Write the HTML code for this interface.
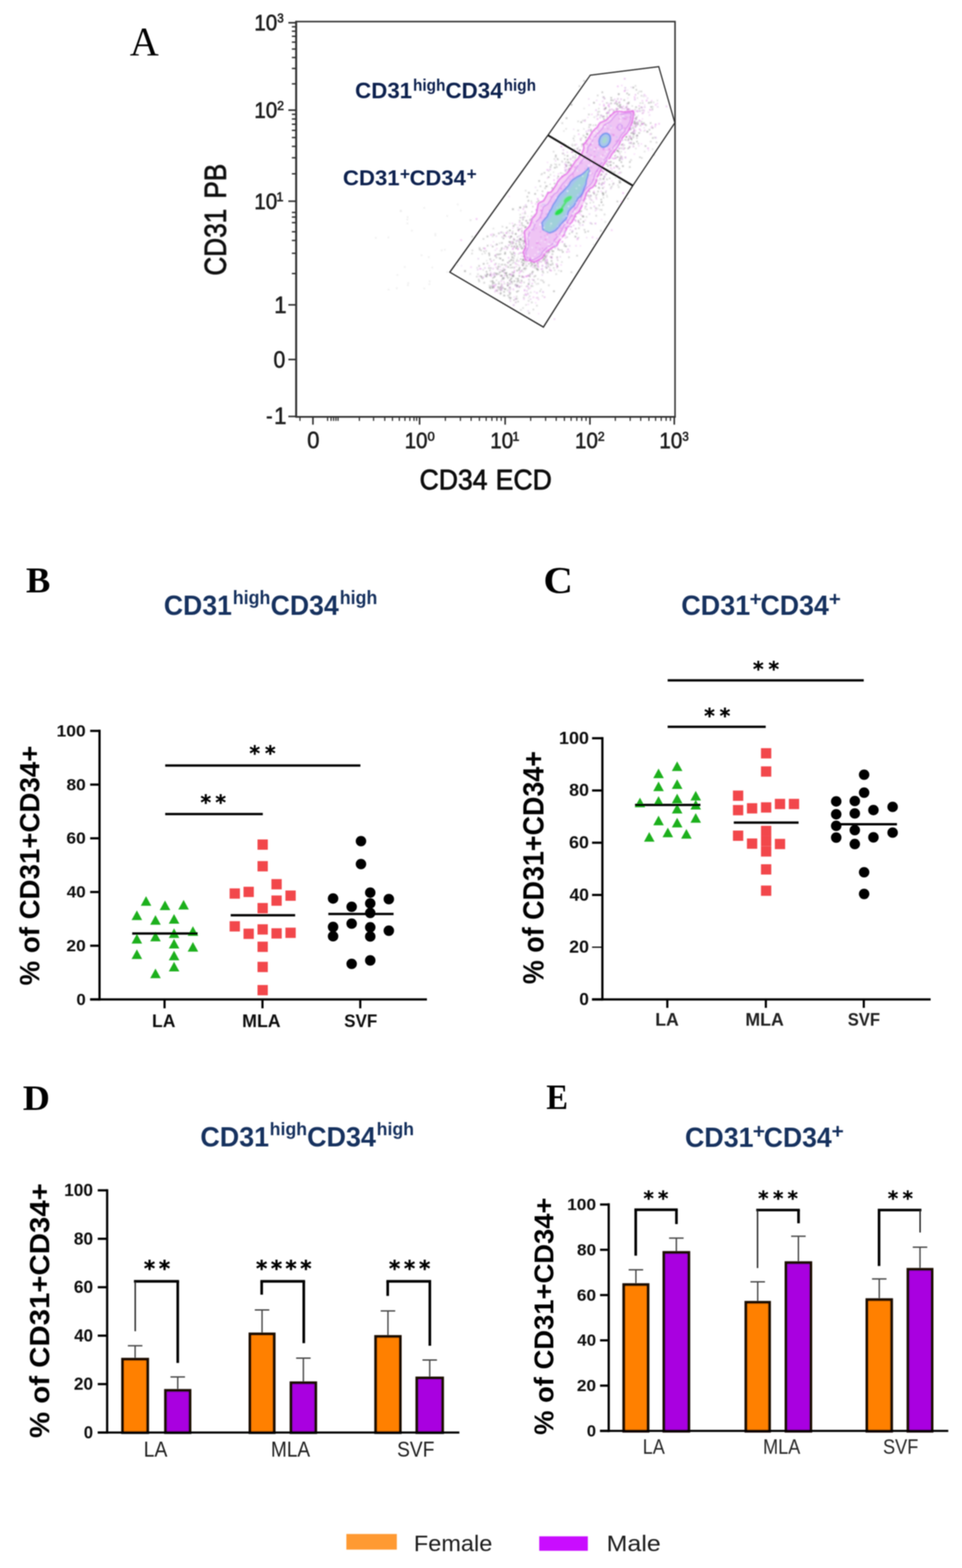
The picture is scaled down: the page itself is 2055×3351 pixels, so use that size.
<!DOCTYPE html>
<html lang="en"><head><meta charset="utf-8"><title>Figure</title>
<style>html,body{margin:0;padding:0;background:#fff;width:2055px;height:3351px}svg{display:block}text{white-space:pre}</style></head>
<body>
<svg width="2055" height="3351" viewBox="0 0 2055 3351" role="img" aria-label="Figure: CD31 and CD34 expression panels A to E">
<defs><filter id="b1" x="-5%" y="-5%" width="110%" height="110%"><feGaussianBlur stdDeviation="0.9"/></filter><filter id="gb" filterUnits="userSpaceOnUse" x="0" y="0" width="2055" height="3351"><feGaussianBlur stdDeviation="0.9"/></filter></defs>
<rect x="0" y="0" width="2055" height="3351" fill="#ffffff"/>
<g filter="url(#gb)">
<text transform="translate(277.14,117.80) scale(0.9885,1)" font-family='"Liberation Serif", serif' font-weight="normal" font-size="86.82" fill="#000" >A</text>
<path d="M632.6,46.2 H1442.0 V890.8 H632.6 Z" fill="none" stroke="#333" stroke-width="3.2"/>
<line x1="632.60" y1="44.70" x2="632.60" y2="892.30" stroke="#333" stroke-width="4.2" stroke-linecap="butt"/>
<line x1="631.60" y1="890.80" x2="1443.50" y2="890.80" stroke="#333" stroke-width="3.6" stroke-linecap="butt"/>
<line x1="616.00" y1="48.60" x2="632.60" y2="48.60" stroke="#333" stroke-width="3.4" stroke-linecap="butt"/>
<line x1="616.00" y1="235.40" x2="632.60" y2="235.40" stroke="#333" stroke-width="3.4" stroke-linecap="butt"/>
<line x1="616.00" y1="430.00" x2="632.60" y2="430.00" stroke="#333" stroke-width="3.4" stroke-linecap="butt"/>
<line x1="616.00" y1="651.50" x2="632.60" y2="651.50" stroke="#333" stroke-width="3.4" stroke-linecap="butt"/>
<line x1="616.00" y1="768.30" x2="632.60" y2="768.30" stroke="#333" stroke-width="3.4" stroke-linecap="butt"/>
<line x1="616.00" y1="890.00" x2="632.60" y2="890.00" stroke="#333" stroke-width="3.4" stroke-linecap="butt"/>
<line x1="623.50" y1="179.17" x2="632.60" y2="179.17" stroke="#333" stroke-width="3.0" stroke-linecap="butt"/>
<line x1="623.50" y1="146.27" x2="632.60" y2="146.27" stroke="#333" stroke-width="3.0" stroke-linecap="butt"/>
<line x1="623.50" y1="122.94" x2="632.60" y2="122.94" stroke="#333" stroke-width="3.0" stroke-linecap="butt"/>
<line x1="623.50" y1="104.83" x2="632.60" y2="104.83" stroke="#333" stroke-width="3.0" stroke-linecap="butt"/>
<line x1="623.50" y1="90.04" x2="632.60" y2="90.04" stroke="#333" stroke-width="3.0" stroke-linecap="butt"/>
<line x1="623.50" y1="77.54" x2="632.60" y2="77.54" stroke="#333" stroke-width="3.0" stroke-linecap="butt"/>
<line x1="623.50" y1="66.70" x2="632.60" y2="66.70" stroke="#333" stroke-width="3.0" stroke-linecap="butt"/>
<line x1="623.50" y1="57.15" x2="632.60" y2="57.15" stroke="#333" stroke-width="3.0" stroke-linecap="butt"/>
<line x1="623.50" y1="371.42" x2="632.60" y2="371.42" stroke="#333" stroke-width="3.0" stroke-linecap="butt"/>
<line x1="623.50" y1="337.15" x2="632.60" y2="337.15" stroke="#333" stroke-width="3.0" stroke-linecap="butt"/>
<line x1="623.50" y1="312.84" x2="632.60" y2="312.84" stroke="#333" stroke-width="3.0" stroke-linecap="butt"/>
<line x1="623.50" y1="293.98" x2="632.60" y2="293.98" stroke="#333" stroke-width="3.0" stroke-linecap="butt"/>
<line x1="623.50" y1="278.57" x2="632.60" y2="278.57" stroke="#333" stroke-width="3.0" stroke-linecap="butt"/>
<line x1="623.50" y1="265.54" x2="632.60" y2="265.54" stroke="#333" stroke-width="3.0" stroke-linecap="butt"/>
<line x1="623.50" y1="254.26" x2="632.60" y2="254.26" stroke="#333" stroke-width="3.0" stroke-linecap="butt"/>
<line x1="623.50" y1="244.30" x2="632.60" y2="244.30" stroke="#333" stroke-width="3.0" stroke-linecap="butt"/>
<line x1="623.50" y1="454.00" x2="632.60" y2="454.00" stroke="#333" stroke-width="3.0" stroke-linecap="butt"/>
<line x1="623.50" y1="463.90" x2="632.60" y2="463.90" stroke="#333" stroke-width="3.0" stroke-linecap="butt"/>
<line x1="623.50" y1="475.80" x2="632.60" y2="475.80" stroke="#333" stroke-width="3.0" stroke-linecap="butt"/>
<line x1="623.50" y1="495.30" x2="632.60" y2="495.30" stroke="#333" stroke-width="3.0" stroke-linecap="butt"/>
<line x1="623.50" y1="513.90" x2="632.60" y2="513.90" stroke="#333" stroke-width="3.0" stroke-linecap="butt"/>
<line x1="623.50" y1="541.30" x2="632.60" y2="541.30" stroke="#333" stroke-width="3.0" stroke-linecap="butt"/>
<line x1="623.50" y1="584.60" x2="632.60" y2="584.60" stroke="#333" stroke-width="3.0" stroke-linecap="butt"/>
<line x1="668.50" y1="890.80" x2="668.50" y2="907.50" stroke="#333" stroke-width="3.4" stroke-linecap="butt"/>
<line x1="896.30" y1="890.80" x2="896.30" y2="907.50" stroke="#333" stroke-width="3.4" stroke-linecap="butt"/>
<line x1="1079.10" y1="890.80" x2="1079.10" y2="907.50" stroke="#333" stroke-width="3.4" stroke-linecap="butt"/>
<line x1="1260.20" y1="890.80" x2="1260.20" y2="907.50" stroke="#333" stroke-width="3.4" stroke-linecap="butt"/>
<line x1="1440.40" y1="890.80" x2="1440.40" y2="907.50" stroke="#333" stroke-width="3.4" stroke-linecap="butt"/>
<line x1="640.80" y1="890.80" x2="640.80" y2="899.50" stroke="#333" stroke-width="2.6" stroke-linecap="butt"/>
<line x1="699.80" y1="890.80" x2="699.80" y2="899.50" stroke="#333" stroke-width="2.6" stroke-linecap="butt"/>
<line x1="707.20" y1="890.80" x2="707.20" y2="899.50" stroke="#333" stroke-width="2.6" stroke-linecap="butt"/>
<line x1="712.60" y1="890.80" x2="712.60" y2="899.50" stroke="#333" stroke-width="2.6" stroke-linecap="butt"/>
<line x1="717.60" y1="890.80" x2="717.60" y2="899.50" stroke="#333" stroke-width="2.6" stroke-linecap="butt"/>
<line x1="722.10" y1="890.80" x2="722.10" y2="899.50" stroke="#333" stroke-width="2.6" stroke-linecap="butt"/>
<line x1="767.70" y1="890.80" x2="767.70" y2="899.50" stroke="#333" stroke-width="2.6" stroke-linecap="butt"/>
<line x1="798.00" y1="890.80" x2="798.00" y2="899.50" stroke="#333" stroke-width="2.6" stroke-linecap="butt"/>
<line x1="821.90" y1="890.80" x2="821.90" y2="899.50" stroke="#333" stroke-width="2.6" stroke-linecap="butt"/>
<line x1="838.30" y1="890.80" x2="838.30" y2="899.50" stroke="#333" stroke-width="2.6" stroke-linecap="butt"/>
<line x1="853.00" y1="890.80" x2="853.00" y2="899.50" stroke="#333" stroke-width="2.6" stroke-linecap="butt"/>
<line x1="865.00" y1="890.80" x2="865.00" y2="899.50" stroke="#333" stroke-width="2.6" stroke-linecap="butt"/>
<line x1="875.50" y1="890.80" x2="875.50" y2="899.50" stroke="#333" stroke-width="2.6" stroke-linecap="butt"/>
<line x1="884.40" y1="890.80" x2="884.40" y2="899.50" stroke="#333" stroke-width="2.6" stroke-linecap="butt"/>
<line x1="890.00" y1="890.80" x2="890.00" y2="899.50" stroke="#333" stroke-width="2.6" stroke-linecap="butt"/>
<line x1="951.33" y1="890.80" x2="951.33" y2="899.50" stroke="#333" stroke-width="2.6" stroke-linecap="butt"/>
<line x1="983.52" y1="890.80" x2="983.52" y2="899.50" stroke="#333" stroke-width="2.6" stroke-linecap="butt"/>
<line x1="1006.36" y1="890.80" x2="1006.36" y2="899.50" stroke="#333" stroke-width="2.6" stroke-linecap="butt"/>
<line x1="1024.07" y1="890.80" x2="1024.07" y2="899.50" stroke="#333" stroke-width="2.6" stroke-linecap="butt"/>
<line x1="1038.55" y1="890.80" x2="1038.55" y2="899.50" stroke="#333" stroke-width="2.6" stroke-linecap="butt"/>
<line x1="1050.78" y1="890.80" x2="1050.78" y2="899.50" stroke="#333" stroke-width="2.6" stroke-linecap="butt"/>
<line x1="1061.38" y1="890.80" x2="1061.38" y2="899.50" stroke="#333" stroke-width="2.6" stroke-linecap="butt"/>
<line x1="1070.74" y1="890.80" x2="1070.74" y2="899.50" stroke="#333" stroke-width="2.6" stroke-linecap="butt"/>
<line x1="1133.62" y1="890.80" x2="1133.62" y2="899.50" stroke="#333" stroke-width="2.6" stroke-linecap="butt"/>
<line x1="1165.51" y1="890.80" x2="1165.51" y2="899.50" stroke="#333" stroke-width="2.6" stroke-linecap="butt"/>
<line x1="1188.13" y1="890.80" x2="1188.13" y2="899.50" stroke="#333" stroke-width="2.6" stroke-linecap="butt"/>
<line x1="1205.68" y1="890.80" x2="1205.68" y2="899.50" stroke="#333" stroke-width="2.6" stroke-linecap="butt"/>
<line x1="1220.02" y1="890.80" x2="1220.02" y2="899.50" stroke="#333" stroke-width="2.6" stroke-linecap="butt"/>
<line x1="1232.15" y1="890.80" x2="1232.15" y2="899.50" stroke="#333" stroke-width="2.6" stroke-linecap="butt"/>
<line x1="1242.65" y1="890.80" x2="1242.65" y2="899.50" stroke="#333" stroke-width="2.6" stroke-linecap="butt"/>
<line x1="1251.91" y1="890.80" x2="1251.91" y2="899.50" stroke="#333" stroke-width="2.6" stroke-linecap="butt"/>
<line x1="1314.45" y1="890.80" x2="1314.45" y2="899.50" stroke="#333" stroke-width="2.6" stroke-linecap="butt"/>
<line x1="1346.18" y1="890.80" x2="1346.18" y2="899.50" stroke="#333" stroke-width="2.6" stroke-linecap="butt"/>
<line x1="1368.69" y1="890.80" x2="1368.69" y2="899.50" stroke="#333" stroke-width="2.6" stroke-linecap="butt"/>
<line x1="1386.15" y1="890.80" x2="1386.15" y2="899.50" stroke="#333" stroke-width="2.6" stroke-linecap="butt"/>
<line x1="1400.42" y1="890.80" x2="1400.42" y2="899.50" stroke="#333" stroke-width="2.6" stroke-linecap="butt"/>
<line x1="1412.49" y1="890.80" x2="1412.49" y2="899.50" stroke="#333" stroke-width="2.6" stroke-linecap="butt"/>
<line x1="1422.94" y1="890.80" x2="1422.94" y2="899.50" stroke="#333" stroke-width="2.6" stroke-linecap="butt"/>
<line x1="1432.15" y1="890.80" x2="1432.15" y2="899.50" stroke="#333" stroke-width="2.6" stroke-linecap="butt"/>
<text transform="translate(543.31,65.12) scale(0.9057,1)" font-family='"Liberation Sans", sans-serif' font-weight="normal" font-size="48.48" fill="#1e1e1e" stroke="#1e1e1e" stroke-width="1.2" stroke-linejoin="round" >10</text>
<text transform="translate(592.27,48.33) scale(0.9107,1)" font-family='"Liberation Sans", sans-serif' font-weight="normal" font-size="27.28" fill="#1e1e1e" stroke="#1e1e1e" stroke-width="1.2" stroke-linejoin="round" >3</text>
<text transform="translate(543.31,251.92) scale(0.9057,1)" font-family='"Liberation Sans", sans-serif' font-weight="normal" font-size="48.48" fill="#1e1e1e" stroke="#1e1e1e" stroke-width="1.2" stroke-linejoin="round" >10</text>
<text transform="translate(591.88,235.40) scale(0.9531,1)" font-family='"Liberation Sans", sans-serif' font-weight="normal" font-size="27.67" fill="#1e1e1e" stroke="#1e1e1e" stroke-width="1.2" stroke-linejoin="round" >2</text>
<text transform="translate(543.31,446.52) scale(0.9057,1)" font-family='"Liberation Sans", sans-serif' font-weight="normal" font-size="48.48" fill="#1e1e1e" stroke="#1e1e1e" stroke-width="1.2" stroke-linejoin="round" >10</text>
<text transform="translate(590.59,430.00) scale(0.9649,1)" font-family='"Liberation Sans", sans-serif' font-weight="normal" font-size="28.07" fill="#1e1e1e" stroke="#1e1e1e" stroke-width="1.2" stroke-linejoin="round" >1</text>
<text transform="translate(585.82,669.20) scale(0.9599,1)" font-family='"Liberation Sans", sans-serif' font-weight="normal" font-size="49.60" fill="#1e1e1e" stroke="#1e1e1e" stroke-width="1.2" stroke-linejoin="round" >1</text>
<text transform="translate(584.19,786.31) scale(0.9144,1)" font-family='"Liberation Sans", sans-serif' font-weight="normal" font-size="49.47" fill="#1e1e1e" stroke="#1e1e1e" stroke-width="1.2" stroke-linejoin="round" >0</text>
<text transform="translate(585.62,906.20) scale(0.9627,1)" font-family='"Liberation Sans", sans-serif' font-weight="normal" font-size="49.45" fill="#1e1e1e" stroke="#1e1e1e" stroke-width="1.2" stroke-linejoin="round" >1</text>
<text transform="translate(568.34,904.61) scale(0.8897,1)" font-family='"Liberation Sans", sans-serif' font-weight="normal" font-size="47.74" fill="#1e1e1e" stroke="#1e1e1e" stroke-width="0.9" stroke-linejoin="round" >-</text>
<text transform="translate(656.32,958.41) scale(0.9565,1)" font-family='"Liberation Sans", sans-serif' font-weight="normal" font-size="49.05" fill="#1e1e1e" stroke="#1e1e1e" stroke-width="1.2" stroke-linejoin="round" >0</text>
<text transform="translate(864.41,958.42) scale(0.9057,1)" font-family='"Liberation Sans", sans-serif' font-weight="normal" font-size="48.48" fill="#1e1e1e" stroke="#1e1e1e" stroke-width="1.2" stroke-linejoin="round" >10</text>
<text transform="translate(913.19,941.63) scale(1.0211,1)" font-family='"Liberation Sans", sans-serif' font-weight="normal" font-size="27.28" fill="#1e1e1e" stroke="#1e1e1e" stroke-width="1.2" stroke-linejoin="round" >0</text>
<text transform="translate(1047.21,958.42) scale(0.9057,1)" font-family='"Liberation Sans", sans-serif' font-weight="normal" font-size="48.48" fill="#1e1e1e" stroke="#1e1e1e" stroke-width="1.2" stroke-linejoin="round" >10</text>
<text transform="translate(1094.49,941.90) scale(0.9649,1)" font-family='"Liberation Sans", sans-serif' font-weight="normal" font-size="28.07" fill="#1e1e1e" stroke="#1e1e1e" stroke-width="1.2" stroke-linejoin="round" >1</text>
<text transform="translate(1228.31,958.42) scale(0.9057,1)" font-family='"Liberation Sans", sans-serif' font-weight="normal" font-size="48.48" fill="#1e1e1e" stroke="#1e1e1e" stroke-width="1.2" stroke-linejoin="round" >10</text>
<text transform="translate(1276.88,941.90) scale(0.9531,1)" font-family='"Liberation Sans", sans-serif' font-weight="normal" font-size="27.67" fill="#1e1e1e" stroke="#1e1e1e" stroke-width="1.2" stroke-linejoin="round" >2</text>
<text transform="translate(1408.51,958.42) scale(0.9057,1)" font-family='"Liberation Sans", sans-serif' font-weight="normal" font-size="48.48" fill="#1e1e1e" stroke="#1e1e1e" stroke-width="1.2" stroke-linejoin="round" >10</text>
<text transform="translate(1457.47,941.63) scale(0.9107,1)" font-family='"Liberation Sans", sans-serif' font-weight="normal" font-size="27.28" fill="#1e1e1e" stroke="#1e1e1e" stroke-width="1.2" stroke-linejoin="round" >3</text>
<text transform="translate(896.21,1046.04) scale(0.9327,1)" font-family='"Liberation Sans", sans-serif' font-weight="normal" font-size="60.92" fill="#0a0a0a" stroke="#0a0a0a" stroke-width="1.5" stroke-linejoin="round" >CD34 <tspan dx="1.76">ECD</tspan></text>
<text transform="translate(482.49,589.05) rotate(-90) scale(0.8525,1)" font-family='"Liberation Sans", sans-serif' font-weight="normal" font-size="65.58" fill="#0a0a0a" stroke="#0a0a0a" stroke-width="1.5" stroke-linejoin="round">CD31 <tspan dx="7.13">PB</tspan></text>
<text transform="translate(758.59,210.30) scale(0.9835,1)" font-family='"Liberation Sans", sans-serif' font-weight="bold" font-size="48.44" fill="#10224f" >CD31</text>
<text transform="translate(882.20,194.30) scale(0.9334,1)" font-family='"Liberation Sans", sans-serif' font-weight="bold" font-size="35.17" fill="#10224f" >high</text>
<text transform="translate(951.59,210.30) scale(0.9870,1)" font-family='"Liberation Sans", sans-serif' font-weight="bold" font-size="48.44" fill="#10224f" >CD34</text>
<text transform="translate(1075.70,194.30) scale(0.9334,1)" font-family='"Liberation Sans", sans-serif' font-weight="bold" font-size="35.17" fill="#10224f" >high</text>
<text transform="translate(732.40,395.80) scale(1.0420,1)" font-family='"Liberation Sans", sans-serif' font-weight="bold" font-size="45.53" fill="#10224f" >CD31</text>
<text transform="translate(854.23,383.92) scale(1.0150,1)" font-family='"Liberation Sans", sans-serif' font-weight="bold" font-size="36.45" fill="#10224f" >+</text>
<text transform="translate(874.92,395.80) scale(1.0326,1)" font-family='"Liberation Sans", sans-serif' font-weight="bold" font-size="45.53" fill="#10224f" >CD34</text>
<text transform="translate(996.73,383.92) scale(1.0150,1)" font-family='"Liberation Sans", sans-serif' font-weight="bold" font-size="36.45" fill="#10224f" >+</text>
<g filter="url(#b1)">
<rect x="1023.4" y="532.0" width="2.7" height="2.7" fill="#a8a8a8" opacity="0.79"/>
<rect x="1046.9" y="588.1" width="2.8" height="2.8" fill="#e8a0ee" opacity="0.70"/>
<rect x="1140.4" y="560.9" width="2.8" height="2.8" fill="#989898" opacity="0.81"/>
<rect x="1121.5" y="572.0" width="3.4" height="3.4" fill="#b8b8b8" opacity="0.84"/>
<rect x="1092.9" y="549.3" width="3.2" height="3.2" fill="#808080" opacity="0.48"/>
<rect x="1050.6" y="614.0" width="2.9" height="2.9" fill="#8c8c8c" opacity="0.76"/>
<rect x="1065.8" y="580.4" width="3.0" height="3.0" fill="#8c8c8c" opacity="0.65"/>
<rect x="1096.1" y="550.2" width="3.0" height="3.0" fill="#a8a8a8" opacity="0.61"/>
<rect x="1112.5" y="578.4" width="2.6" height="2.6" fill="#b8b8b8" opacity="0.54"/>
<rect x="1075.7" y="592.8" width="2.9" height="2.9" fill="#989898" opacity="0.49"/>
<rect x="1065.4" y="613.3" width="3.2" height="3.2" fill="#808080" opacity="0.45"/>
<rect x="1087.6" y="613.1" width="2.8" height="2.8" fill="#808080" opacity="0.84"/>
<rect x="1130.7" y="614.3" width="3.0" height="3.0" fill="#e8a0ee" opacity="0.58"/>
<rect x="1103.5" y="608.7" width="3.4" height="3.4" fill="#808080" opacity="0.75"/>
<rect x="1069.6" y="614.6" width="2.8" height="2.8" fill="#808080" opacity="0.64"/>
<rect x="1124.5" y="566.8" width="2.7" height="2.7" fill="#8c8c8c" opacity="0.53"/>
<rect x="1145.0" y="573.4" width="2.7" height="2.7" fill="#989898" opacity="0.85"/>
<rect x="1095.6" y="650.4" width="3.4" height="3.4" fill="#d0a4e0" opacity="0.77"/>
<rect x="1099.5" y="606.9" width="3.4" height="3.4" fill="#989898" opacity="0.69"/>
<rect x="1086.8" y="556.8" width="3.4" height="3.4" fill="#808080" opacity="0.54"/>
<rect x="1083.4" y="602.8" width="2.7" height="2.7" fill="#b8b8b8" opacity="0.48"/>
<rect x="1046.6" y="585.0" width="2.5" height="2.5" fill="#e388e8" opacity="0.69"/>
<rect x="1007.5" y="533.4" width="3.2" height="3.2" fill="#a8a8a8" opacity="0.50"/>
<rect x="1112.4" y="603.4" width="2.4" height="2.4" fill="#e388e8" opacity="0.81"/>
<rect x="1134.7" y="565.1" width="2.4" height="2.4" fill="#8c8c8c" opacity="0.83"/>
<rect x="1096.0" y="516.8" width="2.3" height="2.3" fill="#989898" opacity="0.65"/>
<rect x="1058.1" y="585.9" width="3.0" height="3.0" fill="#d896e4" opacity="0.55"/>
<rect x="1096.7" y="526.2" width="3.3" height="3.3" fill="#a8a8a8" opacity="0.84"/>
<rect x="1054.2" y="602.7" width="2.9" height="2.9" fill="#a8a8a8" opacity="0.79"/>
<rect x="1090.6" y="553.7" width="3.1" height="3.1" fill="#8c8c8c" opacity="0.48"/>
<rect x="1162.3" y="633.9" width="2.3" height="2.3" fill="#8c8c8c" opacity="0.52"/>
<rect x="1071.3" y="577.7" width="2.4" height="2.4" fill="#808080" opacity="0.63"/>
<rect x="1076.7" y="587.2" width="3.0" height="3.0" fill="#d896e4" opacity="0.68"/>
<rect x="1077.0" y="616.3" width="3.0" height="3.0" fill="#808080" opacity="0.84"/>
<rect x="1063.8" y="625.3" width="2.3" height="2.3" fill="#e388e8" opacity="0.48"/>
<rect x="1091.3" y="600.3" width="2.9" height="2.9" fill="#a8a8a8" opacity="0.74"/>
<rect x="1096.4" y="539.1" width="2.6" height="2.6" fill="#808080" opacity="0.72"/>
<rect x="1068.8" y="495.2" width="3.2" height="3.2" fill="#d0a4e0" opacity="0.83"/>
<rect x="1057.4" y="619.5" width="2.7" height="2.7" fill="#e388e8" opacity="0.68"/>
<rect x="1104.1" y="563.9" width="2.3" height="2.3" fill="#989898" opacity="0.50"/>
<rect x="1053.6" y="582.5" width="3.0" height="3.0" fill="#d896e4" opacity="0.63"/>
<rect x="1108.5" y="589.1" width="2.3" height="2.3" fill="#8c8c8c" opacity="0.75"/>
<rect x="1032.7" y="602.6" width="3.3" height="3.3" fill="#8c8c8c" opacity="0.50"/>
<rect x="1093.8" y="530.8" width="3.3" height="3.3" fill="#e388e8" opacity="0.55"/>
<rect x="1046.1" y="614.6" width="2.8" height="2.8" fill="#8c8c8c" opacity="0.75"/>
<rect x="1132.3" y="623.7" width="2.8" height="2.8" fill="#a8a8a8" opacity="0.55"/>
<rect x="1089.4" y="584.7" width="3.2" height="3.2" fill="#e8a0ee" opacity="0.82"/>
<rect x="1170.0" y="568.1" width="2.5" height="2.5" fill="#989898" opacity="0.82"/>
<rect x="1096.1" y="618.9" width="2.2" height="2.2" fill="#d0a4e0" opacity="0.48"/>
<rect x="1147.4" y="561.4" width="3.2" height="3.2" fill="#8c8c8c" opacity="0.60"/>
<rect x="1122.0" y="589.7" width="2.6" height="2.6" fill="#e388e8" opacity="0.79"/>
<rect x="1118.1" y="516.9" width="2.5" height="2.5" fill="#808080" opacity="0.69"/>
<rect x="1112.8" y="559.3" width="2.9" height="2.9" fill="#b8b8b8" opacity="0.57"/>
<rect x="1095.3" y="581.2" width="3.1" height="3.1" fill="#808080" opacity="0.56"/>
<rect x="1143.7" y="565.2" width="2.7" height="2.7" fill="#989898" opacity="0.70"/>
<rect x="1016.7" y="496.7" width="2.6" height="2.6" fill="#e8a0ee" opacity="0.48"/>
<rect x="1086.3" y="614.0" width="2.2" height="2.2" fill="#d896e4" opacity="0.64"/>
<rect x="1088.9" y="537.4" width="2.5" height="2.5" fill="#a8a8a8" opacity="0.76"/>
<rect x="1135.8" y="596.2" width="2.4" height="2.4" fill="#e8a0ee" opacity="0.79"/>
<rect x="1097.8" y="545.7" width="2.3" height="2.3" fill="#8c8c8c" opacity="0.82"/>
<rect x="1136.9" y="569.3" width="3.3" height="3.3" fill="#e388e8" opacity="0.45"/>
<rect x="1126.3" y="588.1" width="3.3" height="3.3" fill="#e388e8" opacity="0.77"/>
<rect x="1081.3" y="497.2" width="2.3" height="2.3" fill="#8c8c8c" opacity="0.80"/>
<rect x="1105.8" y="598.2" width="3.4" height="3.4" fill="#989898" opacity="0.66"/>
<rect x="1086.0" y="523.8" width="2.2" height="2.2" fill="#d0a4e0" opacity="0.65"/>
<rect x="1128.9" y="667.7" width="2.9" height="2.9" fill="#808080" opacity="0.76"/>
<rect x="1154.5" y="617.0" width="2.7" height="2.7" fill="#989898" opacity="0.46"/>
<rect x="1109.4" y="579.0" width="3.1" height="3.1" fill="#e388e8" opacity="0.51"/>
<rect x="1018.9" y="575.0" width="3.0" height="3.0" fill="#d0a4e0" opacity="0.63"/>
<rect x="1117.8" y="532.2" width="3.3" height="3.3" fill="#b8b8b8" opacity="0.48"/>
<rect x="1049.7" y="585.2" width="2.9" height="2.9" fill="#d896e4" opacity="0.52"/>
<rect x="1092.8" y="570.5" width="2.5" height="2.5" fill="#8c8c8c" opacity="0.72"/>
<rect x="1159.5" y="549.5" width="3.2" height="3.2" fill="#b8b8b8" opacity="0.84"/>
<rect x="1065.2" y="549.9" width="2.8" height="2.8" fill="#b8b8b8" opacity="0.61"/>
<rect x="1101.0" y="636.8" width="3.4" height="3.4" fill="#8c8c8c" opacity="0.66"/>
<rect x="1090.3" y="586.0" width="3.4" height="3.4" fill="#e8a0ee" opacity="0.50"/>
<rect x="1105.5" y="643.1" width="2.7" height="2.7" fill="#a8a8a8" opacity="0.83"/>
<rect x="1192.3" y="576.9" width="2.5" height="2.5" fill="#b8b8b8" opacity="0.65"/>
<rect x="1147.7" y="634.7" width="2.8" height="2.8" fill="#a8a8a8" opacity="0.49"/>
<rect x="1045.6" y="552.3" width="3.3" height="3.3" fill="#808080" opacity="0.50"/>
<rect x="1137.6" y="561.1" width="2.2" height="2.2" fill="#8c8c8c" opacity="0.56"/>
<rect x="1115.3" y="554.2" width="2.9" height="2.9" fill="#8c8c8c" opacity="0.49"/>
<rect x="1141.0" y="570.7" width="3.1" height="3.1" fill="#b8b8b8" opacity="0.73"/>
<rect x="1021.3" y="595.7" width="2.4" height="2.4" fill="#b8b8b8" opacity="0.53"/>
<rect x="1060.0" y="530.1" width="2.5" height="2.5" fill="#e388e8" opacity="0.54"/>
<rect x="1084.1" y="560.1" width="3.0" height="3.0" fill="#d896e4" opacity="0.59"/>
<rect x="1064.5" y="601.5" width="2.6" height="2.6" fill="#b8b8b8" opacity="0.82"/>
<rect x="1145.2" y="651.5" width="3.3" height="3.3" fill="#a8a8a8" opacity="0.50"/>
<rect x="1066.4" y="617.0" width="2.3" height="2.3" fill="#989898" opacity="0.78"/>
<rect x="1095.1" y="586.1" width="3.0" height="3.0" fill="#989898" opacity="0.77"/>
<rect x="1051.2" y="605.2" width="3.0" height="3.0" fill="#b8b8b8" opacity="0.81"/>
<rect x="1140.6" y="566.3" width="3.4" height="3.4" fill="#8c8c8c" opacity="0.78"/>
<rect x="1110.6" y="538.9" width="2.9" height="2.9" fill="#e8a0ee" opacity="0.66"/>
<rect x="1102.1" y="568.5" width="2.4" height="2.4" fill="#a8a8a8" opacity="0.50"/>
<rect x="1087.8" y="618.9" width="2.3" height="2.3" fill="#e388e8" opacity="0.47"/>
<rect x="1096.4" y="580.8" width="2.7" height="2.7" fill="#a8a8a8" opacity="0.59"/>
<rect x="1046.6" y="584.8" width="2.2" height="2.2" fill="#808080" opacity="0.73"/>
<rect x="1146.2" y="573.1" width="3.3" height="3.3" fill="#989898" opacity="0.69"/>
<rect x="1075.3" y="622.1" width="3.2" height="3.2" fill="#989898" opacity="0.73"/>
<rect x="1093.8" y="518.6" width="3.3" height="3.3" fill="#e388e8" opacity="0.68"/>
<rect x="1048.5" y="589.0" width="2.5" height="2.5" fill="#e8a0ee" opacity="0.81"/>
<rect x="1098.4" y="539.4" width="2.4" height="2.4" fill="#e8a0ee" opacity="0.82"/>
<rect x="1050.6" y="599.2" width="3.1" height="3.1" fill="#808080" opacity="0.76"/>
<rect x="1125.6" y="609.5" width="2.4" height="2.4" fill="#d896e4" opacity="0.77"/>
<rect x="1137.9" y="633.7" width="3.3" height="3.3" fill="#e388e8" opacity="0.47"/>
<rect x="1121.1" y="626.5" width="2.6" height="2.6" fill="#e388e8" opacity="0.54"/>
<rect x="1095.2" y="588.5" width="3.4" height="3.4" fill="#8c8c8c" opacity="0.71"/>
<rect x="1122.6" y="562.6" width="2.7" height="2.7" fill="#e8a0ee" opacity="0.68"/>
<rect x="1087.9" y="627.7" width="2.7" height="2.7" fill="#a8a8a8" opacity="0.47"/>
<rect x="1090.0" y="616.9" width="2.2" height="2.2" fill="#989898" opacity="0.55"/>
<rect x="1058.3" y="582.9" width="3.4" height="3.4" fill="#989898" opacity="0.68"/>
<rect x="1166.0" y="547.9" width="2.7" height="2.7" fill="#e388e8" opacity="0.71"/>
<rect x="1059.6" y="542.2" width="3.3" height="3.3" fill="#989898" opacity="0.51"/>
<rect x="1022.8" y="528.7" width="3.2" height="3.2" fill="#a8a8a8" opacity="0.67"/>
<rect x="1068.4" y="541.2" width="2.8" height="2.8" fill="#b8b8b8" opacity="0.69"/>
<rect x="1103.3" y="600.2" width="2.8" height="2.8" fill="#b8b8b8" opacity="0.56"/>
<rect x="1098.6" y="511.4" width="2.2" height="2.2" fill="#808080" opacity="0.55"/>
<rect x="1017.1" y="589.9" width="2.7" height="2.7" fill="#a8a8a8" opacity="0.72"/>
<rect x="1051.5" y="612.0" width="3.4" height="3.4" fill="#b8b8b8" opacity="0.83"/>
<rect x="1096.6" y="639.9" width="2.7" height="2.7" fill="#8c8c8c" opacity="0.64"/>
<rect x="1167.4" y="557.6" width="3.3" height="3.3" fill="#d896e4" opacity="0.51"/>
<rect x="1116.0" y="656.9" width="2.7" height="2.7" fill="#989898" opacity="0.53"/>
<rect x="1047.9" y="609.7" width="2.4" height="2.4" fill="#a8a8a8" opacity="0.62"/>
<rect x="1100.5" y="562.6" width="2.9" height="2.9" fill="#e388e8" opacity="0.62"/>
<rect x="1003.6" y="469.0" width="3.1" height="3.1" fill="#b8b8b8" opacity="0.55"/>
<rect x="1047.0" y="599.7" width="3.1" height="3.1" fill="#b8b8b8" opacity="0.70"/>
<rect x="1079.6" y="584.9" width="3.0" height="3.0" fill="#b8b8b8" opacity="0.53"/>
<rect x="1130.3" y="632.0" width="2.4" height="2.4" fill="#8c8c8c" opacity="0.55"/>
<rect x="1188.8" y="565.9" width="3.0" height="3.0" fill="#808080" opacity="0.45"/>
<rect x="1045.1" y="576.3" width="2.9" height="2.9" fill="#808080" opacity="0.49"/>
<rect x="1111.9" y="579.4" width="2.4" height="2.4" fill="#e388e8" opacity="0.54"/>
<rect x="1077.0" y="564.2" width="3.1" height="3.1" fill="#a8a8a8" opacity="0.79"/>
<rect x="1089.9" y="635.2" width="2.7" height="2.7" fill="#989898" opacity="0.78"/>
<rect x="1078.4" y="525.2" width="3.2" height="3.2" fill="#989898" opacity="0.60"/>
<rect x="1136.4" y="579.3" width="3.1" height="3.1" fill="#8c8c8c" opacity="0.78"/>
<rect x="1072.0" y="606.2" width="2.6" height="2.6" fill="#e388e8" opacity="0.49"/>
<rect x="1107.4" y="572.9" width="3.2" height="3.2" fill="#a8a8a8" opacity="0.64"/>
<rect x="1147.6" y="561.3" width="2.9" height="2.9" fill="#e388e8" opacity="0.73"/>
<rect x="1097.6" y="576.7" width="3.0" height="3.0" fill="#e8a0ee" opacity="0.56"/>
<rect x="1037.8" y="588.9" width="3.3" height="3.3" fill="#808080" opacity="0.58"/>
<rect x="1133.5" y="609.6" width="3.3" height="3.3" fill="#b8b8b8" opacity="0.83"/>
<rect x="1070.7" y="494.7" width="2.7" height="2.7" fill="#b8b8b8" opacity="0.54"/>
<rect x="1098.9" y="541.9" width="2.6" height="2.6" fill="#d0a4e0" opacity="0.60"/>
<rect x="1087.6" y="584.8" width="3.2" height="3.2" fill="#989898" opacity="0.75"/>
<rect x="1072.3" y="578.5" width="2.9" height="2.9" fill="#b8b8b8" opacity="0.52"/>
<rect x="1126.9" y="556.8" width="2.5" height="2.5" fill="#d0a4e0" opacity="0.46"/>
<rect x="1056.5" y="545.2" width="3.0" height="3.0" fill="#808080" opacity="0.77"/>
<rect x="1053.8" y="611.9" width="2.6" height="2.6" fill="#8c8c8c" opacity="0.67"/>
<rect x="1082.3" y="590.5" width="2.3" height="2.3" fill="#808080" opacity="0.70"/>
<rect x="1086.5" y="622.3" width="3.2" height="3.2" fill="#d896e4" opacity="0.62"/>
<rect x="1039.7" y="503.8" width="3.1" height="3.1" fill="#808080" opacity="0.61"/>
<rect x="1089.8" y="595.2" width="3.0" height="3.0" fill="#808080" opacity="0.65"/>
<rect x="1089.6" y="564.7" width="2.7" height="2.7" fill="#808080" opacity="0.78"/>
<rect x="1057.3" y="522.9" width="2.2" height="2.2" fill="#d0a4e0" opacity="0.60"/>
<rect x="1027.1" y="589.7" width="2.8" height="2.8" fill="#808080" opacity="0.73"/>
<rect x="1074.5" y="571.9" width="2.4" height="2.4" fill="#d896e4" opacity="0.70"/>
<rect x="1118.3" y="562.2" width="2.4" height="2.4" fill="#808080" opacity="0.62"/>
<rect x="1092.9" y="604.3" width="3.1" height="3.1" fill="#b8b8b8" opacity="0.57"/>
<rect x="1069.8" y="609.0" width="3.3" height="3.3" fill="#a8a8a8" opacity="0.75"/>
<rect x="1003.4" y="584.3" width="2.3" height="2.3" fill="#808080" opacity="0.52"/>
<rect x="1083.3" y="609.0" width="2.9" height="2.9" fill="#8c8c8c" opacity="0.64"/>
<rect x="1031.7" y="529.2" width="2.4" height="2.4" fill="#989898" opacity="0.75"/>
<rect x="1107.9" y="611.6" width="3.3" height="3.3" fill="#8c8c8c" opacity="0.67"/>
<rect x="1088.1" y="515.8" width="3.0" height="3.0" fill="#808080" opacity="0.76"/>
<rect x="1070.7" y="619.2" width="2.5" height="2.5" fill="#d0a4e0" opacity="0.47"/>
<rect x="1067.5" y="551.0" width="3.1" height="3.1" fill="#8c8c8c" opacity="0.77"/>
<rect x="1126.8" y="663.1" width="2.8" height="2.8" fill="#d0a4e0" opacity="0.60"/>
<rect x="1085.6" y="522.6" width="2.7" height="2.7" fill="#d896e4" opacity="0.80"/>
<rect x="1092.9" y="585.5" width="3.2" height="3.2" fill="#d0a4e0" opacity="0.50"/>
<rect x="1095.3" y="537.6" width="2.5" height="2.5" fill="#b8b8b8" opacity="0.66"/>
<rect x="1071.8" y="611.2" width="3.3" height="3.3" fill="#d0a4e0" opacity="0.51"/>
<rect x="1068.3" y="612.1" width="2.5" height="2.5" fill="#808080" opacity="0.74"/>
<rect x="1031.0" y="591.2" width="2.9" height="2.9" fill="#d896e4" opacity="0.79"/>
<rect x="1087.1" y="598.5" width="2.4" height="2.4" fill="#e8a0ee" opacity="0.53"/>
<rect x="1116.2" y="561.1" width="2.9" height="2.9" fill="#808080" opacity="0.66"/>
<rect x="1037.3" y="586.3" width="3.4" height="3.4" fill="#d0a4e0" opacity="0.58"/>
<rect x="983.5" y="511.7" width="3.1" height="3.1" fill="#e388e8" opacity="0.59"/>
<rect x="1070.4" y="528.8" width="3.0" height="3.0" fill="#989898" opacity="0.72"/>
<rect x="1117.5" y="552.2" width="2.2" height="2.2" fill="#a8a8a8" opacity="0.60"/>
<rect x="1094.8" y="542.1" width="2.6" height="2.6" fill="#8c8c8c" opacity="0.50"/>
<rect x="1154.9" y="574.1" width="2.4" height="2.4" fill="#d896e4" opacity="0.70"/>
<rect x="1031.5" y="562.2" width="3.3" height="3.3" fill="#989898" opacity="0.75"/>
<rect x="1025.1" y="588.7" width="2.4" height="2.4" fill="#8c8c8c" opacity="0.74"/>
<rect x="1124.1" y="620.1" width="3.0" height="3.0" fill="#d896e4" opacity="0.63"/>
<rect x="1073.7" y="577.3" width="2.4" height="2.4" fill="#989898" opacity="0.49"/>
<rect x="1103.6" y="553.1" width="2.2" height="2.2" fill="#989898" opacity="0.64"/>
<rect x="1090.8" y="540.3" width="2.5" height="2.5" fill="#989898" opacity="0.51"/>
<rect x="1059.0" y="606.4" width="2.7" height="2.7" fill="#d0a4e0" opacity="0.65"/>
<rect x="1113.9" y="564.8" width="2.4" height="2.4" fill="#e8a0ee" opacity="0.73"/>
<rect x="1135.6" y="604.7" width="2.7" height="2.7" fill="#d896e4" opacity="0.73"/>
<rect x="1108.7" y="510.4" width="2.5" height="2.5" fill="#e8a0ee" opacity="0.84"/>
<rect x="1097.0" y="571.0" width="3.0" height="3.0" fill="#b8b8b8" opacity="0.49"/>
<rect x="1108.9" y="602.3" width="2.6" height="2.6" fill="#8c8c8c" opacity="0.57"/>
<rect x="1062.4" y="612.0" width="3.3" height="3.3" fill="#8c8c8c" opacity="0.67"/>
<rect x="1061.4" y="573.3" width="2.8" height="2.8" fill="#8c8c8c" opacity="0.68"/>
<rect x="1182.8" y="680.4" width="3.2" height="3.2" fill="#d896e4" opacity="0.53"/>
<rect x="1080.0" y="496.3" width="3.0" height="3.0" fill="#e388e8" opacity="0.76"/>
<rect x="1036.7" y="589.1" width="2.6" height="2.6" fill="#808080" opacity="0.82"/>
<rect x="1091.3" y="592.6" width="3.3" height="3.3" fill="#a8a8a8" opacity="0.63"/>
<rect x="1115.7" y="553.5" width="2.9" height="2.9" fill="#8c8c8c" opacity="0.67"/>
<rect x="1122.3" y="628.7" width="3.4" height="3.4" fill="#d896e4" opacity="0.78"/>
<rect x="1147.7" y="595.0" width="3.0" height="3.0" fill="#b8b8b8" opacity="0.60"/>
<rect x="1157.5" y="578.0" width="3.2" height="3.2" fill="#808080" opacity="0.52"/>
<rect x="1107.2" y="575.3" width="3.1" height="3.1" fill="#a8a8a8" opacity="0.82"/>
<rect x="1073.2" y="614.0" width="2.9" height="2.9" fill="#989898" opacity="0.71"/>
<rect x="1051.2" y="504.0" width="2.4" height="2.4" fill="#a8a8a8" opacity="0.64"/>
<rect x="1038.7" y="589.5" width="2.6" height="2.6" fill="#a8a8a8" opacity="0.50"/>
<rect x="1106.2" y="620.7" width="2.3" height="2.3" fill="#808080" opacity="0.76"/>
<rect x="1119.9" y="557.6" width="2.9" height="2.9" fill="#a8a8a8" opacity="0.64"/>
<rect x="1057.5" y="561.8" width="3.3" height="3.3" fill="#b8b8b8" opacity="0.68"/>
<rect x="1076.2" y="575.3" width="3.2" height="3.2" fill="#a8a8a8" opacity="0.79"/>
<rect x="1157.7" y="631.1" width="2.3" height="2.3" fill="#989898" opacity="0.50"/>
<rect x="1108.2" y="516.6" width="3.3" height="3.3" fill="#989898" opacity="0.58"/>
<rect x="1099.8" y="645.0" width="2.9" height="2.9" fill="#d896e4" opacity="0.62"/>
<rect x="1062.2" y="570.3" width="3.3" height="3.3" fill="#b8b8b8" opacity="0.55"/>
<rect x="1173.1" y="575.6" width="2.8" height="2.8" fill="#8c8c8c" opacity="0.61"/>
<rect x="1050.9" y="611.8" width="2.9" height="2.9" fill="#8c8c8c" opacity="0.71"/>
<rect x="1089.7" y="503.7" width="3.4" height="3.4" fill="#989898" opacity="0.74"/>
<rect x="1094.6" y="517.5" width="3.2" height="3.2" fill="#b8b8b8" opacity="0.54"/>
<rect x="1144.3" y="570.6" width="2.3" height="2.3" fill="#b8b8b8" opacity="0.48"/>
<rect x="1144.4" y="605.2" width="3.3" height="3.3" fill="#b8b8b8" opacity="0.45"/>
<rect x="1127.9" y="635.6" width="2.2" height="2.2" fill="#b8b8b8" opacity="0.52"/>
<rect x="1053.6" y="554.6" width="2.6" height="2.6" fill="#a8a8a8" opacity="0.68"/>
<rect x="1076.7" y="630.4" width="2.7" height="2.7" fill="#808080" opacity="0.58"/>
<rect x="1119.4" y="617.6" width="2.8" height="2.8" fill="#e8a0ee" opacity="0.53"/>
<rect x="1126.5" y="626.9" width="3.3" height="3.3" fill="#d896e4" opacity="0.53"/>
<rect x="1097.6" y="524.7" width="3.0" height="3.0" fill="#a8a8a8" opacity="0.73"/>
<rect x="1130.2" y="589.3" width="3.0" height="3.0" fill="#8c8c8c" opacity="0.53"/>
<rect x="1117.2" y="555.1" width="3.4" height="3.4" fill="#808080" opacity="0.56"/>
<rect x="1112.3" y="598.1" width="2.7" height="2.7" fill="#e8a0ee" opacity="0.48"/>
<rect x="1056.2" y="589.4" width="2.3" height="2.3" fill="#b8b8b8" opacity="0.73"/>
<rect x="1072.7" y="593.9" width="3.1" height="3.1" fill="#b8b8b8" opacity="0.60"/>
<rect x="1069.7" y="532.1" width="2.9" height="2.9" fill="#989898" opacity="0.54"/>
<rect x="1126.0" y="625.7" width="2.4" height="2.4" fill="#b8b8b8" opacity="0.72"/>
<rect x="1072.0" y="564.0" width="2.7" height="2.7" fill="#989898" opacity="0.66"/>
<rect x="1141.3" y="601.4" width="2.8" height="2.8" fill="#b8b8b8" opacity="0.62"/>
<rect x="1113.8" y="576.6" width="2.5" height="2.5" fill="#a8a8a8" opacity="0.75"/>
<rect x="1070.8" y="596.0" width="3.1" height="3.1" fill="#a8a8a8" opacity="0.51"/>
<rect x="1165.4" y="562.2" width="2.8" height="2.8" fill="#b8b8b8" opacity="0.75"/>
<rect x="1123.2" y="611.0" width="2.3" height="2.3" fill="#a8a8a8" opacity="0.76"/>
<rect x="1108.7" y="521.4" width="3.0" height="3.0" fill="#808080" opacity="0.76"/>
<rect x="1033.9" y="529.5" width="3.4" height="3.4" fill="#e388e8" opacity="0.75"/>
<rect x="1096.4" y="570.2" width="3.1" height="3.1" fill="#b8b8b8" opacity="0.52"/>
<rect x="1107.3" y="566.2" width="2.5" height="2.5" fill="#e8a0ee" opacity="0.74"/>
<rect x="1147.4" y="576.6" width="2.8" height="2.8" fill="#b8b8b8" opacity="0.54"/>
<rect x="1093.2" y="560.7" width="3.4" height="3.4" fill="#b8b8b8" opacity="0.47"/>
<rect x="1092.8" y="580.4" width="2.6" height="2.6" fill="#a8a8a8" opacity="0.69"/>
<rect x="1117.5" y="573.2" width="2.5" height="2.5" fill="#d896e4" opacity="0.77"/>
<rect x="1029.5" y="593.9" width="2.9" height="2.9" fill="#a8a8a8" opacity="0.67"/>
<rect x="1118.4" y="546.0" width="2.7" height="2.7" fill="#b8b8b8" opacity="0.73"/>
<rect x="1124.0" y="557.9" width="2.3" height="2.3" fill="#a8a8a8" opacity="0.78"/>
<rect x="1018.0" y="571.0" width="2.5" height="2.5" fill="#b8b8b8" opacity="0.65"/>
<rect x="1077.8" y="538.1" width="2.7" height="2.7" fill="#808080" opacity="0.60"/>
<rect x="1055.7" y="590.1" width="2.4" height="2.4" fill="#808080" opacity="0.75"/>
<rect x="1139.6" y="589.6" width="3.1" height="3.1" fill="#8c8c8c" opacity="0.47"/>
<rect x="1118.7" y="629.8" width="2.4" height="2.4" fill="#8c8c8c" opacity="0.61"/>
<rect x="1070.4" y="587.8" width="3.0" height="3.0" fill="#808080" opacity="0.74"/>
<rect x="1099.6" y="560.3" width="2.5" height="2.5" fill="#d0a4e0" opacity="0.63"/>
<rect x="1038.4" y="555.8" width="2.5" height="2.5" fill="#b8b8b8" opacity="0.51"/>
<rect x="1181.8" y="620.9" width="3.1" height="3.1" fill="#808080" opacity="0.68"/>
<rect x="1181.5" y="571.2" width="2.8" height="2.8" fill="#a8a8a8" opacity="0.61"/>
<rect x="1071.0" y="505.5" width="2.7" height="2.7" fill="#989898" opacity="0.47"/>
<rect x="1091.9" y="584.3" width="2.4" height="2.4" fill="#e8a0ee" opacity="0.53"/>
<rect x="1134.6" y="644.7" width="3.1" height="3.1" fill="#a8a8a8" opacity="0.64"/>
<rect x="1081.1" y="566.0" width="2.4" height="2.4" fill="#a8a8a8" opacity="0.60"/>
<rect x="1051.2" y="608.8" width="2.5" height="2.5" fill="#d896e4" opacity="0.83"/>
<rect x="1051.1" y="525.5" width="2.7" height="2.7" fill="#8c8c8c" opacity="0.82"/>
<rect x="1105.2" y="548.5" width="2.3" height="2.3" fill="#b8b8b8" opacity="0.47"/>
<rect x="1115.5" y="553.7" width="3.1" height="3.1" fill="#8c8c8c" opacity="0.81"/>
<rect x="1044.7" y="612.3" width="3.2" height="3.2" fill="#808080" opacity="0.63"/>
<rect x="1102.9" y="525.7" width="3.0" height="3.0" fill="#8c8c8c" opacity="0.57"/>
<rect x="1121.2" y="575.8" width="2.2" height="2.2" fill="#a8a8a8" opacity="0.51"/>
<rect x="1131.1" y="584.5" width="2.8" height="2.8" fill="#989898" opacity="0.73"/>
<rect x="1103.2" y="577.2" width="2.5" height="2.5" fill="#8c8c8c" opacity="0.74"/>
<rect x="1121.6" y="567.2" width="2.8" height="2.8" fill="#b8b8b8" opacity="0.63"/>
<rect x="1088.4" y="624.7" width="3.2" height="3.2" fill="#8c8c8c" opacity="0.54"/>
<rect x="1068.7" y="587.6" width="3.2" height="3.2" fill="#808080" opacity="0.75"/>
<rect x="1114.1" y="589.9" width="3.2" height="3.2" fill="#808080" opacity="0.84"/>
<rect x="1046.7" y="571.5" width="2.9" height="2.9" fill="#8c8c8c" opacity="0.59"/>
<rect x="1004.7" y="569.3" width="3.2" height="3.2" fill="#e8a0ee" opacity="0.54"/>
<rect x="1135.2" y="581.7" width="2.8" height="2.8" fill="#989898" opacity="0.65"/>
<rect x="1074.3" y="592.6" width="2.4" height="2.4" fill="#989898" opacity="0.76"/>
<rect x="1063.5" y="575.1" width="2.5" height="2.5" fill="#d896e4" opacity="0.49"/>
<rect x="1068.5" y="579.9" width="2.5" height="2.5" fill="#b8b8b8" opacity="0.79"/>
<rect x="1091.6" y="600.9" width="3.3" height="3.3" fill="#808080" opacity="0.50"/>
<rect x="1073.9" y="578.3" width="2.9" height="2.9" fill="#d0a4e0" opacity="0.64"/>
<rect x="1083.8" y="592.9" width="2.6" height="2.6" fill="#808080" opacity="0.60"/>
<rect x="1089.2" y="600.9" width="3.0" height="3.0" fill="#d0a4e0" opacity="0.52"/>
<rect x="1032.8" y="536.0" width="2.2" height="2.2" fill="#808080" opacity="0.73"/>
<rect x="1022.0" y="566.8" width="3.0" height="3.0" fill="#989898" opacity="0.70"/>
<rect x="1067.2" y="568.5" width="2.8" height="2.8" fill="#d0a4e0" opacity="0.63"/>
<rect x="1104.8" y="598.3" width="2.6" height="2.6" fill="#b8b8b8" opacity="0.59"/>
<rect x="1083.0" y="493.5" width="2.9" height="2.9" fill="#a8a8a8" opacity="0.56"/>
<rect x="1086.7" y="605.1" width="3.4" height="3.4" fill="#8c8c8c" opacity="0.45"/>
<rect x="1138.9" y="597.2" width="3.0" height="3.0" fill="#d0a4e0" opacity="0.67"/>
<rect x="1047.5" y="522.5" width="2.6" height="2.6" fill="#e8a0ee" opacity="0.59"/>
<rect x="1100.6" y="519.3" width="3.2" height="3.2" fill="#808080" opacity="0.53"/>
<rect x="1100.9" y="594.0" width="2.4" height="2.4" fill="#a8a8a8" opacity="0.70"/>
<rect x="1113.6" y="588.4" width="2.6" height="2.6" fill="#b8b8b8" opacity="0.62"/>
<rect x="1067.9" y="575.6" width="2.5" height="2.5" fill="#e388e8" opacity="0.58"/>
<rect x="1039.8" y="585.0" width="3.1" height="3.1" fill="#8c8c8c" opacity="0.80"/>
<rect x="1020.4" y="551.6" width="2.7" height="2.7" fill="#d0a4e0" opacity="0.76"/>
<rect x="1129.5" y="600.8" width="2.8" height="2.8" fill="#d0a4e0" opacity="0.59"/>
<rect x="1145.4" y="624.4" width="3.2" height="3.2" fill="#d896e4" opacity="0.61"/>
<rect x="1111.1" y="552.4" width="2.4" height="2.4" fill="#808080" opacity="0.79"/>
<rect x="1127.7" y="641.4" width="3.2" height="3.2" fill="#b8b8b8" opacity="0.68"/>
<rect x="1078.4" y="574.8" width="2.5" height="2.5" fill="#d0a4e0" opacity="0.51"/>
<rect x="1030.8" y="575.3" width="3.0" height="3.0" fill="#b8b8b8" opacity="0.54"/>
<rect x="1117.6" y="637.5" width="3.4" height="3.4" fill="#e8a0ee" opacity="0.50"/>
<rect x="1113.4" y="558.3" width="2.5" height="2.5" fill="#989898" opacity="0.72"/>
<rect x="1080.6" y="581.4" width="3.1" height="3.1" fill="#a8a8a8" opacity="0.50"/>
<rect x="1047.7" y="611.0" width="2.6" height="2.6" fill="#b8b8b8" opacity="0.67"/>
<rect x="1058.8" y="503.4" width="2.9" height="2.9" fill="#d0a4e0" opacity="0.64"/>
<rect x="1127.7" y="615.9" width="2.7" height="2.7" fill="#b8b8b8" opacity="0.80"/>
<rect x="1115.6" y="565.6" width="3.1" height="3.1" fill="#989898" opacity="0.84"/>
<rect x="1140.5" y="622.3" width="2.5" height="2.5" fill="#d896e4" opacity="0.56"/>
<rect x="1064.0" y="497.1" width="3.3" height="3.3" fill="#8c8c8c" opacity="0.55"/>
<rect x="1117.7" y="591.5" width="2.4" height="2.4" fill="#989898" opacity="0.80"/>
<rect x="1056.1" y="582.2" width="2.5" height="2.5" fill="#989898" opacity="0.54"/>
<rect x="1084.1" y="569.3" width="2.9" height="2.9" fill="#808080" opacity="0.67"/>
<rect x="1127.3" y="649.3" width="2.3" height="2.3" fill="#e388e8" opacity="0.52"/>
<rect x="1097.7" y="578.5" width="2.4" height="2.4" fill="#e8a0ee" opacity="0.80"/>
<rect x="1043.9" y="541.3" width="2.9" height="2.9" fill="#989898" opacity="0.54"/>
<rect x="1135.2" y="584.1" width="2.9" height="2.9" fill="#d0a4e0" opacity="0.56"/>
<rect x="1197.3" y="578.0" width="2.9" height="2.9" fill="#a8a8a8" opacity="0.83"/>
<rect x="984.6" y="566.9" width="2.2" height="2.2" fill="#d0a4e0" opacity="0.52"/>
<rect x="1097.0" y="633.4" width="2.9" height="2.9" fill="#e8a0ee" opacity="0.48"/>
<rect x="1108.0" y="588.2" width="2.3" height="2.3" fill="#8c8c8c" opacity="0.60"/>
<rect x="1113.0" y="546.0" width="2.8" height="2.8" fill="#d896e4" opacity="0.57"/>
<rect x="1123.2" y="588.8" width="3.1" height="3.1" fill="#e388e8" opacity="0.84"/>
<rect x="1099.9" y="638.1" width="2.7" height="2.7" fill="#d896e4" opacity="0.81"/>
<rect x="1094.9" y="555.3" width="2.9" height="2.9" fill="#808080" opacity="0.54"/>
<rect x="1055.6" y="563.9" width="3.4" height="3.4" fill="#e8a0ee" opacity="0.70"/>
<rect x="1128.1" y="604.5" width="2.5" height="2.5" fill="#b8b8b8" opacity="0.81"/>
<rect x="1108.4" y="610.4" width="2.4" height="2.4" fill="#d896e4" opacity="0.47"/>
<rect x="1086.8" y="624.5" width="3.0" height="3.0" fill="#b8b8b8" opacity="0.52"/>
<rect x="1087.5" y="628.8" width="2.2" height="2.2" fill="#989898" opacity="0.61"/>
<rect x="1088.5" y="637.6" width="2.6" height="2.6" fill="#989898" opacity="0.66"/>
<rect x="1148.8" y="638.4" width="2.9" height="2.9" fill="#e8a0ee" opacity="0.68"/>
<rect x="1007.0" y="540.6" width="2.7" height="2.7" fill="#a8a8a8" opacity="0.73"/>
<rect x="1086.5" y="617.2" width="2.3" height="2.3" fill="#b8b8b8" opacity="0.61"/>
<rect x="1168.2" y="560.7" width="3.4" height="3.4" fill="#8c8c8c" opacity="0.51"/>
<rect x="1067.2" y="534.5" width="3.3" height="3.3" fill="#989898" opacity="0.47"/>
<rect x="1084.8" y="549.4" width="3.0" height="3.0" fill="#d896e4" opacity="0.65"/>
<rect x="1130.5" y="588.3" width="2.3" height="2.3" fill="#989898" opacity="0.75"/>
<rect x="1079.6" y="526.5" width="2.7" height="2.7" fill="#d0a4e0" opacity="0.54"/>
<rect x="1117.9" y="574.6" width="2.3" height="2.3" fill="#b8b8b8" opacity="0.82"/>
<rect x="1072.7" y="554.5" width="2.9" height="2.9" fill="#808080" opacity="0.82"/>
<rect x="1079.7" y="616.4" width="2.6" height="2.6" fill="#a8a8a8" opacity="0.55"/>
<rect x="1119.1" y="572.1" width="2.7" height="2.7" fill="#8c8c8c" opacity="0.80"/>
<rect x="1104.2" y="637.1" width="2.3" height="2.3" fill="#a8a8a8" opacity="0.52"/>
<rect x="1051.3" y="602.6" width="2.8" height="2.8" fill="#989898" opacity="0.85"/>
<rect x="1101.1" y="644.4" width="2.8" height="2.8" fill="#b8b8b8" opacity="0.59"/>
<rect x="1037.8" y="579.1" width="3.2" height="3.2" fill="#808080" opacity="0.53"/>
<rect x="1072.8" y="592.3" width="2.7" height="2.7" fill="#8c8c8c" opacity="0.75"/>
<rect x="1113.0" y="529.3" width="3.2" height="3.2" fill="#989898" opacity="0.79"/>
<rect x="1047.4" y="500.2" width="3.3" height="3.3" fill="#e8a0ee" opacity="0.77"/>
<rect x="1051.8" y="593.1" width="2.2" height="2.2" fill="#808080" opacity="0.59"/>
<rect x="1059.6" y="598.0" width="2.2" height="2.2" fill="#989898" opacity="0.72"/>
<rect x="1079.8" y="568.9" width="2.4" height="2.4" fill="#e388e8" opacity="0.70"/>
<rect x="1128.5" y="562.6" width="2.7" height="2.7" fill="#989898" opacity="0.78"/>
<rect x="1156.8" y="586.3" width="3.0" height="3.0" fill="#d0a4e0" opacity="0.56"/>
<rect x="1096.6" y="559.6" width="2.4" height="2.4" fill="#a8a8a8" opacity="0.68"/>
<rect x="1044.3" y="608.8" width="2.3" height="2.3" fill="#b8b8b8" opacity="0.83"/>
<rect x="1090.5" y="554.4" width="3.0" height="3.0" fill="#989898" opacity="0.74"/>
<rect x="1103.4" y="601.1" width="3.1" height="3.1" fill="#b8b8b8" opacity="0.53"/>
<rect x="1062.8" y="617.0" width="2.7" height="2.7" fill="#b8b8b8" opacity="0.63"/>
<rect x="1128.6" y="596.3" width="2.6" height="2.6" fill="#989898" opacity="0.73"/>
<rect x="1053.9" y="586.0" width="3.3" height="3.3" fill="#d0a4e0" opacity="0.83"/>
<rect x="1053.6" y="609.6" width="2.7" height="2.7" fill="#e388e8" opacity="0.82"/>
<rect x="1086.5" y="585.3" width="3.0" height="3.0" fill="#a8a8a8" opacity="0.60"/>
<rect x="1039.9" y="561.5" width="2.7" height="2.7" fill="#b8b8b8" opacity="0.83"/>
<rect x="1065.0" y="584.9" width="2.2" height="2.2" fill="#8c8c8c" opacity="0.60"/>
<rect x="1056.7" y="533.6" width="2.5" height="2.5" fill="#d0a4e0" opacity="0.62"/>
<rect x="1112.7" y="610.3" width="2.3" height="2.3" fill="#b8b8b8" opacity="0.71"/>
<rect x="1035.0" y="539.9" width="2.3" height="2.3" fill="#8c8c8c" opacity="0.60"/>
<rect x="1079.2" y="582.3" width="3.4" height="3.4" fill="#808080" opacity="0.78"/>
<rect x="1074.5" y="503.4" width="3.0" height="3.0" fill="#e388e8" opacity="0.64"/>
<rect x="1058.5" y="570.0" width="3.0" height="3.0" fill="#e388e8" opacity="0.47"/>
<rect x="1083.0" y="608.0" width="3.4" height="3.4" fill="#808080" opacity="0.61"/>
<rect x="1089.6" y="520.5" width="2.3" height="2.3" fill="#808080" opacity="0.63"/>
<rect x="1048.0" y="556.7" width="3.3" height="3.3" fill="#e388e8" opacity="0.66"/>
<rect x="1040.3" y="523.7" width="2.7" height="2.7" fill="#8c8c8c" opacity="0.75"/>
<rect x="1067.9" y="618.6" width="3.4" height="3.4" fill="#a8a8a8" opacity="0.73"/>
<rect x="1157.1" y="573.4" width="2.8" height="2.8" fill="#d896e4" opacity="0.80"/>
<rect x="1064.6" y="563.3" width="2.2" height="2.2" fill="#a8a8a8" opacity="0.79"/>
<rect x="1081.4" y="587.3" width="2.9" height="2.9" fill="#8c8c8c" opacity="0.84"/>
<rect x="1216.9" y="616.1" width="2.3" height="2.3" fill="#b8b8b8" opacity="0.68"/>
<rect x="1138.0" y="660.0" width="2.8" height="2.8" fill="#989898" opacity="0.57"/>
<rect x="1087.1" y="591.0" width="2.3" height="2.3" fill="#a8a8a8" opacity="0.54"/>
<rect x="1137.0" y="610.4" width="2.3" height="2.3" fill="#8c8c8c" opacity="0.51"/>
<rect x="1034.8" y="586.7" width="2.8" height="2.8" fill="#b8b8b8" opacity="0.61"/>
<rect x="1160.0" y="601.8" width="3.2" height="3.2" fill="#989898" opacity="0.54"/>
<rect x="1053.4" y="500.4" width="3.1" height="3.1" fill="#989898" opacity="0.74"/>
<rect x="1064.2" y="605.1" width="2.8" height="2.8" fill="#989898" opacity="0.81"/>
<rect x="1097.9" y="569.6" width="3.2" height="3.2" fill="#e8a0ee" opacity="0.47"/>
<rect x="1113.0" y="599.2" width="3.0" height="3.0" fill="#989898" opacity="0.62"/>
<rect x="1117.5" y="634.6" width="2.9" height="2.9" fill="#a8a8a8" opacity="0.65"/>
<rect x="1072.4" y="574.6" width="2.5" height="2.5" fill="#b8b8b8" opacity="0.48"/>
<rect x="1168.5" y="580.5" width="2.6" height="2.6" fill="#989898" opacity="0.62"/>
<rect x="1152.5" y="621.2" width="2.4" height="2.4" fill="#808080" opacity="0.60"/>
<rect x="1103.0" y="606.5" width="2.5" height="2.5" fill="#d0a4e0" opacity="0.49"/>
<rect x="1072.4" y="578.0" width="2.8" height="2.8" fill="#8c8c8c" opacity="0.66"/>
<rect x="1147.7" y="575.1" width="2.7" height="2.7" fill="#808080" opacity="0.84"/>
<rect x="991.6" y="577.7" width="3.4" height="3.4" fill="#808080" opacity="0.73"/>
<rect x="1074.1" y="508.1" width="2.9" height="2.9" fill="#8c8c8c" opacity="0.69"/>
<rect x="1043.6" y="566.8" width="2.6" height="2.6" fill="#e8a0ee" opacity="0.79"/>
<rect x="1076.6" y="605.0" width="2.5" height="2.5" fill="#b8b8b8" opacity="0.77"/>
<rect x="1112.4" y="597.4" width="2.9" height="2.9" fill="#b8b8b8" opacity="0.49"/>
<rect x="1063.3" y="568.0" width="3.2" height="3.2" fill="#8c8c8c" opacity="0.58"/>
<rect x="1107.9" y="610.7" width="2.5" height="2.5" fill="#e388e8" opacity="0.85"/>
<rect x="1043.1" y="539.8" width="2.9" height="2.9" fill="#989898" opacity="0.67"/>
<rect x="1122.2" y="528.0" width="3.1" height="3.1" fill="#e388e8" opacity="0.68"/>
<rect x="1055.9" y="622.3" width="2.8" height="2.8" fill="#d896e4" opacity="0.58"/>
<rect x="1157.6" y="598.2" width="3.1" height="3.1" fill="#a8a8a8" opacity="0.63"/>
<rect x="1082.6" y="527.4" width="3.1" height="3.1" fill="#989898" opacity="0.72"/>
<rect x="1051.6" y="498.5" width="2.3" height="2.3" fill="#d896e4" opacity="0.50"/>
<rect x="1092.7" y="547.3" width="2.7" height="2.7" fill="#989898" opacity="0.73"/>
<rect x="1102.4" y="556.0" width="3.3" height="3.3" fill="#989898" opacity="0.53"/>
<rect x="1029.0" y="541.6" width="2.4" height="2.4" fill="#989898" opacity="0.56"/>
<rect x="1075.6" y="574.8" width="3.3" height="3.3" fill="#989898" opacity="0.53"/>
<rect x="1075.5" y="529.9" width="2.7" height="2.7" fill="#e8a0ee" opacity="0.76"/>
<rect x="1069.6" y="616.6" width="3.2" height="3.2" fill="#d896e4" opacity="0.76"/>
<rect x="1145.0" y="635.2" width="2.6" height="2.6" fill="#e388e8" opacity="0.69"/>
<rect x="1103.4" y="576.9" width="2.7" height="2.7" fill="#989898" opacity="0.69"/>
<rect x="1096.1" y="580.6" width="3.4" height="3.4" fill="#d896e4" opacity="0.58"/>
<rect x="1091.9" y="542.0" width="3.0" height="3.0" fill="#8c8c8c" opacity="0.59"/>
<rect x="1161.4" y="633.4" width="3.2" height="3.2" fill="#e8a0ee" opacity="0.60"/>
<rect x="1132.5" y="567.1" width="3.3" height="3.3" fill="#989898" opacity="0.48"/>
<rect x="1038.9" y="584.1" width="2.8" height="2.8" fill="#989898" opacity="0.54"/>
<rect x="1135.2" y="563.4" width="3.0" height="3.0" fill="#989898" opacity="0.65"/>
<rect x="1102.2" y="632.2" width="2.9" height="2.9" fill="#a8a8a8" opacity="0.58"/>
<rect x="1070.4" y="610.1" width="2.6" height="2.6" fill="#e8a0ee" opacity="0.57"/>
<rect x="1132.0" y="638.0" width="2.8" height="2.8" fill="#d0a4e0" opacity="0.69"/>
<rect x="1149.5" y="669.2" width="2.4" height="2.4" fill="#e8a0ee" opacity="0.52"/>
<rect x="1111.7" y="510.4" width="3.3" height="3.3" fill="#989898" opacity="0.74"/>
<rect x="1103.0" y="611.3" width="3.2" height="3.2" fill="#d0a4e0" opacity="0.84"/>
<rect x="1056.0" y="606.4" width="3.0" height="3.0" fill="#b8b8b8" opacity="0.56"/>
<rect x="1116.5" y="579.7" width="2.8" height="2.8" fill="#b8b8b8" opacity="0.56"/>
<rect x="1074.3" y="592.5" width="2.7" height="2.7" fill="#d0a4e0" opacity="0.78"/>
<rect x="1138.2" y="597.2" width="2.9" height="2.9" fill="#a8a8a8" opacity="0.67"/>
<rect x="1065.7" y="518.4" width="3.1" height="3.1" fill="#b8b8b8" opacity="0.55"/>
<rect x="1054.3" y="613.8" width="2.6" height="2.6" fill="#e8a0ee" opacity="0.76"/>
<rect x="1047.2" y="581.6" width="2.5" height="2.5" fill="#d896e4" opacity="0.71"/>
<rect x="1089.4" y="605.0" width="2.6" height="2.6" fill="#d896e4" opacity="0.54"/>
<rect x="1188.5" y="570.2" width="3.1" height="3.1" fill="#e388e8" opacity="0.57"/>
<rect x="1111.1" y="660.7" width="3.4" height="3.4" fill="#b8b8b8" opacity="0.53"/>
<rect x="1076.0" y="581.1" width="3.0" height="3.0" fill="#e388e8" opacity="0.51"/>
<rect x="1104.7" y="593.9" width="3.4" height="3.4" fill="#a8a8a8" opacity="0.72"/>
<rect x="1027.4" y="591.7" width="3.0" height="3.0" fill="#8c8c8c" opacity="0.48"/>
<rect x="1053.1" y="515.7" width="2.3" height="2.3" fill="#d896e4" opacity="0.51"/>
<rect x="1025.8" y="573.1" width="2.8" height="2.8" fill="#d896e4" opacity="0.67"/>
<rect x="1113.4" y="515.1" width="2.5" height="2.5" fill="#b8b8b8" opacity="0.54"/>
<rect x="1073.6" y="593.9" width="3.4" height="3.4" fill="#a8a8a8" opacity="0.83"/>
<rect x="1175.1" y="564.7" width="2.9" height="2.9" fill="#808080" opacity="0.77"/>
<rect x="1071.8" y="482.8" width="2.9" height="2.9" fill="#b8b8b8" opacity="0.70"/>
<rect x="1161.2" y="554.0" width="2.3" height="2.3" fill="#808080" opacity="0.57"/>
<rect x="1102.8" y="609.8" width="2.7" height="2.7" fill="#808080" opacity="0.51"/>
<rect x="1023.7" y="572.6" width="3.1" height="3.1" fill="#e8a0ee" opacity="0.77"/>
<rect x="1022.0" y="599.6" width="3.3" height="3.3" fill="#989898" opacity="0.54"/>
<rect x="1092.4" y="588.2" width="2.6" height="2.6" fill="#8c8c8c" opacity="0.46"/>
<rect x="1145.9" y="568.2" width="2.3" height="2.3" fill="#b8b8b8" opacity="0.60"/>
<rect x="1081.8" y="531.2" width="2.5" height="2.5" fill="#e388e8" opacity="0.80"/>
<rect x="1069.3" y="605.6" width="2.5" height="2.5" fill="#a8a8a8" opacity="0.63"/>
<rect x="1095.0" y="616.4" width="3.0" height="3.0" fill="#e388e8" opacity="0.55"/>
<rect x="1087.7" y="565.6" width="2.9" height="2.9" fill="#b8b8b8" opacity="0.46"/>
<rect x="1119.0" y="619.3" width="3.1" height="3.1" fill="#d896e4" opacity="0.72"/>
<rect x="1148.5" y="604.9" width="2.7" height="2.7" fill="#8c8c8c" opacity="0.47"/>
<rect x="1126.9" y="587.4" width="2.6" height="2.6" fill="#a8a8a8" opacity="0.59"/>
<rect x="1158.0" y="555.2" width="2.7" height="2.7" fill="#a8a8a8" opacity="0.72"/>
<rect x="1075.4" y="601.3" width="2.4" height="2.4" fill="#e8a0ee" opacity="0.81"/>
<rect x="1112.4" y="576.7" width="3.3" height="3.3" fill="#d0a4e0" opacity="0.47"/>
<rect x="1059.0" y="620.2" width="2.7" height="2.7" fill="#989898" opacity="0.51"/>
<rect x="1086.3" y="633.8" width="3.3" height="3.3" fill="#8c8c8c" opacity="0.59"/>
<rect x="1159.3" y="553.0" width="3.2" height="3.2" fill="#a8a8a8" opacity="0.58"/>
<rect x="1068.0" y="624.9" width="3.3" height="3.3" fill="#8c8c8c" opacity="0.74"/>
<rect x="1179.3" y="564.0" width="2.6" height="2.6" fill="#a8a8a8" opacity="0.74"/>
<rect x="1166.8" y="559.2" width="3.1" height="3.1" fill="#a8a8a8" opacity="0.72"/>
<rect x="1122.7" y="650.4" width="2.4" height="2.4" fill="#808080" opacity="0.50"/>
<rect x="1057.0" y="543.8" width="3.2" height="3.2" fill="#e8a0ee" opacity="0.55"/>
<rect x="1056.8" y="609.7" width="2.5" height="2.5" fill="#e388e8" opacity="0.48"/>
<rect x="1087.9" y="598.1" width="2.4" height="2.4" fill="#8c8c8c" opacity="0.84"/>
<rect x="1031.5" y="509.4" width="2.6" height="2.6" fill="#989898" opacity="0.77"/>
<rect x="1086.5" y="496.5" width="2.8" height="2.8" fill="#d0a4e0" opacity="0.47"/>
<rect x="1082.6" y="619.1" width="3.4" height="3.4" fill="#a8a8a8" opacity="0.46"/>
<rect x="1106.3" y="542.0" width="2.3" height="2.3" fill="#a8a8a8" opacity="0.61"/>
<rect x="1163.3" y="551.1" width="2.9" height="2.9" fill="#a8a8a8" opacity="0.48"/>
<rect x="1067.9" y="627.6" width="2.2" height="2.2" fill="#808080" opacity="0.57"/>
<rect x="1060.8" y="620.2" width="3.0" height="3.0" fill="#808080" opacity="0.55"/>
<rect x="1159.2" y="581.5" width="2.6" height="2.6" fill="#a8a8a8" opacity="0.80"/>
<rect x="1066.5" y="542.2" width="2.5" height="2.5" fill="#a8a8a8" opacity="0.83"/>
<rect x="1116.2" y="590.0" width="3.3" height="3.3" fill="#e388e8" opacity="0.79"/>
<rect x="1164.2" y="548.3" width="3.1" height="3.1" fill="#b8b8b8" opacity="0.82"/>
<rect x="1051.6" y="572.5" width="3.3" height="3.3" fill="#d896e4" opacity="0.56"/>
<rect x="1056.4" y="608.7" width="2.2" height="2.2" fill="#e388e8" opacity="0.64"/>
<rect x="1067.1" y="613.8" width="2.7" height="2.7" fill="#e388e8" opacity="0.45"/>
<rect x="1037.0" y="534.7" width="2.8" height="2.8" fill="#b8b8b8" opacity="0.79"/>
<rect x="1128.3" y="586.7" width="2.8" height="2.8" fill="#e388e8" opacity="0.71"/>
<rect x="1067.8" y="588.8" width="2.3" height="2.3" fill="#e8a0ee" opacity="0.68"/>
<rect x="1094.1" y="588.9" width="2.5" height="2.5" fill="#808080" opacity="0.81"/>
<rect x="1059.1" y="548.8" width="2.8" height="2.8" fill="#989898" opacity="0.64"/>
<rect x="1100.3" y="609.5" width="3.0" height="3.0" fill="#d0a4e0" opacity="0.65"/>
<rect x="1096.1" y="510.2" width="3.2" height="3.2" fill="#a8a8a8" opacity="0.84"/>
<rect x="1085.8" y="504.5" width="2.5" height="2.5" fill="#e388e8" opacity="0.74"/>
<rect x="1060.2" y="584.6" width="3.2" height="3.2" fill="#989898" opacity="0.57"/>
<rect x="1143.2" y="646.1" width="2.2" height="2.2" fill="#e8a0ee" opacity="0.65"/>
<rect x="1097.0" y="599.3" width="3.3" height="3.3" fill="#989898" opacity="0.71"/>
<rect x="1021.8" y="589.8" width="2.4" height="2.4" fill="#e388e8" opacity="0.55"/>
<rect x="1061.9" y="583.5" width="3.0" height="3.0" fill="#b8b8b8" opacity="0.75"/>
<rect x="1142.5" y="588.2" width="2.7" height="2.7" fill="#808080" opacity="0.61"/>
<rect x="1126.5" y="611.8" width="3.2" height="3.2" fill="#e8a0ee" opacity="0.68"/>
<rect x="1103.2" y="512.5" width="3.1" height="3.1" fill="#989898" opacity="0.47"/>
<rect x="1094.2" y="515.3" width="3.2" height="3.2" fill="#a8a8a8" opacity="0.54"/>
<rect x="1115.3" y="564.8" width="2.7" height="2.7" fill="#8c8c8c" opacity="0.64"/>
<rect x="1059.8" y="520.9" width="3.0" height="3.0" fill="#808080" opacity="0.72"/>
<rect x="1091.2" y="504.4" width="2.5" height="2.5" fill="#808080" opacity="0.83"/>
<rect x="1170.8" y="608.2" width="3.1" height="3.1" fill="#a8a8a8" opacity="0.58"/>
<rect x="1043.0" y="571.8" width="2.3" height="2.3" fill="#808080" opacity="0.73"/>
<rect x="1059.1" y="617.7" width="3.1" height="3.1" fill="#e8a0ee" opacity="0.55"/>
<rect x="1053.6" y="591.3" width="2.7" height="2.7" fill="#808080" opacity="0.59"/>
<rect x="1117.0" y="519.6" width="2.8" height="2.8" fill="#b8b8b8" opacity="0.83"/>
<rect x="1077.3" y="540.8" width="3.1" height="3.1" fill="#8c8c8c" opacity="0.82"/>
<rect x="1083.8" y="630.3" width="2.7" height="2.7" fill="#989898" opacity="0.72"/>
<rect x="1070.6" y="517.5" width="3.3" height="3.3" fill="#8c8c8c" opacity="0.55"/>
<rect x="1083.3" y="559.8" width="2.8" height="2.8" fill="#808080" opacity="0.53"/>
<rect x="1132.8" y="559.8" width="3.4" height="3.4" fill="#8c8c8c" opacity="0.76"/>
<rect x="1109.0" y="570.9" width="2.5" height="2.5" fill="#808080" opacity="0.77"/>
<rect x="1074.8" y="629.8" width="3.3" height="3.3" fill="#989898" opacity="0.53"/>
<rect x="1083.0" y="603.4" width="2.9" height="2.9" fill="#808080" opacity="0.45"/>
<rect x="1044.1" y="544.4" width="2.8" height="2.8" fill="#989898" opacity="0.76"/>
<rect x="1034.4" y="571.1" width="3.0" height="3.0" fill="#d0a4e0" opacity="0.72"/>
<rect x="1154.2" y="597.4" width="2.5" height="2.5" fill="#a8a8a8" opacity="0.68"/>
<rect x="1104.4" y="595.4" width="2.3" height="2.3" fill="#989898" opacity="0.61"/>
<rect x="1158.5" y="622.6" width="3.1" height="3.1" fill="#d0a4e0" opacity="0.84"/>
<rect x="1173.2" y="571.2" width="2.3" height="2.3" fill="#e388e8" opacity="0.57"/>
<rect x="1102.7" y="621.8" width="3.1" height="3.1" fill="#989898" opacity="0.80"/>
<rect x="1045.1" y="586.6" width="3.1" height="3.1" fill="#808080" opacity="0.73"/>
<rect x="1069.2" y="564.2" width="2.7" height="2.7" fill="#a8a8a8" opacity="0.53"/>
<rect x="1088.9" y="642.3" width="2.6" height="2.6" fill="#d0a4e0" opacity="0.76"/>
<rect x="1026.3" y="533.6" width="3.0" height="3.0" fill="#a8a8a8" opacity="0.72"/>
<rect x="1107.9" y="582.3" width="3.1" height="3.1" fill="#e8a0ee" opacity="0.61"/>
<rect x="1106.9" y="556.4" width="2.9" height="2.9" fill="#d896e4" opacity="0.69"/>
<rect x="1104.0" y="505.0" width="2.7" height="2.7" fill="#a8a8a8" opacity="0.71"/>
<rect x="1082.2" y="606.9" width="2.6" height="2.6" fill="#d896e4" opacity="0.73"/>
<rect x="1021.4" y="596.8" width="2.6" height="2.6" fill="#989898" opacity="0.62"/>
<rect x="1019.4" y="584.3" width="3.4" height="3.4" fill="#b8b8b8" opacity="0.53"/>
<rect x="1170.7" y="563.6" width="2.8" height="2.8" fill="#808080" opacity="0.47"/>
<rect x="1069.1" y="599.5" width="3.1" height="3.1" fill="#d896e4" opacity="0.59"/>
<rect x="1076.8" y="582.1" width="2.5" height="2.5" fill="#a8a8a8" opacity="0.73"/>
<rect x="1007.3" y="504.4" width="3.1" height="3.1" fill="#a8a8a8" opacity="0.68"/>
<rect x="1091.6" y="524.8" width="3.3" height="3.3" fill="#8c8c8c" opacity="0.56"/>
<rect x="1063.2" y="542.0" width="3.3" height="3.3" fill="#a8a8a8" opacity="0.77"/>
<rect x="1089.2" y="570.9" width="2.5" height="2.5" fill="#a8a8a8" opacity="0.77"/>
<rect x="1118.2" y="602.2" width="2.8" height="2.8" fill="#a8a8a8" opacity="0.67"/>
<rect x="1127.6" y="605.8" width="3.3" height="3.3" fill="#808080" opacity="0.59"/>
<rect x="1139.5" y="565.5" width="2.4" height="2.4" fill="#d896e4" opacity="0.60"/>
<rect x="1088.9" y="613.0" width="2.5" height="2.5" fill="#d896e4" opacity="0.59"/>
<rect x="1271.3" y="396.0" width="2.7" height="2.7" fill="#989898" opacity="0.77"/>
<rect x="1119.6" y="527.7" width="3.0" height="3.0" fill="#989898" opacity="0.46"/>
<rect x="1287.4" y="366.8" width="3.0" height="3.0" fill="#e388e8" opacity="0.58"/>
<rect x="1227.6" y="469.1" width="3.3" height="3.3" fill="#e8a0ee" opacity="0.77"/>
<rect x="1364.5" y="282.9" width="2.7" height="2.7" fill="#8c8c8c" opacity="0.62"/>
<rect x="1343.9" y="312.0" width="2.8" height="2.8" fill="#a8a8a8" opacity="0.69"/>
<rect x="1283.2" y="431.1" width="2.5" height="2.5" fill="#808080" opacity="0.74"/>
<rect x="1243.1" y="461.6" width="2.7" height="2.7" fill="#b8b8b8" opacity="0.77"/>
<rect x="1294.7" y="240.6" width="3.0" height="3.0" fill="#808080" opacity="0.73"/>
<rect x="1240.7" y="458.7" width="2.2" height="2.2" fill="#e388e8" opacity="0.82"/>
<rect x="1351.4" y="292.9" width="2.9" height="2.9" fill="#b8b8b8" opacity="0.71"/>
<rect x="1245.7" y="306.8" width="2.6" height="2.6" fill="#d896e4" opacity="0.56"/>
<rect x="1304.5" y="401.4" width="2.5" height="2.5" fill="#b8b8b8" opacity="0.46"/>
<rect x="1149.1" y="428.0" width="2.6" height="2.6" fill="#8c8c8c" opacity="0.82"/>
<rect x="1219.3" y="351.2" width="2.3" height="2.3" fill="#e8a0ee" opacity="0.65"/>
<rect x="1218.1" y="339.6" width="2.3" height="2.3" fill="#8c8c8c" opacity="0.55"/>
<rect x="1286.7" y="206.5" width="2.7" height="2.7" fill="#d0a4e0" opacity="0.67"/>
<rect x="1359.9" y="264.3" width="3.4" height="3.4" fill="#d0a4e0" opacity="0.46"/>
<rect x="1126.5" y="475.8" width="2.7" height="2.7" fill="#989898" opacity="0.85"/>
<rect x="1347.3" y="282.9" width="3.1" height="3.1" fill="#808080" opacity="0.69"/>
<rect x="1350.5" y="283.0" width="2.8" height="2.8" fill="#989898" opacity="0.82"/>
<rect x="1301.9" y="364.1" width="2.9" height="2.9" fill="#989898" opacity="0.45"/>
<rect x="1199.7" y="261.7" width="2.9" height="2.9" fill="#8c8c8c" opacity="0.55"/>
<rect x="1295.9" y="419.5" width="2.4" height="2.4" fill="#989898" opacity="0.53"/>
<rect x="1212.5" y="310.8" width="2.4" height="2.4" fill="#a8a8a8" opacity="0.64"/>
<rect x="1323.6" y="237.9" width="3.1" height="3.1" fill="#b8b8b8" opacity="0.58"/>
<rect x="1104.6" y="526.0" width="2.7" height="2.7" fill="#b8b8b8" opacity="0.78"/>
<rect x="1127.0" y="428.2" width="3.0" height="3.0" fill="#a8a8a8" opacity="0.62"/>
<rect x="1306.9" y="366.3" width="3.3" height="3.3" fill="#b8b8b8" opacity="0.72"/>
<rect x="1333.6" y="297.1" width="2.3" height="2.3" fill="#a8a8a8" opacity="0.70"/>
<rect x="1242.5" y="323.7" width="2.8" height="2.8" fill="#e388e8" opacity="0.47"/>
<rect x="1168.4" y="346.0" width="2.3" height="2.3" fill="#d896e4" opacity="0.55"/>
<rect x="1278.6" y="391.7" width="2.4" height="2.4" fill="#d896e4" opacity="0.69"/>
<rect x="1266.4" y="410.0" width="3.0" height="3.0" fill="#8c8c8c" opacity="0.70"/>
<rect x="1354.1" y="257.7" width="3.2" height="3.2" fill="#8c8c8c" opacity="0.70"/>
<rect x="1256.5" y="243.2" width="2.9" height="2.9" fill="#808080" opacity="0.54"/>
<rect x="1126.5" y="461.2" width="2.3" height="2.3" fill="#e8a0ee" opacity="0.53"/>
<rect x="1267.6" y="407.0" width="2.2" height="2.2" fill="#d896e4" opacity="0.57"/>
<rect x="1392.8" y="271.9" width="2.7" height="2.7" fill="#808080" opacity="0.77"/>
<rect x="1204.4" y="523.8" width="3.0" height="3.0" fill="#8c8c8c" opacity="0.60"/>
<rect x="1225.9" y="289.9" width="2.4" height="2.4" fill="#989898" opacity="0.61"/>
<rect x="1323.8" y="228.0" width="2.7" height="2.7" fill="#a8a8a8" opacity="0.72"/>
<rect x="1282.0" y="245.0" width="3.4" height="3.4" fill="#b8b8b8" opacity="0.79"/>
<rect x="1283.6" y="392.2" width="2.7" height="2.7" fill="#808080" opacity="0.68"/>
<rect x="1210.0" y="505.5" width="2.7" height="2.7" fill="#808080" opacity="0.56"/>
<rect x="1207.0" y="366.1" width="2.4" height="2.4" fill="#b8b8b8" opacity="0.67"/>
<rect x="1228.6" y="487.5" width="2.7" height="2.7" fill="#989898" opacity="0.82"/>
<rect x="1132.7" y="466.4" width="2.7" height="2.7" fill="#989898" opacity="0.58"/>
<rect x="1241.8" y="307.3" width="3.3" height="3.3" fill="#a8a8a8" opacity="0.71"/>
<rect x="1361.9" y="264.1" width="2.2" height="2.2" fill="#989898" opacity="0.62"/>
<rect x="1244.6" y="288.4" width="2.3" height="2.3" fill="#989898" opacity="0.49"/>
<rect x="1115.3" y="520.0" width="3.0" height="3.0" fill="#e8a0ee" opacity="0.55"/>
<rect x="1127.9" y="427.2" width="2.3" height="2.3" fill="#989898" opacity="0.71"/>
<rect x="1099.1" y="478.8" width="2.8" height="2.8" fill="#a8a8a8" opacity="0.50"/>
<rect x="1227.2" y="335.1" width="3.2" height="3.2" fill="#b8b8b8" opacity="0.82"/>
<rect x="1118.5" y="441.2" width="2.9" height="2.9" fill="#e8a0ee" opacity="0.65"/>
<rect x="1167.2" y="545.1" width="2.3" height="2.3" fill="#989898" opacity="0.83"/>
<rect x="1314.0" y="337.0" width="2.7" height="2.7" fill="#989898" opacity="0.65"/>
<rect x="1247.7" y="256.8" width="3.3" height="3.3" fill="#e8a0ee" opacity="0.72"/>
<rect x="1352.4" y="305.4" width="3.4" height="3.4" fill="#989898" opacity="0.47"/>
<rect x="1252.4" y="446.5" width="2.7" height="2.7" fill="#a8a8a8" opacity="0.68"/>
<rect x="1228.5" y="471.0" width="3.3" height="3.3" fill="#d896e4" opacity="0.54"/>
<rect x="1155.2" y="558.7" width="2.4" height="2.4" fill="#a8a8a8" opacity="0.50"/>
<rect x="1293.7" y="254.7" width="2.3" height="2.3" fill="#a8a8a8" opacity="0.72"/>
<rect x="1135.1" y="451.4" width="2.5" height="2.5" fill="#808080" opacity="0.47"/>
<rect x="1252.1" y="434.7" width="2.6" height="2.6" fill="#989898" opacity="0.61"/>
<rect x="1322.5" y="327.0" width="2.8" height="2.8" fill="#a8a8a8" opacity="0.57"/>
<rect x="1267.2" y="218.1" width="3.1" height="3.1" fill="#8c8c8c" opacity="0.83"/>
<rect x="1080.8" y="484.8" width="3.2" height="3.2" fill="#808080" opacity="0.55"/>
<rect x="1343.2" y="304.0" width="3.3" height="3.3" fill="#d0a4e0" opacity="0.80"/>
<rect x="1119.8" y="485.0" width="2.5" height="2.5" fill="#989898" opacity="0.55"/>
<rect x="1220.5" y="494.6" width="3.0" height="3.0" fill="#989898" opacity="0.69"/>
<rect x="1275.7" y="242.6" width="2.7" height="2.7" fill="#d896e4" opacity="0.71"/>
<rect x="1168.7" y="410.6" width="3.0" height="3.0" fill="#8c8c8c" opacity="0.51"/>
<rect x="1235.1" y="486.3" width="3.0" height="3.0" fill="#989898" opacity="0.55"/>
<rect x="1237.8" y="475.4" width="2.9" height="2.9" fill="#b8b8b8" opacity="0.70"/>
<rect x="1309.3" y="347.2" width="2.8" height="2.8" fill="#989898" opacity="0.70"/>
<rect x="1113.5" y="491.7" width="2.6" height="2.6" fill="#989898" opacity="0.64"/>
<rect x="1325.8" y="345.0" width="3.1" height="3.1" fill="#8c8c8c" opacity="0.65"/>
<rect x="1260.2" y="442.8" width="2.2" height="2.2" fill="#d0a4e0" opacity="0.63"/>
<rect x="1280.6" y="374.1" width="2.6" height="2.6" fill="#e388e8" opacity="0.66"/>
<rect x="1274.4" y="413.6" width="2.7" height="2.7" fill="#a8a8a8" opacity="0.51"/>
<rect x="1285.1" y="195.7" width="3.1" height="3.1" fill="#989898" opacity="0.71"/>
<rect x="1199.3" y="376.1" width="2.6" height="2.6" fill="#8c8c8c" opacity="0.50"/>
<rect x="1276.0" y="407.7" width="3.1" height="3.1" fill="#a8a8a8" opacity="0.73"/>
<rect x="1211.0" y="339.5" width="3.1" height="3.1" fill="#8c8c8c" opacity="0.63"/>
<rect x="1275.5" y="202.8" width="2.6" height="2.6" fill="#8c8c8c" opacity="0.63"/>
<rect x="1228.8" y="461.6" width="2.8" height="2.8" fill="#808080" opacity="0.60"/>
<rect x="1278.0" y="231.0" width="2.3" height="2.3" fill="#8c8c8c" opacity="0.56"/>
<rect x="1255.8" y="278.5" width="2.6" height="2.6" fill="#d896e4" opacity="0.71"/>
<rect x="1166.9" y="552.9" width="2.4" height="2.4" fill="#d0a4e0" opacity="0.53"/>
<rect x="1339.9" y="422.8" width="3.0" height="3.0" fill="#b8b8b8" opacity="0.70"/>
<rect x="1226.4" y="308.4" width="3.2" height="3.2" fill="#b8b8b8" opacity="0.82"/>
<rect x="1256.4" y="275.6" width="3.4" height="3.4" fill="#d896e4" opacity="0.46"/>
<rect x="1298.2" y="223.6" width="3.4" height="3.4" fill="#e388e8" opacity="0.73"/>
<rect x="1122.6" y="470.5" width="2.9" height="2.9" fill="#808080" opacity="0.81"/>
<rect x="1255.9" y="416.4" width="3.1" height="3.1" fill="#989898" opacity="0.57"/>
<rect x="1324.6" y="314.5" width="3.3" height="3.3" fill="#b8b8b8" opacity="0.48"/>
<rect x="1178.0" y="535.7" width="3.4" height="3.4" fill="#b8b8b8" opacity="0.53"/>
<rect x="1128.2" y="410.5" width="3.2" height="3.2" fill="#808080" opacity="0.62"/>
<rect x="1250.4" y="439.5" width="3.1" height="3.1" fill="#d896e4" opacity="0.59"/>
<rect x="1213.9" y="352.3" width="2.6" height="2.6" fill="#b8b8b8" opacity="0.63"/>
<rect x="1260.4" y="265.5" width="2.6" height="2.6" fill="#808080" opacity="0.63"/>
<rect x="1213.2" y="361.4" width="2.7" height="2.7" fill="#808080" opacity="0.61"/>
<rect x="1124.9" y="418.7" width="3.3" height="3.3" fill="#a8a8a8" opacity="0.74"/>
<rect x="1321.9" y="367.8" width="3.3" height="3.3" fill="#e8a0ee" opacity="0.81"/>
<rect x="1219.0" y="222.1" width="3.2" height="3.2" fill="#808080" opacity="0.78"/>
<rect x="1278.1" y="390.8" width="2.7" height="2.7" fill="#a8a8a8" opacity="0.83"/>
<rect x="1279.0" y="389.5" width="2.3" height="2.3" fill="#e8a0ee" opacity="0.70"/>
<rect x="1342.8" y="315.0" width="2.2" height="2.2" fill="#d896e4" opacity="0.54"/>
<rect x="1322.3" y="340.7" width="3.4" height="3.4" fill="#b8b8b8" opacity="0.61"/>
<rect x="1191.1" y="375.7" width="2.9" height="2.9" fill="#808080" opacity="0.73"/>
<rect x="1227.7" y="346.4" width="2.7" height="2.7" fill="#8c8c8c" opacity="0.56"/>
<rect x="1294.4" y="349.6" width="2.4" height="2.4" fill="#989898" opacity="0.60"/>
<rect x="1183.0" y="338.6" width="2.5" height="2.5" fill="#a8a8a8" opacity="0.63"/>
<rect x="1323.8" y="222.5" width="3.0" height="3.0" fill="#b8b8b8" opacity="0.50"/>
<rect x="1400.9" y="302.9" width="3.0" height="3.0" fill="#808080" opacity="0.49"/>
<rect x="1170.8" y="537.3" width="3.4" height="3.4" fill="#e8a0ee" opacity="0.84"/>
<rect x="1186.2" y="350.3" width="3.3" height="3.3" fill="#b8b8b8" opacity="0.69"/>
<rect x="1354.6" y="262.5" width="3.3" height="3.3" fill="#989898" opacity="0.82"/>
<rect x="1351.8" y="311.3" width="3.0" height="3.0" fill="#b8b8b8" opacity="0.58"/>
<rect x="1325.0" y="366.9" width="3.2" height="3.2" fill="#a8a8a8" opacity="0.47"/>
<rect x="1093.6" y="493.3" width="3.1" height="3.1" fill="#a8a8a8" opacity="0.47"/>
<rect x="1116.3" y="445.2" width="3.0" height="3.0" fill="#e388e8" opacity="0.60"/>
<rect x="1322.8" y="384.4" width="3.1" height="3.1" fill="#a8a8a8" opacity="0.61"/>
<rect x="1356.7" y="267.5" width="2.7" height="2.7" fill="#a8a8a8" opacity="0.72"/>
<rect x="1315.0" y="353.3" width="3.0" height="3.0" fill="#808080" opacity="0.73"/>
<rect x="1259.8" y="475.1" width="3.3" height="3.3" fill="#d0a4e0" opacity="0.72"/>
<rect x="1353.8" y="327.9" width="2.8" height="2.8" fill="#e8a0ee" opacity="0.46"/>
<rect x="1291.3" y="363.1" width="2.3" height="2.3" fill="#e388e8" opacity="0.71"/>
<rect x="1325.3" y="388.6" width="2.2" height="2.2" fill="#a8a8a8" opacity="0.58"/>
<rect x="1232.5" y="455.1" width="2.3" height="2.3" fill="#b8b8b8" opacity="0.80"/>
<rect x="1243.6" y="460.2" width="2.4" height="2.4" fill="#989898" opacity="0.66"/>
<rect x="1110.1" y="526.3" width="2.6" height="2.6" fill="#b8b8b8" opacity="0.79"/>
<rect x="1318.6" y="394.4" width="2.8" height="2.8" fill="#a8a8a8" opacity="0.48"/>
<rect x="1346.3" y="340.3" width="3.4" height="3.4" fill="#a8a8a8" opacity="0.50"/>
<rect x="1228.0" y="329.4" width="2.9" height="2.9" fill="#b8b8b8" opacity="0.70"/>
<rect x="1309.1" y="391.0" width="3.4" height="3.4" fill="#d0a4e0" opacity="0.47"/>
<rect x="1280.3" y="446.9" width="2.3" height="2.3" fill="#b8b8b8" opacity="0.72"/>
<rect x="1282.6" y="371.6" width="3.2" height="3.2" fill="#e388e8" opacity="0.84"/>
<rect x="1328.9" y="353.1" width="2.6" height="2.6" fill="#b8b8b8" opacity="0.69"/>
<rect x="1266.4" y="266.7" width="2.4" height="2.4" fill="#a8a8a8" opacity="0.74"/>
<rect x="1271.3" y="266.2" width="2.7" height="2.7" fill="#808080" opacity="0.56"/>
<rect x="1016.5" y="466.5" width="3.1" height="3.1" fill="#e388e8" opacity="0.73"/>
<rect x="1262.9" y="476.9" width="2.7" height="2.7" fill="#8c8c8c" opacity="0.53"/>
<rect x="1261.0" y="278.5" width="3.0" height="3.0" fill="#808080" opacity="0.58"/>
<rect x="1340.1" y="231.7" width="2.4" height="2.4" fill="#808080" opacity="0.46"/>
<rect x="1168.4" y="379.3" width="2.6" height="2.6" fill="#e388e8" opacity="0.53"/>
<rect x="1273.6" y="446.9" width="2.2" height="2.2" fill="#e8a0ee" opacity="0.69"/>
<rect x="1359.4" y="301.2" width="2.6" height="2.6" fill="#8c8c8c" opacity="0.79"/>
<rect x="1267.7" y="412.4" width="3.3" height="3.3" fill="#989898" opacity="0.67"/>
<rect x="1093.9" y="498.1" width="2.4" height="2.4" fill="#989898" opacity="0.72"/>
<rect x="1175.4" y="576.7" width="3.2" height="3.2" fill="#e388e8" opacity="0.80"/>
<rect x="1122.1" y="483.6" width="2.7" height="2.7" fill="#808080" opacity="0.77"/>
<rect x="1093.2" y="519.6" width="2.7" height="2.7" fill="#a8a8a8" opacity="0.51"/>
<rect x="1378.9" y="266.5" width="2.9" height="2.9" fill="#8c8c8c" opacity="0.49"/>
<rect x="1317.4" y="355.5" width="3.2" height="3.2" fill="#d896e4" opacity="0.66"/>
<rect x="1115.7" y="513.0" width="2.7" height="2.7" fill="#a8a8a8" opacity="0.84"/>
<rect x="1200.6" y="536.9" width="3.2" height="3.2" fill="#808080" opacity="0.62"/>
<rect x="1360.1" y="263.6" width="2.4" height="2.4" fill="#808080" opacity="0.50"/>
<rect x="1222.0" y="336.0" width="2.9" height="2.9" fill="#b8b8b8" opacity="0.68"/>
<rect x="1182.6" y="374.5" width="2.8" height="2.8" fill="#d896e4" opacity="0.46"/>
<rect x="1291.6" y="257.6" width="3.3" height="3.3" fill="#e8a0ee" opacity="0.52"/>
<rect x="1184.3" y="356.6" width="3.2" height="3.2" fill="#a8a8a8" opacity="0.54"/>
<rect x="1248.8" y="469.1" width="2.7" height="2.7" fill="#e8a0ee" opacity="0.50"/>
<rect x="1316.9" y="320.6" width="3.3" height="3.3" fill="#8c8c8c" opacity="0.82"/>
<rect x="1301.0" y="379.8" width="2.8" height="2.8" fill="#808080" opacity="0.51"/>
<rect x="1167.7" y="361.5" width="3.2" height="3.2" fill="#e8a0ee" opacity="0.83"/>
<rect x="1113.6" y="478.9" width="2.8" height="2.8" fill="#989898" opacity="0.48"/>
<rect x="1114.7" y="480.8" width="3.0" height="3.0" fill="#989898" opacity="0.49"/>
<rect x="1302.5" y="351.4" width="2.9" height="2.9" fill="#808080" opacity="0.71"/>
<rect x="1203.9" y="305.7" width="2.2" height="2.2" fill="#808080" opacity="0.59"/>
<rect x="1335.9" y="298.6" width="2.4" height="2.4" fill="#d0a4e0" opacity="0.53"/>
<rect x="1183.4" y="576.1" width="2.7" height="2.7" fill="#b8b8b8" opacity="0.71"/>
<rect x="1356.1" y="251.1" width="2.5" height="2.5" fill="#d0a4e0" opacity="0.69"/>
<rect x="1291.6" y="256.8" width="2.5" height="2.5" fill="#989898" opacity="0.67"/>
<rect x="1201.9" y="327.5" width="2.5" height="2.5" fill="#8c8c8c" opacity="0.49"/>
<rect x="1325.7" y="323.0" width="2.4" height="2.4" fill="#b8b8b8" opacity="0.80"/>
<rect x="1166.0" y="570.9" width="3.2" height="3.2" fill="#989898" opacity="0.84"/>
<rect x="1295.2" y="381.9" width="2.9" height="2.9" fill="#808080" opacity="0.49"/>
<rect x="1295.7" y="249.8" width="2.9" height="2.9" fill="#b8b8b8" opacity="0.72"/>
<rect x="1276.1" y="444.4" width="2.2" height="2.2" fill="#b8b8b8" opacity="0.61"/>
<rect x="1279.9" y="222.2" width="2.4" height="2.4" fill="#e8a0ee" opacity="0.77"/>
<rect x="1232.0" y="320.4" width="2.8" height="2.8" fill="#e8a0ee" opacity="0.51"/>
<rect x="1312.0" y="324.0" width="2.5" height="2.5" fill="#8c8c8c" opacity="0.60"/>
<rect x="1119.9" y="454.2" width="3.4" height="3.4" fill="#a8a8a8" opacity="0.65"/>
<rect x="1320.5" y="218.5" width="2.3" height="2.3" fill="#989898" opacity="0.58"/>
<rect x="1391.2" y="268.5" width="2.9" height="2.9" fill="#e8a0ee" opacity="0.70"/>
<rect x="1113.6" y="493.6" width="2.9" height="2.9" fill="#989898" opacity="0.47"/>
<rect x="1163.0" y="388.7" width="2.6" height="2.6" fill="#808080" opacity="0.52"/>
<rect x="1205.7" y="520.3" width="2.5" height="2.5" fill="#d0a4e0" opacity="0.57"/>
<rect x="1231.7" y="316.2" width="3.3" height="3.3" fill="#8c8c8c" opacity="0.63"/>
<rect x="1342.4" y="291.6" width="3.2" height="3.2" fill="#e8a0ee" opacity="0.45"/>
<rect x="1251.8" y="434.5" width="2.5" height="2.5" fill="#989898" opacity="0.67"/>
<rect x="1395.4" y="329.2" width="3.3" height="3.3" fill="#808080" opacity="0.55"/>
<rect x="1169.2" y="414.7" width="2.7" height="2.7" fill="#8c8c8c" opacity="0.62"/>
<rect x="1325.9" y="429.5" width="2.6" height="2.6" fill="#e388e8" opacity="0.62"/>
<rect x="1246.5" y="171.4" width="3.2" height="3.2" fill="#808080" opacity="0.56"/>
<rect x="1189.9" y="385.6" width="3.3" height="3.3" fill="#d0a4e0" opacity="0.62"/>
<rect x="1285.9" y="411.1" width="3.1" height="3.1" fill="#808080" opacity="0.82"/>
<rect x="1103.6" y="479.9" width="2.2" height="2.2" fill="#e8a0ee" opacity="0.52"/>
<rect x="1154.2" y="557.4" width="3.2" height="3.2" fill="#e8a0ee" opacity="0.70"/>
<rect x="1199.0" y="374.8" width="3.3" height="3.3" fill="#d896e4" opacity="0.64"/>
<rect x="1206.4" y="506.9" width="3.1" height="3.1" fill="#e8a0ee" opacity="0.64"/>
<rect x="1215.3" y="498.2" width="2.4" height="2.4" fill="#808080" opacity="0.65"/>
<rect x="1252.4" y="284.5" width="2.6" height="2.6" fill="#808080" opacity="0.85"/>
<rect x="1250.2" y="423.4" width="2.9" height="2.9" fill="#d0a4e0" opacity="0.63"/>
<rect x="1278.8" y="400.8" width="3.1" height="3.1" fill="#a8a8a8" opacity="0.62"/>
<rect x="1295.0" y="416.2" width="2.4" height="2.4" fill="#b8b8b8" opacity="0.65"/>
<rect x="1289.9" y="456.8" width="3.1" height="3.1" fill="#b8b8b8" opacity="0.72"/>
<rect x="1267.2" y="521.8" width="2.3" height="2.3" fill="#b8b8b8" opacity="0.71"/>
<rect x="1236.9" y="455.8" width="2.5" height="2.5" fill="#d896e4" opacity="0.59"/>
<rect x="1278.8" y="437.7" width="2.5" height="2.5" fill="#808080" opacity="0.61"/>
<rect x="1113.0" y="486.5" width="2.9" height="2.9" fill="#e8a0ee" opacity="0.75"/>
<rect x="1275.1" y="382.1" width="2.4" height="2.4" fill="#b8b8b8" opacity="0.46"/>
<rect x="1318.5" y="370.6" width="2.7" height="2.7" fill="#989898" opacity="0.46"/>
<rect x="1183.4" y="390.8" width="2.9" height="2.9" fill="#989898" opacity="0.71"/>
<rect x="1286.2" y="248.0" width="3.2" height="3.2" fill="#989898" opacity="0.76"/>
<rect x="1286.3" y="400.8" width="2.6" height="2.6" fill="#808080" opacity="0.81"/>
<rect x="1358.2" y="288.8" width="2.9" height="2.9" fill="#a8a8a8" opacity="0.61"/>
<rect x="1266.3" y="277.9" width="3.3" height="3.3" fill="#989898" opacity="0.84"/>
<rect x="1120.9" y="508.8" width="2.8" height="2.8" fill="#989898" opacity="0.70"/>
<rect x="1399.2" y="292.7" width="3.3" height="3.3" fill="#d0a4e0" opacity="0.75"/>
<rect x="1312.3" y="365.9" width="2.7" height="2.7" fill="#a8a8a8" opacity="0.76"/>
<rect x="1304.4" y="212.7" width="2.7" height="2.7" fill="#808080" opacity="0.82"/>
<rect x="1185.9" y="330.7" width="2.8" height="2.8" fill="#989898" opacity="0.85"/>
<rect x="1157.7" y="407.6" width="2.4" height="2.4" fill="#8c8c8c" opacity="0.75"/>
<rect x="1285.4" y="363.8" width="2.9" height="2.9" fill="#b8b8b8" opacity="0.55"/>
<rect x="1106.6" y="510.7" width="2.9" height="2.9" fill="#d0a4e0" opacity="0.51"/>
<rect x="1233.7" y="277.7" width="2.6" height="2.6" fill="#808080" opacity="0.58"/>
<rect x="1310.5" y="356.8" width="3.1" height="3.1" fill="#e388e8" opacity="0.73"/>
<rect x="1263.7" y="427.1" width="2.9" height="2.9" fill="#d896e4" opacity="0.45"/>
<rect x="1112.9" y="500.5" width="2.3" height="2.3" fill="#b8b8b8" opacity="0.48"/>
<rect x="1347.1" y="302.8" width="2.6" height="2.6" fill="#e388e8" opacity="0.55"/>
<rect x="1208.5" y="353.8" width="3.2" height="3.2" fill="#989898" opacity="0.70"/>
<rect x="1233.5" y="257.9" width="3.0" height="3.0" fill="#b8b8b8" opacity="0.72"/>
<rect x="1205.5" y="357.1" width="2.5" height="2.5" fill="#e388e8" opacity="0.73"/>
<rect x="1161.7" y="552.2" width="2.7" height="2.7" fill="#989898" opacity="0.67"/>
<rect x="1231.4" y="545.1" width="2.7" height="2.7" fill="#989898" opacity="0.79"/>
<rect x="1214.6" y="536.4" width="2.7" height="2.7" fill="#e8a0ee" opacity="0.72"/>
<rect x="1178.7" y="560.8" width="2.9" height="2.9" fill="#b8b8b8" opacity="0.77"/>
<rect x="1239.3" y="298.2" width="2.9" height="2.9" fill="#b8b8b8" opacity="0.83"/>
<rect x="1277.3" y="399.2" width="3.3" height="3.3" fill="#989898" opacity="0.68"/>
<rect x="1183.2" y="357.4" width="2.8" height="2.8" fill="#8c8c8c" opacity="0.47"/>
<rect x="1304.2" y="207.7" width="2.8" height="2.8" fill="#8c8c8c" opacity="0.75"/>
<rect x="1178.4" y="404.3" width="3.1" height="3.1" fill="#8c8c8c" opacity="0.46"/>
<rect x="1322.4" y="341.1" width="2.3" height="2.3" fill="#b8b8b8" opacity="0.70"/>
<rect x="1315.0" y="232.6" width="2.9" height="2.9" fill="#b8b8b8" opacity="0.78"/>
<rect x="1298.4" y="362.2" width="3.2" height="3.2" fill="#a8a8a8" opacity="0.52"/>
<rect x="1238.6" y="524.2" width="2.5" height="2.5" fill="#e8a0ee" opacity="0.52"/>
<rect x="1204.5" y="520.6" width="2.5" height="2.5" fill="#989898" opacity="0.74"/>
<rect x="1317.9" y="231.4" width="2.5" height="2.5" fill="#989898" opacity="0.48"/>
<rect x="1223.8" y="294.8" width="2.3" height="2.3" fill="#808080" opacity="0.75"/>
<rect x="1224.8" y="318.2" width="3.4" height="3.4" fill="#989898" opacity="0.74"/>
<rect x="1273.0" y="246.6" width="3.1" height="3.1" fill="#d896e4" opacity="0.45"/>
<rect x="1199.6" y="515.0" width="3.4" height="3.4" fill="#e388e8" opacity="0.79"/>
<rect x="1253.1" y="285.5" width="3.2" height="3.2" fill="#808080" opacity="0.75"/>
<rect x="1268.1" y="409.7" width="2.4" height="2.4" fill="#e8a0ee" opacity="0.84"/>
<rect x="1258.3" y="406.4" width="2.6" height="2.6" fill="#b8b8b8" opacity="0.46"/>
<rect x="1201.8" y="318.6" width="3.3" height="3.3" fill="#d0a4e0" opacity="0.66"/>
<rect x="1123.0" y="440.6" width="3.1" height="3.1" fill="#989898" opacity="0.83"/>
<rect x="1375.6" y="322.5" width="2.9" height="2.9" fill="#b8b8b8" opacity="0.58"/>
<rect x="1240.1" y="259.7" width="3.0" height="3.0" fill="#989898" opacity="0.83"/>
<rect x="1074.0" y="496.9" width="2.2" height="2.2" fill="#989898" opacity="0.63"/>
<rect x="1101.5" y="513.8" width="3.4" height="3.4" fill="#d0a4e0" opacity="0.65"/>
<rect x="1171.9" y="535.5" width="2.8" height="2.8" fill="#808080" opacity="0.60"/>
<rect x="1280.5" y="380.2" width="3.4" height="3.4" fill="#989898" opacity="0.53"/>
<rect x="1161.8" y="368.0" width="2.8" height="2.8" fill="#808080" opacity="0.60"/>
<rect x="1322.1" y="388.2" width="3.3" height="3.3" fill="#808080" opacity="0.84"/>
<rect x="1257.8" y="456.0" width="2.8" height="2.8" fill="#d0a4e0" opacity="0.60"/>
<rect x="1315.1" y="217.1" width="2.3" height="2.3" fill="#8c8c8c" opacity="0.80"/>
<rect x="1274.2" y="508.4" width="2.9" height="2.9" fill="#d896e4" opacity="0.53"/>
<rect x="1130.6" y="468.8" width="3.3" height="3.3" fill="#989898" opacity="0.66"/>
<rect x="1261.0" y="275.8" width="2.8" height="2.8" fill="#989898" opacity="0.80"/>
<rect x="1230.4" y="340.2" width="2.5" height="2.5" fill="#d896e4" opacity="0.83"/>
<rect x="1122.4" y="518.8" width="2.3" height="2.3" fill="#8c8c8c" opacity="0.48"/>
<rect x="1289.4" y="398.6" width="2.2" height="2.2" fill="#e388e8" opacity="0.64"/>
<rect x="1323.1" y="336.5" width="3.3" height="3.3" fill="#808080" opacity="0.70"/>
<rect x="1261.4" y="425.6" width="2.6" height="2.6" fill="#989898" opacity="0.61"/>
<rect x="1202.0" y="326.1" width="3.0" height="3.0" fill="#d896e4" opacity="0.47"/>
<rect x="1284.2" y="363.1" width="3.0" height="3.0" fill="#989898" opacity="0.62"/>
<rect x="1317.3" y="354.3" width="3.4" height="3.4" fill="#a8a8a8" opacity="0.52"/>
<rect x="1118.2" y="440.4" width="3.0" height="3.0" fill="#b8b8b8" opacity="0.67"/>
<rect x="1283.9" y="468.1" width="2.3" height="2.3" fill="#e8a0ee" opacity="0.47"/>
<rect x="1304.3" y="398.5" width="2.4" height="2.4" fill="#b8b8b8" opacity="0.84"/>
<rect x="1292.8" y="370.9" width="2.7" height="2.7" fill="#808080" opacity="0.62"/>
<rect x="1174.5" y="355.7" width="2.7" height="2.7" fill="#808080" opacity="0.64"/>
<rect x="1231.9" y="509.9" width="3.4" height="3.4" fill="#e8a0ee" opacity="0.63"/>
<rect x="1296.0" y="238.7" width="3.1" height="3.1" fill="#e388e8" opacity="0.59"/>
<rect x="1248.5" y="255.1" width="2.6" height="2.6" fill="#a8a8a8" opacity="0.64"/>
<rect x="1091.7" y="515.4" width="3.3" height="3.3" fill="#e8a0ee" opacity="0.69"/>
<rect x="1234.6" y="313.8" width="2.6" height="2.6" fill="#d0a4e0" opacity="0.53"/>
<rect x="1086.4" y="515.7" width="2.4" height="2.4" fill="#8c8c8c" opacity="0.77"/>
<rect x="1300.9" y="234.7" width="3.4" height="3.4" fill="#d896e4" opacity="0.49"/>
<rect x="1229.0" y="330.5" width="3.0" height="3.0" fill="#d0a4e0" opacity="0.55"/>
<rect x="1286.6" y="436.5" width="3.4" height="3.4" fill="#989898" opacity="0.46"/>
<rect x="1165.3" y="396.9" width="2.8" height="2.8" fill="#808080" opacity="0.81"/>
<rect x="1306.3" y="397.2" width="2.3" height="2.3" fill="#989898" opacity="0.47"/>
<rect x="1113.3" y="475.2" width="3.1" height="3.1" fill="#808080" opacity="0.57"/>
<rect x="1236.6" y="478.7" width="2.3" height="2.3" fill="#d0a4e0" opacity="0.70"/>
<rect x="1257.1" y="292.9" width="3.1" height="3.1" fill="#d0a4e0" opacity="0.56"/>
<rect x="1328.1" y="307.1" width="2.6" height="2.6" fill="#b8b8b8" opacity="0.66"/>
<rect x="1326.7" y="308.0" width="3.1" height="3.1" fill="#808080" opacity="0.66"/>
<rect x="1183.7" y="349.4" width="2.4" height="2.4" fill="#b8b8b8" opacity="0.53"/>
<rect x="1257.0" y="270.1" width="2.9" height="2.9" fill="#808080" opacity="0.48"/>
<rect x="1291.7" y="230.5" width="3.0" height="3.0" fill="#808080" opacity="0.83"/>
<rect x="1353.8" y="276.7" width="2.4" height="2.4" fill="#e388e8" opacity="0.75"/>
<rect x="1340.3" y="297.8" width="3.3" height="3.3" fill="#b8b8b8" opacity="0.83"/>
<rect x="1102.4" y="524.0" width="2.4" height="2.4" fill="#808080" opacity="0.56"/>
<rect x="1286.9" y="414.7" width="3.4" height="3.4" fill="#a8a8a8" opacity="0.85"/>
<rect x="1185.5" y="342.5" width="2.6" height="2.6" fill="#d896e4" opacity="0.59"/>
<rect x="1275.2" y="271.2" width="2.5" height="2.5" fill="#e8a0ee" opacity="0.79"/>
<rect x="1199.2" y="558.9" width="2.2" height="2.2" fill="#808080" opacity="0.58"/>
<rect x="1247.0" y="429.4" width="2.2" height="2.2" fill="#a8a8a8" opacity="0.68"/>
<rect x="1119.0" y="511.6" width="2.7" height="2.7" fill="#b8b8b8" opacity="0.54"/>
<rect x="1330.7" y="225.9" width="2.3" height="2.3" fill="#e388e8" opacity="0.83"/>
<rect x="1205.0" y="330.4" width="2.5" height="2.5" fill="#8c8c8c" opacity="0.47"/>
<rect x="1185.6" y="333.6" width="3.2" height="3.2" fill="#989898" opacity="0.55"/>
<rect x="1088.4" y="507.3" width="2.6" height="2.6" fill="#989898" opacity="0.76"/>
<rect x="1207.2" y="350.9" width="3.2" height="3.2" fill="#a8a8a8" opacity="0.61"/>
<rect x="1291.5" y="472.9" width="3.2" height="3.2" fill="#b8b8b8" opacity="0.50"/>
<rect x="1334.5" y="334.5" width="2.7" height="2.7" fill="#d896e4" opacity="0.68"/>
<rect x="1108.3" y="473.3" width="3.2" height="3.2" fill="#d896e4" opacity="0.59"/>
<rect x="1243.8" y="256.0" width="3.1" height="3.1" fill="#a8a8a8" opacity="0.48"/>
<rect x="1346.3" y="273.3" width="3.4" height="3.4" fill="#d0a4e0" opacity="0.59"/>
<rect x="1303.2" y="357.6" width="2.8" height="2.8" fill="#e388e8" opacity="0.63"/>
<rect x="1288.7" y="224.5" width="3.2" height="3.2" fill="#e388e8" opacity="0.76"/>
<rect x="1309.5" y="234.1" width="3.4" height="3.4" fill="#989898" opacity="0.50"/>
<rect x="1294.9" y="218.9" width="2.3" height="2.3" fill="#8c8c8c" opacity="0.74"/>
<rect x="1208.2" y="274.1" width="2.3" height="2.3" fill="#989898" opacity="0.65"/>
<rect x="1109.7" y="508.7" width="3.4" height="3.4" fill="#808080" opacity="0.81"/>
<rect x="1274.9" y="252.9" width="3.1" height="3.1" fill="#e388e8" opacity="0.74"/>
<rect x="1117.9" y="496.4" width="3.3" height="3.3" fill="#989898" opacity="0.51"/>
<rect x="1189.3" y="552.0" width="2.3" height="2.3" fill="#e8a0ee" opacity="0.73"/>
<rect x="1306.1" y="385.5" width="2.4" height="2.4" fill="#e8a0ee" opacity="0.55"/>
<rect x="1143.0" y="434.4" width="3.2" height="3.2" fill="#e8a0ee" opacity="0.58"/>
<rect x="1195.7" y="547.7" width="2.3" height="2.3" fill="#d0a4e0" opacity="0.81"/>
<rect x="1287.9" y="412.7" width="2.6" height="2.6" fill="#8c8c8c" opacity="0.67"/>
<rect x="1276.4" y="243.8" width="3.0" height="3.0" fill="#b8b8b8" opacity="0.70"/>
<rect x="1114.5" y="496.8" width="3.0" height="3.0" fill="#e388e8" opacity="0.59"/>
<rect x="1309.9" y="368.1" width="2.5" height="2.5" fill="#989898" opacity="0.71"/>
<rect x="1289.0" y="231.3" width="3.2" height="3.2" fill="#a8a8a8" opacity="0.57"/>
<rect x="1249.3" y="291.9" width="3.0" height="3.0" fill="#808080" opacity="0.46"/>
<rect x="1214.2" y="363.9" width="2.9" height="2.9" fill="#b8b8b8" opacity="0.74"/>
<rect x="1329.6" y="306.4" width="2.7" height="2.7" fill="#e388e8" opacity="0.56"/>
<rect x="1287.9" y="421.5" width="2.4" height="2.4" fill="#989898" opacity="0.61"/>
<rect x="1254.7" y="249.7" width="2.3" height="2.3" fill="#e8a0ee" opacity="0.59"/>
<rect x="1397.2" y="292.3" width="2.9" height="2.9" fill="#a8a8a8" opacity="0.45"/>
<rect x="1259.0" y="292.4" width="3.3" height="3.3" fill="#8c8c8c" opacity="0.79"/>
<rect x="1343.8" y="355.4" width="3.1" height="3.1" fill="#a8a8a8" opacity="0.76"/>
<rect x="1157.0" y="370.1" width="2.2" height="2.2" fill="#808080" opacity="0.54"/>
<rect x="1237.2" y="319.9" width="3.1" height="3.1" fill="#a8a8a8" opacity="0.64"/>
<rect x="1384.2" y="320.3" width="2.3" height="2.3" fill="#d896e4" opacity="0.49"/>
<rect x="1194.3" y="533.0" width="3.0" height="3.0" fill="#b8b8b8" opacity="0.81"/>
<rect x="1327.2" y="316.6" width="2.7" height="2.7" fill="#a8a8a8" opacity="0.48"/>
<rect x="1190.6" y="339.7" width="2.8" height="2.8" fill="#b8b8b8" opacity="0.72"/>
<rect x="1343.9" y="344.7" width="3.1" height="3.1" fill="#a8a8a8" opacity="0.85"/>
<rect x="1240.3" y="449.8" width="2.8" height="2.8" fill="#8c8c8c" opacity="0.71"/>
<rect x="1188.4" y="389.8" width="2.7" height="2.7" fill="#989898" opacity="0.61"/>
<rect x="1281.7" y="260.5" width="3.2" height="3.2" fill="#808080" opacity="0.47"/>
<rect x="1248.7" y="494.3" width="3.3" height="3.3" fill="#989898" opacity="0.58"/>
<rect x="1165.1" y="396.5" width="2.5" height="2.5" fill="#b8b8b8" opacity="0.73"/>
<rect x="1288.7" y="390.2" width="3.1" height="3.1" fill="#d896e4" opacity="0.71"/>
<rect x="1111.6" y="501.6" width="2.5" height="2.5" fill="#e8a0ee" opacity="0.64"/>
<rect x="1327.1" y="232.1" width="2.4" height="2.4" fill="#d896e4" opacity="0.51"/>
<rect x="1285.8" y="215.0" width="3.0" height="3.0" fill="#e8a0ee" opacity="0.60"/>
<rect x="1327.3" y="338.8" width="3.1" height="3.1" fill="#d0a4e0" opacity="0.68"/>
<rect x="1354.2" y="283.1" width="2.4" height="2.4" fill="#b8b8b8" opacity="0.68"/>
<rect x="1170.6" y="377.0" width="2.9" height="2.9" fill="#989898" opacity="0.81"/>
<rect x="1334.2" y="324.3" width="2.5" height="2.5" fill="#e8a0ee" opacity="0.57"/>
<rect x="1241.0" y="293.8" width="2.8" height="2.8" fill="#b8b8b8" opacity="0.61"/>
<rect x="1225.4" y="299.6" width="2.2" height="2.2" fill="#808080" opacity="0.53"/>
<rect x="1215.3" y="358.5" width="2.8" height="2.8" fill="#e388e8" opacity="0.50"/>
<rect x="1250.4" y="292.5" width="3.0" height="3.0" fill="#8c8c8c" opacity="0.62"/>
<rect x="1164.7" y="568.2" width="3.4" height="3.4" fill="#d0a4e0" opacity="0.46"/>
<rect x="1158.4" y="417.3" width="2.8" height="2.8" fill="#808080" opacity="0.75"/>
<rect x="1111.8" y="525.2" width="3.1" height="3.1" fill="#d0a4e0" opacity="0.67"/>
<rect x="1292.3" y="410.2" width="2.7" height="2.7" fill="#b8b8b8" opacity="0.82"/>
<rect x="1241.5" y="312.0" width="2.3" height="2.3" fill="#a8a8a8" opacity="0.58"/>
<rect x="1225.9" y="468.3" width="2.6" height="2.6" fill="#d0a4e0" opacity="0.68"/>
<rect x="1282.0" y="491.6" width="3.2" height="3.2" fill="#8c8c8c" opacity="0.52"/>
<rect x="1230.1" y="324.5" width="3.3" height="3.3" fill="#b8b8b8" opacity="0.64"/>
<rect x="1104.7" y="485.2" width="3.1" height="3.1" fill="#d0a4e0" opacity="0.62"/>
<rect x="1098.4" y="478.6" width="2.5" height="2.5" fill="#a8a8a8" opacity="0.68"/>
<rect x="1234.8" y="323.0" width="2.7" height="2.7" fill="#d896e4" opacity="0.76"/>
<rect x="1105.9" y="489.8" width="3.1" height="3.1" fill="#808080" opacity="0.82"/>
<rect x="1377.4" y="310.6" width="3.0" height="3.0" fill="#8c8c8c" opacity="0.72"/>
<rect x="1247.9" y="425.3" width="2.4" height="2.4" fill="#b8b8b8" opacity="0.69"/>
<rect x="1208.1" y="352.9" width="2.8" height="2.8" fill="#808080" opacity="0.83"/>
<rect x="1225.8" y="347.4" width="2.3" height="2.3" fill="#b8b8b8" opacity="0.48"/>
<rect x="1264.1" y="505.5" width="3.4" height="3.4" fill="#e8a0ee" opacity="0.65"/>
<rect x="1139.4" y="458.6" width="2.6" height="2.6" fill="#d0a4e0" opacity="0.59"/>
<rect x="1198.7" y="533.2" width="2.7" height="2.7" fill="#989898" opacity="0.68"/>
<rect x="1115.4" y="506.3" width="2.7" height="2.7" fill="#b8b8b8" opacity="0.79"/>
<rect x="1159.8" y="426.5" width="2.6" height="2.6" fill="#a8a8a8" opacity="0.50"/>
<rect x="1288.8" y="221.7" width="2.4" height="2.4" fill="#d896e4" opacity="0.71"/>
<rect x="1290.6" y="387.1" width="2.3" height="2.3" fill="#d0a4e0" opacity="0.85"/>
<rect x="1329.5" y="411.1" width="3.2" height="3.2" fill="#e8a0ee" opacity="0.83"/>
<rect x="1109.0" y="479.9" width="2.9" height="2.9" fill="#e388e8" opacity="0.63"/>
<rect x="1150.1" y="385.2" width="3.2" height="3.2" fill="#8c8c8c" opacity="0.65"/>
<rect x="1251.0" y="279.4" width="3.1" height="3.1" fill="#d0a4e0" opacity="0.59"/>
<rect x="1251.9" y="506.4" width="2.7" height="2.7" fill="#d896e4" opacity="0.49"/>
<rect x="1323.8" y="332.3" width="2.9" height="2.9" fill="#e8a0ee" opacity="0.68"/>
<rect x="1338.5" y="233.1" width="2.3" height="2.3" fill="#989898" opacity="0.60"/>
<rect x="1121.1" y="508.6" width="2.5" height="2.5" fill="#989898" opacity="0.68"/>
<rect x="1322.8" y="387.9" width="3.1" height="3.1" fill="#a8a8a8" opacity="0.72"/>
<rect x="1321.0" y="384.5" width="2.6" height="2.6" fill="#b8b8b8" opacity="0.55"/>
<rect x="1283.5" y="245.8" width="2.5" height="2.5" fill="#d896e4" opacity="0.76"/>
<rect x="1142.7" y="399.1" width="2.8" height="2.8" fill="#d0a4e0" opacity="0.49"/>
<rect x="1124.6" y="470.7" width="2.2" height="2.2" fill="#d896e4" opacity="0.62"/>
<rect x="1121.3" y="485.1" width="2.5" height="2.5" fill="#8c8c8c" opacity="0.81"/>
<rect x="1293.4" y="407.1" width="2.6" height="2.6" fill="#d0a4e0" opacity="0.67"/>
<rect x="1118.3" y="515.5" width="2.7" height="2.7" fill="#e8a0ee" opacity="0.56"/>
<rect x="1174.2" y="371.8" width="3.1" height="3.1" fill="#b8b8b8" opacity="0.56"/>
<rect x="1226.9" y="339.9" width="2.6" height="2.6" fill="#b8b8b8" opacity="0.56"/>
<rect x="1238.5" y="481.1" width="2.3" height="2.3" fill="#d0a4e0" opacity="0.47"/>
<rect x="1289.3" y="257.4" width="2.7" height="2.7" fill="#d0a4e0" opacity="0.61"/>
<rect x="1303.9" y="219.3" width="3.2" height="3.2" fill="#8c8c8c" opacity="0.62"/>
<rect x="1190.2" y="555.1" width="2.4" height="2.4" fill="#a8a8a8" opacity="0.83"/>
<rect x="1110.3" y="464.0" width="2.3" height="2.3" fill="#8c8c8c" opacity="0.80"/>
<rect x="1303.6" y="364.8" width="3.2" height="3.2" fill="#8c8c8c" opacity="0.58"/>
<rect x="1381.2" y="279.8" width="3.3" height="3.3" fill="#808080" opacity="0.74"/>
<rect x="1334.5" y="335.2" width="3.3" height="3.3" fill="#d0a4e0" opacity="0.74"/>
<rect x="1262.9" y="243.1" width="2.7" height="2.7" fill="#e388e8" opacity="0.51"/>
<rect x="1236.6" y="320.0" width="2.6" height="2.6" fill="#e388e8" opacity="0.84"/>
<rect x="1272.8" y="423.9" width="2.9" height="2.9" fill="#e8a0ee" opacity="0.63"/>
<rect x="1219.2" y="580.2" width="3.1" height="3.1" fill="#989898" opacity="0.58"/>
<rect x="1289.1" y="247.7" width="2.7" height="2.7" fill="#8c8c8c" opacity="0.67"/>
<rect x="1221.2" y="307.2" width="2.7" height="2.7" fill="#b8b8b8" opacity="0.56"/>
<rect x="1210.6" y="324.4" width="2.3" height="2.3" fill="#d896e4" opacity="0.71"/>
<rect x="1330.5" y="310.6" width="2.3" height="2.3" fill="#e8a0ee" opacity="0.78"/>
<rect x="1244.5" y="461.3" width="3.0" height="3.0" fill="#808080" opacity="0.80"/>
<rect x="1289.8" y="208.9" width="3.3" height="3.3" fill="#a8a8a8" opacity="0.55"/>
<rect x="1214.4" y="358.3" width="3.2" height="3.2" fill="#989898" opacity="0.52"/>
<rect x="1272.0" y="416.2" width="2.9" height="2.9" fill="#b8b8b8" opacity="0.85"/>
<rect x="1141.6" y="412.9" width="3.0" height="3.0" fill="#8c8c8c" opacity="0.80"/>
<rect x="1248.9" y="440.2" width="2.8" height="2.8" fill="#a8a8a8" opacity="0.53"/>
<rect x="1122.2" y="526.7" width="2.8" height="2.8" fill="#808080" opacity="0.75"/>
<rect x="1285.5" y="389.1" width="3.1" height="3.1" fill="#b8b8b8" opacity="0.81"/>
<rect x="1211.8" y="531.4" width="3.3" height="3.3" fill="#d896e4" opacity="0.71"/>
<rect x="1321.4" y="226.1" width="2.3" height="2.3" fill="#d0a4e0" opacity="0.64"/>
<rect x="1207.7" y="345.5" width="2.2" height="2.2" fill="#808080" opacity="0.63"/>
<rect x="1076.1" y="501.2" width="3.3" height="3.3" fill="#8c8c8c" opacity="0.83"/>
<rect x="1107.1" y="514.0" width="3.0" height="3.0" fill="#989898" opacity="0.50"/>
<rect x="1133.8" y="428.8" width="2.3" height="2.3" fill="#808080" opacity="0.56"/>
<rect x="1094.0" y="445.4" width="3.4" height="3.4" fill="#8c8c8c" opacity="0.70"/>
<rect x="1313.4" y="330.7" width="2.8" height="2.8" fill="#8c8c8c" opacity="0.50"/>
<rect x="1121.8" y="406.3" width="2.4" height="2.4" fill="#a8a8a8" opacity="0.69"/>
<rect x="1223.9" y="480.4" width="2.8" height="2.8" fill="#d0a4e0" opacity="0.74"/>
<rect x="1244.9" y="472.2" width="3.2" height="3.2" fill="#8c8c8c" opacity="0.73"/>
<rect x="1205.0" y="338.4" width="2.6" height="2.6" fill="#808080" opacity="0.66"/>
<rect x="1284.3" y="394.3" width="2.6" height="2.6" fill="#d0a4e0" opacity="0.80"/>
<rect x="1351.5" y="289.6" width="3.1" height="3.1" fill="#b8b8b8" opacity="0.68"/>
<rect x="1106.4" y="492.2" width="2.6" height="2.6" fill="#e388e8" opacity="0.61"/>
<rect x="1239.0" y="467.1" width="2.4" height="2.4" fill="#a8a8a8" opacity="0.83"/>
<rect x="1237.5" y="453.1" width="2.3" height="2.3" fill="#e8a0ee" opacity="0.77"/>
<rect x="1326.8" y="334.7" width="2.8" height="2.8" fill="#a8a8a8" opacity="0.66"/>
<rect x="1118.8" y="517.2" width="2.4" height="2.4" fill="#b8b8b8" opacity="0.85"/>
<rect x="1357.7" y="254.3" width="2.3" height="2.3" fill="#989898" opacity="0.50"/>
<rect x="1153.0" y="396.6" width="2.9" height="2.9" fill="#a8a8a8" opacity="0.69"/>
<rect x="1109.5" y="441.9" width="3.3" height="3.3" fill="#808080" opacity="0.84"/>
<rect x="1257.7" y="265.6" width="2.4" height="2.4" fill="#8c8c8c" opacity="0.59"/>
<rect x="1087.6" y="476.3" width="2.4" height="2.4" fill="#b8b8b8" opacity="0.56"/>
<rect x="1167.6" y="396.6" width="2.8" height="2.8" fill="#a8a8a8" opacity="0.53"/>
<rect x="1244.3" y="306.2" width="2.7" height="2.7" fill="#989898" opacity="0.77"/>
<rect x="1272.7" y="421.3" width="2.2" height="2.2" fill="#808080" opacity="0.56"/>
<rect x="1147.0" y="423.6" width="3.3" height="3.3" fill="#e388e8" opacity="0.60"/>
<rect x="1320.3" y="398.5" width="3.0" height="3.0" fill="#a8a8a8" opacity="0.56"/>
<rect x="1270.3" y="395.7" width="3.4" height="3.4" fill="#989898" opacity="0.46"/>
<rect x="1345.4" y="288.9" width="2.2" height="2.2" fill="#8c8c8c" opacity="0.48"/>
<rect x="1369.9" y="336.5" width="2.3" height="2.3" fill="#989898" opacity="0.82"/>
<rect x="1365.9" y="334.8" width="2.3" height="2.3" fill="#8c8c8c" opacity="0.84"/>
<rect x="1299.7" y="240.2" width="2.3" height="2.3" fill="#d0a4e0" opacity="0.82"/>
<rect x="1162.9" y="400.9" width="3.1" height="3.1" fill="#989898" opacity="0.50"/>
<rect x="1197.6" y="311.6" width="3.2" height="3.2" fill="#e388e8" opacity="0.76"/>
<rect x="1173.4" y="360.5" width="3.4" height="3.4" fill="#d0a4e0" opacity="0.71"/>
<rect x="1363.1" y="310.1" width="3.0" height="3.0" fill="#e8a0ee" opacity="0.46"/>
<rect x="1089.6" y="517.7" width="2.4" height="2.4" fill="#b8b8b8" opacity="0.62"/>
<rect x="1109.8" y="457.2" width="3.0" height="3.0" fill="#b8b8b8" opacity="0.62"/>
<rect x="1346.5" y="294.4" width="3.4" height="3.4" fill="#808080" opacity="0.83"/>
<rect x="1145.9" y="430.8" width="2.3" height="2.3" fill="#8c8c8c" opacity="0.84"/>
<rect x="1298.4" y="345.0" width="3.1" height="3.1" fill="#b8b8b8" opacity="0.65"/>
<rect x="1361.7" y="259.7" width="3.4" height="3.4" fill="#a8a8a8" opacity="0.55"/>
<rect x="1256.4" y="210.2" width="2.6" height="2.6" fill="#d896e4" opacity="0.58"/>
<rect x="1339.4" y="230.8" width="3.4" height="3.4" fill="#e8a0ee" opacity="0.55"/>
<rect x="1130.1" y="480.7" width="3.0" height="3.0" fill="#e8a0ee" opacity="0.59"/>
<rect x="1346.6" y="304.5" width="3.0" height="3.0" fill="#989898" opacity="0.68"/>
<rect x="1143.8" y="447.2" width="3.0" height="3.0" fill="#d896e4" opacity="0.84"/>
<rect x="1366.8" y="267.1" width="2.5" height="2.5" fill="#989898" opacity="0.77"/>
<rect x="1296.0" y="361.8" width="2.6" height="2.6" fill="#808080" opacity="0.77"/>
<rect x="1221.2" y="310.0" width="3.1" height="3.1" fill="#989898" opacity="0.45"/>
<rect x="1181.3" y="366.9" width="2.3" height="2.3" fill="#989898" opacity="0.47"/>
<rect x="1287.4" y="380.6" width="3.4" height="3.4" fill="#8c8c8c" opacity="0.84"/>
<rect x="1230.4" y="497.4" width="3.1" height="3.1" fill="#8c8c8c" opacity="0.51"/>
<rect x="1171.0" y="364.3" width="2.2" height="2.2" fill="#989898" opacity="0.66"/>
<rect x="1177.9" y="400.1" width="3.3" height="3.3" fill="#a8a8a8" opacity="0.59"/>
<rect x="1176.0" y="351.4" width="2.9" height="2.9" fill="#a8a8a8" opacity="0.83"/>
<rect x="1178.6" y="541.8" width="2.8" height="2.8" fill="#8c8c8c" opacity="0.66"/>
<rect x="1200.3" y="326.5" width="2.8" height="2.8" fill="#a8a8a8" opacity="0.60"/>
<rect x="1270.4" y="476.1" width="3.1" height="3.1" fill="#d896e4" opacity="0.85"/>
<rect x="1103.0" y="524.8" width="2.9" height="2.9" fill="#b8b8b8" opacity="0.71"/>
<rect x="1236.9" y="331.4" width="2.2" height="2.2" fill="#808080" opacity="0.78"/>
<rect x="1251.4" y="461.7" width="3.2" height="3.2" fill="#b8b8b8" opacity="0.59"/>
<rect x="1357.6" y="251.8" width="2.8" height="2.8" fill="#8c8c8c" opacity="0.79"/>
<rect x="1298.8" y="235.8" width="3.2" height="3.2" fill="#b8b8b8" opacity="0.51"/>
<rect x="1224.3" y="275.1" width="2.4" height="2.4" fill="#d0a4e0" opacity="0.56"/>
<rect x="1169.0" y="541.5" width="2.3" height="2.3" fill="#e8a0ee" opacity="0.62"/>
<rect x="1296.3" y="253.9" width="2.3" height="2.3" fill="#d0a4e0" opacity="0.71"/>
<rect x="1318.4" y="231.7" width="2.8" height="2.8" fill="#808080" opacity="0.57"/>
<rect x="1237.0" y="319.1" width="3.3" height="3.3" fill="#989898" opacity="0.64"/>
<rect x="1165.7" y="559.7" width="2.3" height="2.3" fill="#d896e4" opacity="0.49"/>
<rect x="1237.6" y="450.3" width="2.7" height="2.7" fill="#8c8c8c" opacity="0.57"/>
<rect x="1335.9" y="297.4" width="2.4" height="2.4" fill="#989898" opacity="0.52"/>
<rect x="1188.6" y="548.2" width="3.2" height="3.2" fill="#989898" opacity="0.64"/>
<rect x="1356.3" y="266.0" width="3.2" height="3.2" fill="#d0a4e0" opacity="0.52"/>
<rect x="1303.2" y="351.6" width="3.0" height="3.0" fill="#8c8c8c" opacity="0.72"/>
<rect x="1121.7" y="436.8" width="2.9" height="2.9" fill="#d0a4e0" opacity="0.78"/>
<rect x="1279.0" y="237.1" width="2.9" height="2.9" fill="#b8b8b8" opacity="0.60"/>
<rect x="1247.1" y="489.7" width="2.8" height="2.8" fill="#a8a8a8" opacity="0.76"/>
<rect x="1292.7" y="228.9" width="2.8" height="2.8" fill="#808080" opacity="0.70"/>
<rect x="1170.1" y="537.3" width="3.0" height="3.0" fill="#989898" opacity="0.59"/>
<rect x="1106.7" y="447.8" width="2.4" height="2.4" fill="#d0a4e0" opacity="0.63"/>
<rect x="1282.7" y="383.1" width="2.5" height="2.5" fill="#d896e4" opacity="0.54"/>
<rect x="1284.2" y="430.6" width="2.4" height="2.4" fill="#808080" opacity="0.77"/>
<rect x="1207.6" y="525.0" width="3.0" height="3.0" fill="#808080" opacity="0.76"/>
<rect x="1093.5" y="476.2" width="2.4" height="2.4" fill="#e388e8" opacity="0.64"/>
<rect x="1323.0" y="228.5" width="2.5" height="2.5" fill="#8c8c8c" opacity="0.74"/>
<rect x="1288.7" y="253.2" width="2.8" height="2.8" fill="#8c8c8c" opacity="0.82"/>
<rect x="1257.1" y="223.4" width="2.6" height="2.6" fill="#d896e4" opacity="0.46"/>
<rect x="1312.1" y="211.0" width="2.3" height="2.3" fill="#d896e4" opacity="0.83"/>
<rect x="1320.9" y="437.8" width="2.9" height="2.9" fill="#b8b8b8" opacity="0.47"/>
<rect x="1236.1" y="182.5" width="3.3" height="3.3" fill="#b8b8b8" opacity="0.76"/>
<rect x="1321.3" y="358.8" width="3.1" height="3.1" fill="#a8a8a8" opacity="0.77"/>
<rect x="1374.7" y="279.0" width="2.3" height="2.3" fill="#b8b8b8" opacity="0.67"/>
<rect x="1271.8" y="233.8" width="3.0" height="3.0" fill="#d896e4" opacity="0.69"/>
<rect x="1191.9" y="370.3" width="2.4" height="2.4" fill="#e388e8" opacity="0.63"/>
<rect x="1166.8" y="564.7" width="3.1" height="3.1" fill="#d0a4e0" opacity="0.55"/>
<rect x="1094.6" y="486.6" width="2.4" height="2.4" fill="#e8a0ee" opacity="0.61"/>
<rect x="1201.1" y="369.5" width="2.3" height="2.3" fill="#a8a8a8" opacity="0.51"/>
<rect x="1289.8" y="209.3" width="3.0" height="3.0" fill="#d896e4" opacity="0.55"/>
<rect x="1313.0" y="219.7" width="2.3" height="2.3" fill="#808080" opacity="0.79"/>
<rect x="1290.3" y="360.1" width="2.4" height="2.4" fill="#e8a0ee" opacity="0.73"/>
<rect x="1288.6" y="358.3" width="2.6" height="2.6" fill="#a8a8a8" opacity="0.47"/>
<rect x="1193.4" y="350.3" width="3.3" height="3.3" fill="#b8b8b8" opacity="0.68"/>
<rect x="1306.2" y="360.7" width="2.5" height="2.5" fill="#e8a0ee" opacity="0.66"/>
<rect x="1118.5" y="481.5" width="2.4" height="2.4" fill="#808080" opacity="0.66"/>
<rect x="1232.3" y="507.9" width="3.2" height="3.2" fill="#d896e4" opacity="0.67"/>
<rect x="1052.6" y="487.1" width="2.9" height="2.9" fill="#b8b8b8" opacity="0.59"/>
<rect x="1197.5" y="564.9" width="2.5" height="2.5" fill="#e8a0ee" opacity="0.71"/>
<rect x="1109.1" y="488.0" width="3.1" height="3.1" fill="#989898" opacity="0.62"/>
<rect x="1181.4" y="323.0" width="2.4" height="2.4" fill="#a8a8a8" opacity="0.84"/>
<rect x="1087.8" y="491.1" width="2.8" height="2.8" fill="#808080" opacity="0.83"/>
<rect x="1154.9" y="371.3" width="3.1" height="3.1" fill="#b8b8b8" opacity="0.63"/>
<rect x="1311.9" y="332.3" width="2.2" height="2.2" fill="#a8a8a8" opacity="0.77"/>
<rect x="1317.3" y="429.1" width="3.0" height="3.0" fill="#989898" opacity="0.74"/>
<rect x="1307.9" y="393.1" width="2.6" height="2.6" fill="#b8b8b8" opacity="0.73"/>
<rect x="1218.5" y="349.5" width="2.4" height="2.4" fill="#989898" opacity="0.80"/>
<rect x="1342.7" y="313.5" width="3.2" height="3.2" fill="#8c8c8c" opacity="0.51"/>
<rect x="1392.9" y="293.3" width="3.2" height="3.2" fill="#a8a8a8" opacity="0.78"/>
<rect x="1312.0" y="336.8" width="3.1" height="3.1" fill="#e8a0ee" opacity="0.78"/>
<rect x="1174.1" y="392.7" width="2.3" height="2.3" fill="#989898" opacity="0.61"/>
<rect x="1227.6" y="504.2" width="3.1" height="3.1" fill="#808080" opacity="0.69"/>
<rect x="1303.0" y="401.6" width="2.6" height="2.6" fill="#d0a4e0" opacity="0.62"/>
<rect x="1289.9" y="374.9" width="3.4" height="3.4" fill="#b8b8b8" opacity="0.71"/>
<rect x="1246.8" y="230.7" width="2.3" height="2.3" fill="#989898" opacity="0.47"/>
<rect x="1176.8" y="556.2" width="2.9" height="2.9" fill="#989898" opacity="0.81"/>
<rect x="1294.4" y="349.3" width="2.9" height="2.9" fill="#a8a8a8" opacity="0.70"/>
<rect x="1203.5" y="278.9" width="2.3" height="2.3" fill="#b8b8b8" opacity="0.75"/>
<rect x="1095.5" y="481.6" width="3.0" height="3.0" fill="#8c8c8c" opacity="0.79"/>
<rect x="1188.1" y="355.6" width="2.7" height="2.7" fill="#8c8c8c" opacity="0.60"/>
<rect x="1246.1" y="274.5" width="2.3" height="2.3" fill="#989898" opacity="0.53"/>
<rect x="1214.0" y="548.4" width="2.8" height="2.8" fill="#a8a8a8" opacity="0.77"/>
<rect x="1229.2" y="524.1" width="2.6" height="2.6" fill="#e8a0ee" opacity="0.69"/>
<rect x="1180.2" y="404.0" width="2.6" height="2.6" fill="#d0a4e0" opacity="0.65"/>
<rect x="1189.7" y="379.8" width="2.8" height="2.8" fill="#d896e4" opacity="0.82"/>
<rect x="1386.0" y="276.0" width="2.7" height="2.7" fill="#989898" opacity="0.78"/>
<rect x="1115.1" y="454.7" width="2.7" height="2.7" fill="#e8a0ee" opacity="0.51"/>
<rect x="1221.4" y="491.9" width="3.4" height="3.4" fill="#d0a4e0" opacity="0.70"/>
<rect x="1189.8" y="338.3" width="2.3" height="2.3" fill="#8c8c8c" opacity="0.82"/>
<rect x="1303.0" y="245.2" width="2.5" height="2.5" fill="#808080" opacity="0.85"/>
<rect x="1107.3" y="502.9" width="3.2" height="3.2" fill="#d0a4e0" opacity="0.52"/>
<rect x="1110.2" y="511.6" width="2.2" height="2.2" fill="#808080" opacity="0.68"/>
<rect x="1252.7" y="416.8" width="2.7" height="2.7" fill="#808080" opacity="0.51"/>
<rect x="1234.6" y="506.5" width="2.6" height="2.6" fill="#8c8c8c" opacity="0.48"/>
<rect x="1352.7" y="278.9" width="2.7" height="2.7" fill="#808080" opacity="0.78"/>
<rect x="1332.0" y="308.6" width="2.9" height="2.9" fill="#a8a8a8" opacity="0.55"/>
<rect x="1079.1" y="504.3" width="2.3" height="2.3" fill="#989898" opacity="0.62"/>
<rect x="1283.0" y="425.2" width="2.7" height="2.7" fill="#8c8c8c" opacity="0.75"/>
<rect x="1245.6" y="288.5" width="3.3" height="3.3" fill="#b8b8b8" opacity="0.58"/>
<rect x="1092.5" y="496.3" width="3.2" height="3.2" fill="#d0a4e0" opacity="0.57"/>
<rect x="1389.6" y="284.6" width="2.9" height="2.9" fill="#808080" opacity="0.51"/>
<rect x="1288.2" y="205.8" width="2.9" height="2.9" fill="#808080" opacity="0.52"/>
<rect x="1312.0" y="370.9" width="3.0" height="3.0" fill="#b8b8b8" opacity="0.82"/>
<rect x="1217.1" y="337.4" width="3.2" height="3.2" fill="#e388e8" opacity="0.54"/>
<rect x="1238.5" y="295.6" width="2.6" height="2.6" fill="#e388e8" opacity="0.69"/>
<rect x="1362.0" y="305.2" width="3.1" height="3.1" fill="#b8b8b8" opacity="0.70"/>
<rect x="1321.8" y="341.1" width="2.9" height="2.9" fill="#808080" opacity="0.47"/>
<rect x="1100.1" y="498.4" width="3.2" height="3.2" fill="#808080" opacity="0.83"/>
<rect x="1309.3" y="390.6" width="2.3" height="2.3" fill="#8c8c8c" opacity="0.75"/>
<rect x="1134.0" y="460.5" width="2.7" height="2.7" fill="#b8b8b8" opacity="0.82"/>
<rect x="1200.5" y="345.7" width="2.2" height="2.2" fill="#d0a4e0" opacity="0.57"/>
<rect x="1275.9" y="237.8" width="2.9" height="2.9" fill="#b8b8b8" opacity="0.75"/>
<rect x="1086.3" y="418.8" width="2.5" height="2.5" fill="#e8a0ee" opacity="0.70"/>
<rect x="1305.2" y="490.3" width="3.1" height="3.1" fill="#e8a0ee" opacity="0.69"/>
<rect x="1259.5" y="421.8" width="2.5" height="2.5" fill="#989898" opacity="0.47"/>
<rect x="1315.9" y="233.7" width="3.1" height="3.1" fill="#a8a8a8" opacity="0.49"/>
<rect x="1368.9" y="258.8" width="3.2" height="3.2" fill="#b8b8b8" opacity="0.68"/>
<rect x="1196.7" y="368.5" width="2.6" height="2.6" fill="#8c8c8c" opacity="0.53"/>
<rect x="1352.2" y="304.5" width="3.3" height="3.3" fill="#989898" opacity="0.56"/>
<rect x="1270.7" y="448.9" width="2.5" height="2.5" fill="#d0a4e0" opacity="0.73"/>
<rect x="1115.6" y="467.7" width="3.4" height="3.4" fill="#808080" opacity="0.45"/>
<rect x="1322.3" y="238.9" width="3.2" height="3.2" fill="#a8a8a8" opacity="0.77"/>
<rect x="1297.3" y="353.4" width="2.9" height="2.9" fill="#989898" opacity="0.81"/>
<rect x="1207.8" y="361.7" width="2.8" height="2.8" fill="#e388e8" opacity="0.56"/>
<rect x="1163.9" y="569.5" width="2.8" height="2.8" fill="#d0a4e0" opacity="0.53"/>
<rect x="1184.3" y="528.7" width="3.1" height="3.1" fill="#b8b8b8" opacity="0.56"/>
<rect x="1169.0" y="409.2" width="3.1" height="3.1" fill="#e388e8" opacity="0.60"/>
<rect x="1157.6" y="565.2" width="2.4" height="2.4" fill="#e8a0ee" opacity="0.45"/>
<rect x="1255.2" y="493.1" width="2.4" height="2.4" fill="#808080" opacity="0.79"/>
<rect x="1238.3" y="330.0" width="2.7" height="2.7" fill="#b8b8b8" opacity="0.52"/>
<rect x="1189.8" y="568.3" width="2.5" height="2.5" fill="#808080" opacity="0.84"/>
<rect x="1283.6" y="393.1" width="2.7" height="2.7" fill="#d0a4e0" opacity="0.67"/>
<rect x="1362.8" y="283.1" width="2.5" height="2.5" fill="#b8b8b8" opacity="0.64"/>
<rect x="1146.8" y="405.8" width="2.3" height="2.3" fill="#a8a8a8" opacity="0.67"/>
<rect x="1114.4" y="463.2" width="3.2" height="3.2" fill="#d0a4e0" opacity="0.81"/>
<rect x="1112.0" y="524.5" width="3.0" height="3.0" fill="#b8b8b8" opacity="0.77"/>
<rect x="1229.9" y="307.2" width="2.8" height="2.8" fill="#e8a0ee" opacity="0.66"/>
<rect x="1108.8" y="469.9" width="2.8" height="2.8" fill="#989898" opacity="0.58"/>
<rect x="1315.4" y="230.3" width="3.1" height="3.1" fill="#e8a0ee" opacity="0.82"/>
<rect x="1209.5" y="360.0" width="2.5" height="2.5" fill="#d896e4" opacity="0.51"/>
<rect x="1118.4" y="462.4" width="3.0" height="3.0" fill="#a8a8a8" opacity="0.71"/>
<rect x="1283.4" y="446.9" width="3.3" height="3.3" fill="#a8a8a8" opacity="0.58"/>
<rect x="1208.7" y="251.0" width="3.1" height="3.1" fill="#8c8c8c" opacity="0.75"/>
<rect x="1313.8" y="377.8" width="2.9" height="2.9" fill="#b8b8b8" opacity="0.73"/>
<rect x="1126.6" y="475.4" width="2.7" height="2.7" fill="#d896e4" opacity="0.48"/>
<rect x="1116.5" y="464.6" width="2.3" height="2.3" fill="#a8a8a8" opacity="0.53"/>
<rect x="1199.0" y="343.3" width="3.2" height="3.2" fill="#a8a8a8" opacity="0.50"/>
<rect x="1186.7" y="584.3" width="3.0" height="3.0" fill="#b8b8b8" opacity="0.67"/>
<rect x="1215.4" y="523.9" width="3.2" height="3.2" fill="#d0a4e0" opacity="0.52"/>
<rect x="1321.8" y="217.0" width="2.3" height="2.3" fill="#808080" opacity="0.57"/>
<rect x="1345.8" y="271.7" width="2.5" height="2.5" fill="#d0a4e0" opacity="0.79"/>
<rect x="1356.0" y="277.7" width="3.4" height="3.4" fill="#e8a0ee" opacity="0.53"/>
<rect x="1359.6" y="288.0" width="3.4" height="3.4" fill="#808080" opacity="0.77"/>
<rect x="1344.3" y="232.6" width="2.4" height="2.4" fill="#d896e4" opacity="0.69"/>
<rect x="1342.5" y="200.9" width="2.4" height="2.4" fill="#a8a8a8" opacity="0.57"/>
<rect x="1382.7" y="315.4" width="3.2" height="3.2" fill="#e8a0ee" opacity="0.84"/>
<rect x="1356.2" y="201.3" width="2.7" height="2.7" fill="#d896e4" opacity="0.82"/>
<rect x="1368.3" y="193.9" width="3.2" height="3.2" fill="#b8b8b8" opacity="0.81"/>
<rect x="1391.7" y="234.8" width="2.3" height="2.3" fill="#e8a0ee" opacity="0.61"/>
<rect x="1373.5" y="233.9" width="2.9" height="2.9" fill="#d896e4" opacity="0.68"/>
<rect x="1388.6" y="301.2" width="3.0" height="3.0" fill="#b8b8b8" opacity="0.74"/>
<rect x="1354.5" y="206.4" width="2.5" height="2.5" fill="#e388e8" opacity="0.84"/>
<rect x="1373.2" y="238.7" width="3.1" height="3.1" fill="#e388e8" opacity="0.51"/>
<rect x="1350.8" y="272.2" width="2.5" height="2.5" fill="#8c8c8c" opacity="0.78"/>
<rect x="1389.0" y="217.4" width="3.1" height="3.1" fill="#8c8c8c" opacity="0.56"/>
<rect x="1374.8" y="272.1" width="2.4" height="2.4" fill="#d0a4e0" opacity="0.57"/>
<rect x="1337.5" y="228.8" width="2.6" height="2.6" fill="#989898" opacity="0.60"/>
<rect x="1344.2" y="275.6" width="3.4" height="3.4" fill="#d0a4e0" opacity="0.70"/>
<rect x="1327.3" y="237.8" width="3.2" height="3.2" fill="#989898" opacity="0.61"/>
<rect x="1376.0" y="223.4" width="2.3" height="2.3" fill="#e388e8" opacity="0.46"/>
<rect x="1347.0" y="185.2" width="2.5" height="2.5" fill="#d0a4e0" opacity="0.52"/>
<rect x="1391.9" y="231.6" width="3.4" height="3.4" fill="#b8b8b8" opacity="0.78"/>
<rect x="1351.6" y="284.3" width="2.4" height="2.4" fill="#a8a8a8" opacity="0.82"/>
<rect x="1373.6" y="204.5" width="3.0" height="3.0" fill="#b8b8b8" opacity="0.51"/>
<rect x="1392.9" y="317.8" width="2.2" height="2.2" fill="#989898" opacity="0.60"/>
<rect x="1398.8" y="264.5" width="3.4" height="3.4" fill="#e388e8" opacity="0.74"/>
<rect x="1327.0" y="181.5" width="2.4" height="2.4" fill="#e8a0ee" opacity="0.73"/>
<rect x="1364.4" y="194.5" width="2.4" height="2.4" fill="#a8a8a8" opacity="0.61"/>
<rect x="1358.7" y="267.5" width="2.8" height="2.8" fill="#e8a0ee" opacity="0.84"/>
<rect x="1337.7" y="225.2" width="3.0" height="3.0" fill="#d896e4" opacity="0.64"/>
<rect x="1360.0" y="235.1" width="3.1" height="3.1" fill="#e388e8" opacity="0.54"/>
<rect x="1375.2" y="235.5" width="2.4" height="2.4" fill="#d0a4e0" opacity="0.53"/>
<rect x="1398.1" y="269.2" width="3.0" height="3.0" fill="#d896e4" opacity="0.55"/>
<rect x="1406.4" y="263.2" width="2.9" height="2.9" fill="#e388e8" opacity="0.68"/>
<rect x="1358.6" y="236.5" width="2.8" height="2.8" fill="#e8a0ee" opacity="0.66"/>
<rect x="1368.8" y="306.4" width="2.4" height="2.4" fill="#e8a0ee" opacity="0.70"/>
<rect x="1290.3" y="232.6" width="2.9" height="2.9" fill="#e388e8" opacity="0.67"/>
<rect x="1341.2" y="288.0" width="3.0" height="3.0" fill="#e8a0ee" opacity="0.51"/>
<rect x="1300.6" y="220.9" width="2.6" height="2.6" fill="#e8a0ee" opacity="0.73"/>
<rect x="1389.8" y="217.5" width="2.4" height="2.4" fill="#a8a8a8" opacity="0.53"/>
<rect x="1300.6" y="251.0" width="2.4" height="2.4" fill="#d896e4" opacity="0.59"/>
<rect x="1361.8" y="245.6" width="2.6" height="2.6" fill="#d0a4e0" opacity="0.47"/>
<rect x="1366.4" y="219.0" width="2.8" height="2.8" fill="#989898" opacity="0.50"/>
<rect x="1339.7" y="191.6" width="2.3" height="2.3" fill="#e8a0ee" opacity="0.53"/>
<rect x="1403.3" y="226.7" width="3.3" height="3.3" fill="#d0a4e0" opacity="0.53"/>
<rect x="1390.9" y="213.9" width="2.6" height="2.6" fill="#e8a0ee" opacity="0.71"/>
<rect x="1339.8" y="231.7" width="2.9" height="2.9" fill="#d896e4" opacity="0.56"/>
<rect x="1319.3" y="225.1" width="2.8" height="2.8" fill="#8c8c8c" opacity="0.62"/>
<rect x="1362.1" y="264.1" width="2.3" height="2.3" fill="#989898" opacity="0.78"/>
<rect x="1339.9" y="208.6" width="2.6" height="2.6" fill="#d896e4" opacity="0.48"/>
<rect x="1422.0" y="225.8" width="3.3" height="3.3" fill="#d896e4" opacity="0.60"/>
<rect x="1371.3" y="240.4" width="2.7" height="2.7" fill="#b8b8b8" opacity="0.67"/>
<rect x="1351.5" y="258.4" width="3.1" height="3.1" fill="#d0a4e0" opacity="0.47"/>
<rect x="1393.3" y="227.2" width="2.4" height="2.4" fill="#a8a8a8" opacity="0.67"/>
<rect x="1353.0" y="279.8" width="2.6" height="2.6" fill="#d896e4" opacity="0.80"/>
<rect x="1295.6" y="246.5" width="2.3" height="2.3" fill="#a8a8a8" opacity="0.72"/>
<rect x="1376.7" y="264.6" width="3.0" height="3.0" fill="#8c8c8c" opacity="0.56"/>
<rect x="1403.0" y="219.9" width="2.6" height="2.6" fill="#e8a0ee" opacity="0.63"/>
<rect x="1351.3" y="185.4" width="3.3" height="3.3" fill="#a8a8a8" opacity="0.82"/>
<rect x="1370.7" y="213.9" width="3.0" height="3.0" fill="#e8a0ee" opacity="0.63"/>
<rect x="1286.6" y="246.6" width="3.2" height="3.2" fill="#d896e4" opacity="0.55"/>
<rect x="1355.8" y="236.7" width="2.3" height="2.3" fill="#d896e4" opacity="0.47"/>
<rect x="1375.8" y="227.4" width="2.9" height="2.9" fill="#d0a4e0" opacity="0.81"/>
<rect x="1381.9" y="208.4" width="3.1" height="3.1" fill="#d0a4e0" opacity="0.50"/>
<rect x="1372.9" y="263.4" width="2.8" height="2.8" fill="#e388e8" opacity="0.53"/>
<rect x="1368.7" y="203.0" width="3.3" height="3.3" fill="#b8b8b8" opacity="0.63"/>
<rect x="1334.1" y="186.3" width="3.0" height="3.0" fill="#d0a4e0" opacity="0.82"/>
<rect x="1360.6" y="208.3" width="2.3" height="2.3" fill="#8c8c8c" opacity="0.47"/>
<rect x="1371.0" y="252.8" width="2.6" height="2.6" fill="#e8a0ee" opacity="0.52"/>
<rect x="1349.4" y="225.4" width="2.2" height="2.2" fill="#a8a8a8" opacity="0.85"/>
<rect x="1331.9" y="212.5" width="3.2" height="3.2" fill="#a8a8a8" opacity="0.83"/>
<rect x="1318.1" y="182.9" width="3.3" height="3.3" fill="#e388e8" opacity="0.58"/>
<rect x="1318.6" y="209.2" width="2.6" height="2.6" fill="#d896e4" opacity="0.56"/>
<rect x="1360.6" y="237.2" width="2.9" height="2.9" fill="#d896e4" opacity="0.55"/>
<rect x="1364.4" y="235.8" width="3.0" height="3.0" fill="#d0a4e0" opacity="0.82"/>
<rect x="1358.8" y="293.4" width="3.2" height="3.2" fill="#a8a8a8" opacity="0.51"/>
<rect x="1343.4" y="232.2" width="2.2" height="2.2" fill="#e8a0ee" opacity="0.49"/>
<rect x="1380.4" y="213.3" width="2.4" height="2.4" fill="#e388e8" opacity="0.61"/>
<rect x="1338.6" y="219.8" width="2.7" height="2.7" fill="#989898" opacity="0.70"/>
<rect x="1354.7" y="210.0" width="3.0" height="3.0" fill="#d896e4" opacity="0.56"/>
<rect x="1399.2" y="222.7" width="2.8" height="2.8" fill="#e388e8" opacity="0.66"/>
<rect x="1357.3" y="227.6" width="3.0" height="3.0" fill="#808080" opacity="0.66"/>
<rect x="1301.5" y="233.2" width="2.3" height="2.3" fill="#808080" opacity="0.62"/>
<rect x="1351.0" y="185.9" width="2.4" height="2.4" fill="#8c8c8c" opacity="0.49"/>
<rect x="1356.3" y="182.1" width="2.5" height="2.5" fill="#a8a8a8" opacity="0.70"/>
<rect x="1378.0" y="203.9" width="3.0" height="3.0" fill="#e8a0ee" opacity="0.46"/>
<rect x="1384.6" y="218.3" width="3.0" height="3.0" fill="#8c8c8c" opacity="0.76"/>
<rect x="1389.5" y="226.9" width="3.1" height="3.1" fill="#8c8c8c" opacity="0.68"/>
<rect x="1297.3" y="241.5" width="2.3" height="2.3" fill="#d0a4e0" opacity="0.75"/>
<rect x="1325.1" y="210.4" width="3.1" height="3.1" fill="#d896e4" opacity="0.65"/>
<rect x="1355.6" y="233.0" width="2.2" height="2.2" fill="#808080" opacity="0.60"/>
<rect x="1364.1" y="230.8" width="3.1" height="3.1" fill="#8c8c8c" opacity="0.55"/>
<rect x="1367.0" y="277.6" width="3.1" height="3.1" fill="#d896e4" opacity="0.57"/>
<rect x="1364.9" y="274.8" width="3.0" height="3.0" fill="#e388e8" opacity="0.71"/>
<rect x="1354.8" y="211.9" width="3.0" height="3.0" fill="#d0a4e0" opacity="0.58"/>
<rect x="1387.1" y="233.2" width="3.1" height="3.1" fill="#e388e8" opacity="0.81"/>
<rect x="1357.9" y="190.4" width="3.0" height="3.0" fill="#989898" opacity="0.65"/>
<rect x="1302.1" y="249.4" width="2.8" height="2.8" fill="#d896e4" opacity="0.56"/>
<rect x="1350.5" y="234.7" width="3.1" height="3.1" fill="#e388e8" opacity="0.68"/>
<rect x="1371.6" y="218.9" width="2.8" height="2.8" fill="#989898" opacity="0.54"/>
<rect x="1394.5" y="217.2" width="3.3" height="3.3" fill="#b8b8b8" opacity="0.49"/>
<rect x="1388.4" y="261.6" width="2.8" height="2.8" fill="#989898" opacity="0.72"/>
<rect x="1384.0" y="238.8" width="2.3" height="2.3" fill="#d896e4" opacity="0.70"/>
<rect x="1310.0" y="236.5" width="2.6" height="2.6" fill="#d896e4" opacity="0.65"/>
<rect x="1368.3" y="227.7" width="3.3" height="3.3" fill="#8c8c8c" opacity="0.59"/>
<rect x="1373.8" y="261.5" width="3.0" height="3.0" fill="#989898" opacity="0.70"/>
<rect x="1326.9" y="228.0" width="3.0" height="3.0" fill="#989898" opacity="0.80"/>
<rect x="1334.7" y="191.5" width="2.4" height="2.4" fill="#8c8c8c" opacity="0.53"/>
<rect x="1341.3" y="220.2" width="2.4" height="2.4" fill="#808080" opacity="0.68"/>
<rect x="1345.5" y="271.9" width="2.5" height="2.5" fill="#d0a4e0" opacity="0.60"/>
<rect x="1367.1" y="236.3" width="2.3" height="2.3" fill="#d0a4e0" opacity="0.61"/>
<rect x="1349.7" y="236.9" width="2.3" height="2.3" fill="#8c8c8c" opacity="0.81"/>
<rect x="1342.3" y="201.0" width="2.8" height="2.8" fill="#8c8c8c" opacity="0.60"/>
<rect x="1302.0" y="248.5" width="2.8" height="2.8" fill="#e8a0ee" opacity="0.70"/>
<rect x="1350.0" y="280.9" width="3.3" height="3.3" fill="#d896e4" opacity="0.60"/>
<rect x="1359.0" y="248.9" width="2.6" height="2.6" fill="#989898" opacity="0.84"/>
<rect x="1322.9" y="222.5" width="3.1" height="3.1" fill="#989898" opacity="0.75"/>
<rect x="1333.8" y="238.3" width="3.3" height="3.3" fill="#e8a0ee" opacity="0.47"/>
<rect x="1329.2" y="230.5" width="2.7" height="2.7" fill="#e388e8" opacity="0.46"/>
<rect x="1332.9" y="166.7" width="3.3" height="3.3" fill="#d896e4" opacity="0.69"/>
<rect x="1352.9" y="274.4" width="2.7" height="2.7" fill="#d0a4e0" opacity="0.80"/>
<rect x="1370.2" y="228.5" width="3.0" height="3.0" fill="#d896e4" opacity="0.76"/>
<rect x="1371.0" y="241.2" width="2.8" height="2.8" fill="#e388e8" opacity="0.50"/>
<rect x="1370.5" y="234.7" width="2.3" height="2.3" fill="#989898" opacity="0.66"/>
<rect x="1340.7" y="232.2" width="3.2" height="3.2" fill="#808080" opacity="0.58"/>
<rect x="1386.0" y="244.4" width="3.1" height="3.1" fill="#d896e4" opacity="0.48"/>
<rect x="1368.1" y="266.7" width="2.4" height="2.4" fill="#e8a0ee" opacity="0.48"/>
<rect x="1273.3" y="213.1" width="2.7" height="2.7" fill="#d896e4" opacity="0.50"/>
<rect x="1318.5" y="210.8" width="2.4" height="2.4" fill="#8c8c8c" opacity="0.49"/>
<rect x="1364.0" y="225.0" width="2.7" height="2.7" fill="#e388e8" opacity="0.75"/>
<rect x="1341.5" y="217.6" width="3.2" height="3.2" fill="#989898" opacity="0.82"/>
<rect x="1338.2" y="198.1" width="2.9" height="2.9" fill="#989898" opacity="0.76"/>
<rect x="1379.7" y="213.6" width="3.1" height="3.1" fill="#e8a0ee" opacity="0.70"/>
<rect x="1332.6" y="192.8" width="3.4" height="3.4" fill="#e388e8" opacity="0.71"/>
<rect x="1350.0" y="261.4" width="2.8" height="2.8" fill="#d896e4" opacity="0.81"/>
<rect x="1357.1" y="250.2" width="2.9" height="2.9" fill="#b8b8b8" opacity="0.74"/>
<rect x="1387.3" y="285.5" width="3.0" height="3.0" fill="#e8a0ee" opacity="0.58"/>
<rect x="1403.1" y="213.5" width="2.5" height="2.5" fill="#a8a8a8" opacity="0.54"/>
<rect x="1338.8" y="220.9" width="2.3" height="2.3" fill="#e388e8" opacity="0.55"/>
<rect x="1361.7" y="198.2" width="2.3" height="2.3" fill="#8c8c8c" opacity="0.60"/>
<rect x="1320.1" y="199.6" width="3.2" height="3.2" fill="#808080" opacity="0.77"/>
<rect x="1355.4" y="264.1" width="3.1" height="3.1" fill="#e388e8" opacity="0.47"/>
<rect x="1355.2" y="283.5" width="2.5" height="2.5" fill="#d896e4" opacity="0.71"/>
<rect x="1374.8" y="201.1" width="3.3" height="3.3" fill="#d896e4" opacity="0.54"/>
<rect x="1322.3" y="217.6" width="2.8" height="2.8" fill="#e388e8" opacity="0.76"/>
<rect x="1299.8" y="227.0" width="2.9" height="2.9" fill="#d896e4" opacity="0.71"/>
<rect x="1207.9" y="352.7" width="2.8" height="2.8" fill="#d896e4" opacity="0.88"/>
<rect x="1205.8" y="362.1" width="3.3" height="3.3" fill="#d0a4e0" opacity="0.89"/>
<rect x="1280.6" y="250.1" width="2.5" height="2.5" fill="#d0a4e0" opacity="0.83"/>
<rect x="1223.0" y="342.9" width="2.3" height="2.3" fill="#d0a4e0" opacity="0.88"/>
<rect x="1376.6" y="277.1" width="2.6" height="2.6" fill="#e8a0ee" opacity="0.76"/>
<rect x="1125.7" y="474.8" width="2.7" height="2.7" fill="#989898" opacity="0.93"/>
<rect x="1346.1" y="292.2" width="3.2" height="3.2" fill="#e8a0ee" opacity="0.76"/>
<rect x="1300.5" y="344.9" width="2.9" height="2.9" fill="#e388e8" opacity="0.84"/>
<rect x="1180.3" y="535.3" width="3.1" height="3.1" fill="#808080" opacity="0.60"/>
<rect x="1341.1" y="299.0" width="2.5" height="2.5" fill="#d896e4" opacity="0.75"/>
<rect x="1222.9" y="333.0" width="3.2" height="3.2" fill="#d0a4e0" opacity="0.69"/>
<rect x="1173.7" y="547.5" width="2.3" height="2.3" fill="#e388e8" opacity="0.67"/>
<rect x="1347.9" y="235.7" width="3.1" height="3.1" fill="#b8b8b8" opacity="0.89"/>
<rect x="1356.4" y="261.9" width="3.2" height="3.2" fill="#b8b8b8" opacity="0.62"/>
<rect x="1308.1" y="212.9" width="3.2" height="3.2" fill="#989898" opacity="0.56"/>
<rect x="1260.5" y="416.8" width="3.3" height="3.3" fill="#d0a4e0" opacity="0.82"/>
<rect x="1114.9" y="539.1" width="2.9" height="2.9" fill="#b8b8b8" opacity="0.84"/>
<rect x="1220.0" y="323.5" width="2.9" height="2.9" fill="#e388e8" opacity="0.93"/>
<rect x="1337.5" y="233.8" width="2.4" height="2.4" fill="#b8b8b8" opacity="0.55"/>
<rect x="1297.6" y="239.1" width="3.3" height="3.3" fill="#d896e4" opacity="0.63"/>
<rect x="1204.8" y="372.1" width="3.1" height="3.1" fill="#8c8c8c" opacity="0.84"/>
<rect x="1182.0" y="383.4" width="3.1" height="3.1" fill="#e388e8" opacity="0.62"/>
<rect x="1215.3" y="346.6" width="2.6" height="2.6" fill="#a8a8a8" opacity="0.71"/>
<rect x="1336.3" y="290.9" width="3.4" height="3.4" fill="#808080" opacity="0.80"/>
<rect x="1326.3" y="227.3" width="2.8" height="2.8" fill="#d896e4" opacity="0.95"/>
<rect x="1178.8" y="400.6" width="2.4" height="2.4" fill="#a8a8a8" opacity="0.86"/>
<rect x="1143.8" y="457.0" width="3.0" height="3.0" fill="#e388e8" opacity="0.82"/>
<rect x="1311.1" y="219.6" width="2.6" height="2.6" fill="#d896e4" opacity="0.61"/>
<rect x="1268.4" y="249.1" width="2.7" height="2.7" fill="#b8b8b8" opacity="0.67"/>
<rect x="1283.1" y="371.6" width="3.2" height="3.2" fill="#8c8c8c" opacity="0.81"/>
<rect x="1340.5" y="316.0" width="2.5" height="2.5" fill="#989898" opacity="0.89"/>
<rect x="1116.2" y="504.2" width="2.3" height="2.3" fill="#d0a4e0" opacity="0.74"/>
<rect x="1358.6" y="260.0" width="3.4" height="3.4" fill="#d896e4" opacity="0.91"/>
<rect x="1308.9" y="238.4" width="3.2" height="3.2" fill="#d896e4" opacity="0.79"/>
<rect x="1327.1" y="335.8" width="3.1" height="3.1" fill="#e8a0ee" opacity="0.62"/>
<rect x="1217.7" y="352.2" width="3.2" height="3.2" fill="#8c8c8c" opacity="0.85"/>
<rect x="1167.7" y="554.6" width="2.6" height="2.6" fill="#e388e8" opacity="0.88"/>
<rect x="1190.6" y="529.6" width="2.5" height="2.5" fill="#d896e4" opacity="0.86"/>
<rect x="1327.9" y="237.4" width="2.8" height="2.8" fill="#e8a0ee" opacity="0.64"/>
<rect x="1355.7" y="270.1" width="3.1" height="3.1" fill="#a8a8a8" opacity="0.68"/>
<rect x="1357.2" y="262.4" width="3.3" height="3.3" fill="#b8b8b8" opacity="0.74"/>
<rect x="1303.2" y="344.3" width="3.3" height="3.3" fill="#a8a8a8" opacity="0.87"/>
<rect x="1364.0" y="256.2" width="2.3" height="2.3" fill="#d896e4" opacity="0.90"/>
<rect x="1162.6" y="556.8" width="3.3" height="3.3" fill="#b8b8b8" opacity="0.67"/>
<rect x="1343.3" y="313.9" width="2.3" height="2.3" fill="#e8a0ee" opacity="0.73"/>
<rect x="1118.4" y="524.2" width="2.8" height="2.8" fill="#8c8c8c" opacity="0.80"/>
<rect x="1259.9" y="432.4" width="2.2" height="2.2" fill="#989898" opacity="0.65"/>
<rect x="1346.0" y="275.3" width="2.2" height="2.2" fill="#8c8c8c" opacity="0.80"/>
<rect x="1338.8" y="233.0" width="3.1" height="3.1" fill="#e388e8" opacity="0.87"/>
<rect x="1235.0" y="285.6" width="2.6" height="2.6" fill="#e388e8" opacity="0.71"/>
<rect x="1212.0" y="345.4" width="3.4" height="3.4" fill="#a8a8a8" opacity="0.95"/>
<rect x="1323.7" y="225.5" width="2.3" height="2.3" fill="#8c8c8c" opacity="0.71"/>
<rect x="1119.0" y="514.0" width="2.9" height="2.9" fill="#808080" opacity="0.86"/>
<rect x="1354.9" y="252.3" width="3.1" height="3.1" fill="#d896e4" opacity="0.72"/>
<rect x="1117.4" y="546.6" width="3.1" height="3.1" fill="#989898" opacity="0.85"/>
<rect x="1335.9" y="228.0" width="3.0" height="3.0" fill="#989898" opacity="0.74"/>
<rect x="1333.9" y="237.2" width="3.1" height="3.1" fill="#8c8c8c" opacity="0.65"/>
<rect x="1141.7" y="457.1" width="2.8" height="2.8" fill="#b8b8b8" opacity="0.76"/>
<rect x="1318.2" y="334.3" width="2.5" height="2.5" fill="#808080" opacity="0.92"/>
<rect x="1234.2" y="470.3" width="2.9" height="2.9" fill="#808080" opacity="0.66"/>
<rect x="1205.5" y="349.1" width="3.3" height="3.3" fill="#d896e4" opacity="0.57"/>
<rect x="1128.4" y="485.9" width="3.4" height="3.4" fill="#8c8c8c" opacity="0.63"/>
<rect x="1226.4" y="345.9" width="2.9" height="2.9" fill="#e388e8" opacity="0.61"/>
<rect x="1109.6" y="521.2" width="2.8" height="2.8" fill="#b8b8b8" opacity="0.66"/>
<rect x="1176.9" y="532.8" width="3.0" height="3.0" fill="#b8b8b8" opacity="0.74"/>
<rect x="1316.9" y="232.2" width="3.2" height="3.2" fill="#e8a0ee" opacity="0.81"/>
<rect x="1300.8" y="393.4" width="2.3" height="2.3" fill="#808080" opacity="0.68"/>
<rect x="1331.0" y="317.5" width="2.5" height="2.5" fill="#e388e8" opacity="0.88"/>
<rect x="1333.1" y="315.2" width="2.9" height="2.9" fill="#989898" opacity="0.63"/>
<rect x="1348.8" y="266.6" width="2.9" height="2.9" fill="#e8a0ee" opacity="0.72"/>
<rect x="1315.1" y="334.8" width="2.7" height="2.7" fill="#e8a0ee" opacity="0.75"/>
<rect x="1167.6" y="538.9" width="2.8" height="2.8" fill="#b8b8b8" opacity="0.92"/>
<rect x="1353.8" y="245.1" width="2.9" height="2.9" fill="#d896e4" opacity="0.58"/>
<rect x="1164.5" y="542.6" width="2.7" height="2.7" fill="#d896e4" opacity="0.67"/>
<rect x="1257.6" y="408.3" width="2.8" height="2.8" fill="#8c8c8c" opacity="0.71"/>
<rect x="1176.9" y="547.5" width="3.3" height="3.3" fill="#e8a0ee" opacity="0.84"/>
<rect x="1210.8" y="331.6" width="3.2" height="3.2" fill="#a8a8a8" opacity="0.90"/>
<rect x="1177.6" y="550.3" width="2.6" height="2.6" fill="#e388e8" opacity="0.71"/>
<rect x="1357.2" y="316.2" width="2.2" height="2.2" fill="#989898" opacity="0.62"/>
<rect x="1164.3" y="555.4" width="2.6" height="2.6" fill="#d896e4" opacity="0.91"/>
<rect x="1321.2" y="315.8" width="3.3" height="3.3" fill="#e388e8" opacity="0.87"/>
<rect x="1227.8" y="487.8" width="2.3" height="2.3" fill="#e8a0ee" opacity="0.84"/>
<rect x="1234.5" y="472.9" width="2.6" height="2.6" fill="#d896e4" opacity="0.92"/>
<rect x="1306.5" y="336.7" width="2.5" height="2.5" fill="#d0a4e0" opacity="0.88"/>
<rect x="1258.0" y="424.7" width="2.6" height="2.6" fill="#e8a0ee" opacity="0.56"/>
<rect x="1157.1" y="566.8" width="3.2" height="3.2" fill="#d0a4e0" opacity="0.87"/>
<rect x="1209.8" y="350.8" width="2.3" height="2.3" fill="#d0a4e0" opacity="0.62"/>
<rect x="1329.3" y="353.7" width="2.9" height="2.9" fill="#989898" opacity="0.87"/>
<rect x="1146.3" y="558.8" width="3.2" height="3.2" fill="#e8a0ee" opacity="0.92"/>
<rect x="1238.3" y="320.7" width="2.6" height="2.6" fill="#e8a0ee" opacity="0.60"/>
<rect x="1164.2" y="560.6" width="3.2" height="3.2" fill="#e8a0ee" opacity="0.90"/>
<rect x="1320.3" y="322.8" width="2.9" height="2.9" fill="#808080" opacity="0.71"/>
<rect x="1162.3" y="545.1" width="3.3" height="3.3" fill="#8c8c8c" opacity="0.80"/>
<rect x="1353.4" y="239.9" width="2.7" height="2.7" fill="#e388e8" opacity="0.82"/>
<rect x="1137.4" y="461.5" width="2.4" height="2.4" fill="#e8a0ee" opacity="0.70"/>
<rect x="1342.5" y="232.5" width="2.6" height="2.6" fill="#d896e4" opacity="0.56"/>
<rect x="1305.6" y="232.3" width="3.0" height="3.0" fill="#e388e8" opacity="0.82"/>
<rect x="1271.4" y="443.4" width="3.3" height="3.3" fill="#b8b8b8" opacity="0.87"/>
<rect x="1359.8" y="289.5" width="2.4" height="2.4" fill="#d0a4e0" opacity="0.58"/>
<rect x="1318.8" y="320.6" width="2.5" height="2.5" fill="#8c8c8c" opacity="0.75"/>
<rect x="1150.4" y="557.5" width="3.3" height="3.3" fill="#a8a8a8" opacity="0.60"/>
<rect x="1108.2" y="539.8" width="2.9" height="2.9" fill="#e8a0ee" opacity="0.75"/>
<rect x="1273.4" y="385.0" width="3.3" height="3.3" fill="#b8b8b8" opacity="0.69"/>
<rect x="1325.9" y="332.8" width="3.0" height="3.0" fill="#b8b8b8" opacity="0.66"/>
<rect x="1137.2" y="440.4" width="2.3" height="2.3" fill="#a8a8a8" opacity="0.91"/>
<rect x="1289.0" y="376.7" width="3.3" height="3.3" fill="#d0a4e0" opacity="0.83"/>
<rect x="1150.0" y="555.9" width="2.6" height="2.6" fill="#e388e8" opacity="0.71"/>
<rect x="1176.0" y="548.6" width="3.0" height="3.0" fill="#989898" opacity="0.88"/>
<rect x="1119.5" y="525.3" width="2.7" height="2.7" fill="#d0a4e0" opacity="0.56"/>
<rect x="1348.3" y="297.3" width="2.4" height="2.4" fill="#8c8c8c" opacity="0.78"/>
<rect x="1389.8" y="271.5" width="2.7" height="2.7" fill="#e8a0ee" opacity="0.68"/>
<rect x="1235.3" y="474.1" width="2.4" height="2.4" fill="#808080" opacity="0.59"/>
<rect x="1248.0" y="303.1" width="3.0" height="3.0" fill="#e8a0ee" opacity="0.90"/>
<rect x="1218.5" y="483.0" width="3.1" height="3.1" fill="#d896e4" opacity="0.89"/>
<rect x="1329.2" y="314.0" width="2.3" height="2.3" fill="#e8a0ee" opacity="0.67"/>
<rect x="1268.0" y="439.6" width="3.2" height="3.2" fill="#d896e4" opacity="0.63"/>
<rect x="1344.3" y="290.7" width="2.7" height="2.7" fill="#989898" opacity="0.70"/>
<rect x="1098.2" y="526.7" width="2.3" height="2.3" fill="#e388e8" opacity="0.85"/>
<rect x="1184.2" y="397.9" width="3.1" height="3.1" fill="#808080" opacity="0.68"/>
<rect x="1191.4" y="532.4" width="2.2" height="2.2" fill="#808080" opacity="0.92"/>
<rect x="1131.8" y="474.6" width="2.7" height="2.7" fill="#e388e8" opacity="0.65"/>
<rect x="1302.0" y="245.6" width="3.3" height="3.3" fill="#a8a8a8" opacity="0.90"/>
<rect x="1286.3" y="364.9" width="3.4" height="3.4" fill="#d896e4" opacity="0.93"/>
<rect x="1365.8" y="257.0" width="2.8" height="2.8" fill="#e388e8" opacity="0.72"/>
<rect x="1297.5" y="219.4" width="2.3" height="2.3" fill="#d0a4e0" opacity="0.56"/>
<rect x="1278.8" y="392.2" width="2.2" height="2.2" fill="#a8a8a8" opacity="0.78"/>
<rect x="1315.1" y="214.4" width="3.2" height="3.2" fill="#e388e8" opacity="0.67"/>
<rect x="1101.4" y="529.2" width="2.8" height="2.8" fill="#989898" opacity="0.94"/>
<rect x="1266.5" y="431.2" width="2.3" height="2.3" fill="#989898" opacity="0.69"/>
<rect x="1369.4" y="263.2" width="2.8" height="2.8" fill="#989898" opacity="0.83"/>
<rect x="1209.7" y="537.1" width="2.9" height="2.9" fill="#e8a0ee" opacity="0.91"/>
<rect x="1283.2" y="407.7" width="2.3" height="2.3" fill="#e8a0ee" opacity="0.82"/>
<rect x="1105.0" y="529.7" width="3.0" height="3.0" fill="#d896e4" opacity="0.70"/>
<rect x="1148.4" y="568.9" width="3.1" height="3.1" fill="#e8a0ee" opacity="0.91"/>
<rect x="1260.7" y="288.3" width="3.3" height="3.3" fill="#e388e8" opacity="0.75"/>
<rect x="1341.9" y="295.7" width="2.4" height="2.4" fill="#989898" opacity="0.85"/>
<rect x="1370.0" y="263.0" width="2.9" height="2.9" fill="#989898" opacity="0.57"/>
<rect x="1332.3" y="231.4" width="2.7" height="2.7" fill="#d896e4" opacity="0.75"/>
<rect x="1249.9" y="432.5" width="2.3" height="2.3" fill="#d0a4e0" opacity="0.93"/>
<rect x="1250.6" y="298.8" width="2.5" height="2.5" fill="#8c8c8c" opacity="0.76"/>
<rect x="1336.3" y="229.4" width="2.6" height="2.6" fill="#e8a0ee" opacity="0.91"/>
<rect x="1105.0" y="531.0" width="3.0" height="3.0" fill="#e388e8" opacity="0.95"/>
<rect x="1295.7" y="367.1" width="2.2" height="2.2" fill="#989898" opacity="0.55"/>
<rect x="1354.0" y="261.2" width="2.9" height="2.9" fill="#8c8c8c" opacity="0.75"/>
<rect x="1370.7" y="263.6" width="3.4" height="3.4" fill="#e388e8" opacity="0.72"/>
<rect x="1351.4" y="311.8" width="3.2" height="3.2" fill="#e8a0ee" opacity="0.59"/>
<rect x="1352.0" y="284.9" width="3.4" height="3.4" fill="#989898" opacity="0.85"/>
<rect x="1293.9" y="370.9" width="3.3" height="3.3" fill="#d896e4" opacity="0.58"/>
<rect x="1134.7" y="432.7" width="2.5" height="2.5" fill="#e388e8" opacity="0.76"/>
<rect x="1194.4" y="516.8" width="2.3" height="2.3" fill="#d0a4e0" opacity="0.57"/>
<rect x="1272.0" y="459.4" width="3.1" height="3.1" fill="#989898" opacity="0.56"/>
<rect x="1316.4" y="220.9" width="3.3" height="3.3" fill="#989898" opacity="0.81"/>
<rect x="1271.4" y="420.2" width="2.2" height="2.2" fill="#e8a0ee" opacity="0.59"/>
<rect x="1205.3" y="501.6" width="3.4" height="3.4" fill="#d0a4e0" opacity="0.64"/>
<rect x="1357.4" y="253.8" width="3.2" height="3.2" fill="#d0a4e0" opacity="0.66"/>
<rect x="1146.0" y="560.6" width="2.9" height="2.9" fill="#e388e8" opacity="0.64"/>
<rect x="1120.2" y="450.8" width="2.7" height="2.7" fill="#d896e4" opacity="0.66"/>
<rect x="1187.3" y="563.1" width="3.4" height="3.4" fill="#e388e8" opacity="0.65"/>
<rect x="1155.9" y="414.7" width="2.8" height="2.8" fill="#e388e8" opacity="0.57"/>
<rect x="1118.7" y="530.5" width="3.2" height="3.2" fill="#d896e4" opacity="0.75"/>
<rect x="1354.2" y="243.2" width="3.4" height="3.4" fill="#b8b8b8" opacity="0.60"/>
<rect x="1256.7" y="419.3" width="3.4" height="3.4" fill="#e8a0ee" opacity="0.66"/>
<rect x="1155.6" y="430.2" width="3.2" height="3.2" fill="#e8a0ee" opacity="0.56"/>
<rect x="1243.4" y="479.3" width="3.1" height="3.1" fill="#d0a4e0" opacity="0.72"/>
<rect x="1350.2" y="307.4" width="2.2" height="2.2" fill="#d0a4e0" opacity="0.59"/>
<rect x="1114.4" y="528.4" width="3.2" height="3.2" fill="#a8a8a8" opacity="0.90"/>
<rect x="1096.5" y="508.3" width="2.3" height="2.3" fill="#e388e8" opacity="0.64"/>
<rect x="1351.7" y="268.3" width="3.3" height="3.3" fill="#e8a0ee" opacity="0.56"/>
<rect x="1260.2" y="416.4" width="3.2" height="3.2" fill="#a8a8a8" opacity="0.63"/>
<rect x="1248.6" y="443.9" width="2.8" height="2.8" fill="#a8a8a8" opacity="0.60"/>
<rect x="1094.6" y="529.9" width="2.5" height="2.5" fill="#e388e8" opacity="0.92"/>
<rect x="1261.4" y="443.5" width="2.8" height="2.8" fill="#b8b8b8" opacity="0.83"/>
<rect x="1222.3" y="323.0" width="2.7" height="2.7" fill="#989898" opacity="0.93"/>
<rect x="1298.2" y="350.0" width="2.4" height="2.4" fill="#d0a4e0" opacity="0.62"/>
<rect x="1111.7" y="538.9" width="2.8" height="2.8" fill="#d0a4e0" opacity="0.56"/>
<rect x="1327.8" y="298.3" width="3.3" height="3.3" fill="#d0a4e0" opacity="0.64"/>
<rect x="1278.5" y="384.4" width="2.5" height="2.5" fill="#e8a0ee" opacity="0.71"/>
<rect x="1261.4" y="279.8" width="2.8" height="2.8" fill="#d896e4" opacity="0.66"/>
<rect x="1353.4" y="263.6" width="2.3" height="2.3" fill="#b8b8b8" opacity="0.71"/>
<rect x="1252.9" y="413.5" width="2.6" height="2.6" fill="#d0a4e0" opacity="0.72"/>
<rect x="1163.2" y="547.5" width="2.5" height="2.5" fill="#989898" opacity="0.64"/>
<rect x="1216.9" y="489.8" width="2.5" height="2.5" fill="#e388e8" opacity="0.62"/>
<rect x="1309.5" y="337.5" width="2.9" height="2.9" fill="#e388e8" opacity="0.76"/>
<rect x="1210.1" y="364.7" width="2.9" height="2.9" fill="#e8a0ee" opacity="0.56"/>
<rect x="1286.8" y="391.2" width="2.7" height="2.7" fill="#e8a0ee" opacity="0.70"/>
<rect x="1147.5" y="565.5" width="3.0" height="3.0" fill="#e388e8" opacity="0.75"/>
<rect x="904.9" y="615.4" width="2.6" height="2.6" fill="#cfcfcf" opacity="0.60"/>
<rect x="916.6" y="599.9" width="2.6" height="2.6" fill="#cfcfcf" opacity="0.60"/>
<rect x="801.4" y="507.1" width="2.6" height="2.6" fill="#cfcfcf" opacity="0.60"/>
<rect x="869.0" y="476.2" width="2.6" height="2.6" fill="#cfcfcf" opacity="0.60"/>
<rect x="953.9" y="460.3" width="2.6" height="2.6" fill="#cfcfcf" opacity="0.60"/>
<rect x="854.6" y="448.8" width="2.6" height="2.6" fill="#cfcfcf" opacity="0.60"/>
<rect x="847.7" y="586.4" width="2.6" height="2.6" fill="#cfcfcf" opacity="0.60"/>
<rect x="942.2" y="533.8" width="2.6" height="2.6" fill="#cfcfcf" opacity="0.60"/>
<rect x="928.8" y="502.0" width="2.6" height="2.6" fill="#cfcfcf" opacity="0.60"/>
<rect x="904.8" y="443.1" width="2.6" height="2.6" fill="#cfcfcf" opacity="0.60"/>
<rect x="928.7" y="498.4" width="2.6" height="2.6" fill="#cfcfcf" opacity="0.60"/>
<rect x="914.6" y="548.3" width="2.6" height="2.6" fill="#cfcfcf" opacity="0.60"/>
<rect x="949.1" y="532.5" width="2.6" height="2.6" fill="#cfcfcf" opacity="0.60"/>
<rect x="954.2" y="580.0" width="2.6" height="2.6" fill="#cfcfcf" opacity="0.60"/>
<rect x="846.4" y="614.7" width="2.6" height="2.6" fill="#cfcfcf" opacity="0.60"/>
<rect x="983.0" y="448.8" width="2.6" height="2.6" fill="#cfcfcf" opacity="0.60"/>
<rect x="863.3" y="569.3" width="2.6" height="2.6" fill="#cfcfcf" opacity="0.60"/>
<rect x="974.8" y="564.3" width="2.6" height="2.6" fill="#cfcfcf" opacity="0.60"/>
<rect x="828.7" y="617.6" width="2.6" height="2.6" fill="#cfcfcf" opacity="0.60"/>
<rect x="828.4" y="506.1" width="2.6" height="2.6" fill="#cfcfcf" opacity="0.60"/>
<rect x="922.1" y="570.5" width="2.6" height="2.6" fill="#cfcfcf" opacity="0.60"/>
<rect x="855.1" y="450.2" width="2.6" height="2.6" fill="#cfcfcf" opacity="0.60"/>
<rect x="915.9" y="605.9" width="2.6" height="2.6" fill="#cfcfcf" opacity="0.60"/>
<rect x="869.5" y="462.7" width="2.6" height="2.6" fill="#cfcfcf" opacity="0.60"/>
<rect x="976.5" y="435.6" width="2.6" height="2.6" fill="#cfcfcf" opacity="0.60"/>
<rect x="899.3" y="544.3" width="2.6" height="2.6" fill="#cfcfcf" opacity="0.60"/>
<rect x="870.2" y="608.3" width="2.6" height="2.6" fill="#cfcfcf" opacity="0.60"/>
<rect x="878.5" y="491.6" width="2.6" height="2.6" fill="#cfcfcf" opacity="0.60"/>
<rect x="868.8" y="467.9" width="2.6" height="2.6" fill="#cfcfcf" opacity="0.60"/>
<rect x="870.7" y="603.7" width="2.6" height="2.6" fill="#cfcfcf" opacity="0.60"/>
<path d="M1353.0,237.6 L1352.9,246.4 L1352.0,253.4 L1349.0,264.3 L1344.6,273.7 L1342.7,278.9 L1339.1,284.9 L1334.8,288.2 L1329.8,294.1 L1325.8,300.7 L1322.4,309.0 L1317.3,316.5 L1311.3,323.8 L1306.6,330.1 L1302.0,338.6 L1295.2,342.8 L1290.9,349.7 L1285.7,356.9 L1283.5,362.7 L1278.9,372.3 L1274.2,381.2 L1273.5,388.3 L1270.5,394.2 L1266.3,399.8 L1259.4,403.5 L1255.8,408.5 L1252.0,412.7 L1249.9,421.8 L1246.4,429.4 L1243.4,439.6 L1239.0,447.9 L1235.2,454.1 L1229.7,457.2 L1226.8,464.9 L1222.3,473.9 L1215.9,480.4 L1211.2,486.9 L1207.9,493.9 L1203.8,503.5 L1197.9,510.5 L1192.7,516.5 L1191.8,519.9 L1189.0,525.8 L1181.4,528.1 L1174.1,533.2 L1167.5,537.5 L1163.0,542.5 L1160.0,548.5 L1157.4,551.7 L1148.4,556.7 L1140.8,560.1 L1130.7,556.5 L1122.2,555.4 L1120.6,547.4 L1117.6,538.8 L1122.1,531.4 L1124.1,523.9 L1121.4,510.6 L1120.4,494.3 L1126.9,488.1 L1131.5,483.2 L1134.9,474.8 L1137.1,466.5 L1142.0,462.0 L1146.3,455.4 L1148.1,444.5 L1150.0,435.0 L1154.1,432.2 L1161.2,429.4 L1166.6,420.0 L1170.4,412.7 L1177.6,410.2 L1181.5,405.3 L1188.3,394.8 L1192.7,386.8 L1197.0,381.5 L1203.8,375.7 L1210.0,371.8 L1214.9,366.4 L1219.7,359.3 L1226.0,349.7 L1229.5,344.4 L1235.3,338.6 L1238.5,333.1 L1242.7,329.3 L1244.1,325.6 L1246.4,320.1 L1247.4,315.9 L1246.4,309.0 L1251.1,305.0 L1255.7,297.8 L1260.3,290.3 L1264.9,283.0 L1270.9,276.1 L1276.1,271.9 L1278.9,266.7 L1281.6,262.6 L1289.1,259.4 L1294.6,257.1 L1298.7,253.4 L1303.9,247.8 L1310.6,241.7 L1315.0,238.5 L1323.8,238.4 L1333.5,239.5 L1342.8,238.2 Z" fill="#f6d4f6" stroke="#e253e6" stroke-width="2.6" stroke-linejoin="round"/>
<path d="M1348.4,241.5 L1348.0,246.5 L1347.7,253.2 L1344.9,262.4 L1340.4,270.9 L1336.4,275.5 L1334.5,281.7 L1328.7,286.9 L1325.8,291.3 L1322.1,299.1 L1317.8,305.8 L1312.0,312.1 L1306.9,320.8 L1300.7,327.9 L1297.5,335.5 L1291.1,341.8 L1286.9,347.0 L1282.2,351.8 L1279.3,359.8 L1272.9,367.6 L1269.4,377.9 L1268.3,383.0 L1264.8,390.2 L1259.4,396.8 L1254.5,400.1 L1250.3,405.1 L1247.2,409.5 L1243.2,418.7 L1240.6,425.4 L1236.9,434.1 L1232.3,443.3 L1228.2,447.2 L1223.5,452.9 L1220.5,461.2 L1215.4,469.1 L1210.9,476.0 L1204.7,482.4 L1200.4,491.6 L1196.5,498.5 L1190.5,506.2 L1185.8,511.8 L1183.5,514.7 L1181.6,520.7 L1176.2,524.2 L1168.5,529.3 L1164.3,533.0 L1158.2,539.2 L1156.8,544.3 L1152.5,548.3 L1146.4,551.8 L1139.7,555.2 L1131.6,554.4 L1126.0,551.8 L1125.6,546.3 L1122.5,539.4 L1125.5,534.0 L1128.4,526.9 L1129.0,513.0 L1129.0,500.2 L1133.6,493.4 L1139.5,488.6 L1142.1,480.2 L1146.1,472.7 L1151.1,468.4 L1155.1,461.4 L1157.6,453.2 L1160.6,442.2 L1167.0,438.2 L1170.4,435.8 L1174.6,428.6 L1180.1,419.4 L1184.2,414.2 L1190.1,411.2 L1194.7,402.9 L1201.5,392.9 L1208.4,386.2 L1212.1,381.4 L1215.8,376.5 L1222.3,371.5 L1227.4,364.7 L1233.5,354.9 L1238.5,349.5 L1242.5,343.6 L1246.1,340.3 L1249.7,334.2 L1251.6,329.0 L1253.9,325.2 L1255.6,320.6 L1255.3,315.1 L1258.9,310.6 L1264.2,303.7 L1267.5,295.1 L1273.7,289.0 L1280.0,282.2 L1284.2,277.5 L1288.0,272.7 L1289.9,268.3 L1295.9,264.1 L1301.3,261.7 L1305.5,257.6 L1310.0,252.0 L1315.1,245.7 L1320.3,242.2 L1328.6,244.0 L1334.0,242.9 L1341.2,241.7 Z" fill="#efc4f4" stroke="#cf78f0" stroke-width="1.8" stroke-linejoin="round"/>
<rect x="1284.5" y="330.7" width="2.3" height="2.3" fill="#ffffff" opacity="0.75"/>
<rect x="1302.1" y="253.4" width="2.1" height="2.1" fill="#c9c4f4" opacity="0.75"/>
<rect x="1126.2" y="512.0" width="2.2" height="2.2" fill="#ffffff" opacity="0.75"/>
<rect x="1301.4" y="306.4" width="2.0" height="2.0" fill="#fbeefc" opacity="0.75"/>
<rect x="1186.1" y="516.1" width="2.8" height="2.8" fill="#e070e8" opacity="0.75"/>
<rect x="1167.5" y="498.7" width="3.5" height="3.5" fill="#e88cec" opacity="0.75"/>
<rect x="1269.8" y="342.4" width="2.7" height="2.7" fill="#e88cec" opacity="0.75"/>
<rect x="1323.2" y="248.6" width="3.2" height="3.2" fill="#fbeefc" opacity="0.75"/>
<rect x="1233.2" y="349.1" width="3.3" height="3.3" fill="#ffffff" opacity="0.75"/>
<rect x="1201.0" y="462.6" width="3.3" height="3.3" fill="#fbeefc" opacity="0.75"/>
<rect x="1182.7" y="523.1" width="3.0" height="3.0" fill="#c9c4f4" opacity="0.75"/>
<rect x="1169.7" y="450.5" width="2.2" height="2.2" fill="#c9c4f4" opacity="0.75"/>
<rect x="1161.7" y="537.7" width="3.5" height="3.5" fill="#ffffff" opacity="0.75"/>
<rect x="1148.2" y="517.5" width="3.3" height="3.3" fill="#e88cec" opacity="0.75"/>
<rect x="1207.7" y="394.2" width="2.8" height="2.8" fill="#ffffff" opacity="0.75"/>
<rect x="1154.0" y="448.1" width="3.5" height="3.5" fill="#e070e8" opacity="0.75"/>
<rect x="1285.0" y="330.3" width="3.3" height="3.3" fill="#e88cec" opacity="0.75"/>
<rect x="1175.7" y="481.8" width="2.7" height="2.7" fill="#e88cec" opacity="0.75"/>
<rect x="1212.8" y="442.6" width="3.1" height="3.1" fill="#fbeefc" opacity="0.75"/>
<rect x="1242.7" y="390.1" width="2.9" height="2.9" fill="#e070e8" opacity="0.75"/>
<rect x="1237.8" y="424.7" width="3.4" height="3.4" fill="#ffffff" opacity="0.75"/>
<rect x="1129.2" y="506.2" width="2.8" height="2.8" fill="#ffffff" opacity="0.75"/>
<rect x="1212.4" y="475.0" width="2.3" height="2.3" fill="#e070e8" opacity="0.75"/>
<rect x="1209.3" y="482.7" width="3.0" height="3.0" fill="#fbeefc" opacity="0.75"/>
<rect x="1316.6" y="300.4" width="2.5" height="2.5" fill="#ffffff" opacity="0.75"/>
<rect x="1260.9" y="371.9" width="2.5" height="2.5" fill="#d9a2f0" opacity="0.75"/>
<rect x="1238.7" y="377.6" width="3.2" height="3.2" fill="#ffffff" opacity="0.75"/>
<rect x="1294.4" y="343.7" width="3.1" height="3.1" fill="#e070e8" opacity="0.75"/>
<rect x="1157.9" y="476.9" width="3.6" height="3.6" fill="#d9a2f0" opacity="0.75"/>
<rect x="1211.1" y="476.6" width="2.2" height="2.2" fill="#e88cec" opacity="0.75"/>
<rect x="1267.3" y="281.9" width="3.5" height="3.5" fill="#ffffff" opacity="0.75"/>
<rect x="1296.7" y="273.1" width="3.3" height="3.3" fill="#d9a2f0" opacity="0.75"/>
<rect x="1196.0" y="505.8" width="3.8" height="3.8" fill="#ffffff" opacity="0.75"/>
<rect x="1272.2" y="378.8" width="3.6" height="3.6" fill="#ffffff" opacity="0.75"/>
<rect x="1294.9" y="322.9" width="3.1" height="3.1" fill="#ffffff" opacity="0.75"/>
<rect x="1294.3" y="293.1" width="3.8" height="3.8" fill="#ffffff" opacity="0.75"/>
<rect x="1176.3" y="429.7" width="2.4" height="2.4" fill="#d9a2f0" opacity="0.75"/>
<rect x="1192.3" y="390.4" width="3.0" height="3.0" fill="#ffffff" opacity="0.75"/>
<rect x="1198.0" y="507.9" width="3.6" height="3.6" fill="#ffffff" opacity="0.75"/>
<rect x="1222.4" y="414.4" width="3.4" height="3.4" fill="#e88cec" opacity="0.75"/>
<rect x="1266.5" y="348.3" width="2.4" height="2.4" fill="#e070e8" opacity="0.75"/>
<rect x="1258.7" y="386.1" width="3.2" height="3.2" fill="#c9c4f4" opacity="0.75"/>
<rect x="1218.7" y="418.8" width="2.9" height="2.9" fill="#e88cec" opacity="0.75"/>
<rect x="1182.0" y="518.1" width="2.8" height="2.8" fill="#ffffff" opacity="0.75"/>
<rect x="1213.0" y="479.1" width="3.2" height="3.2" fill="#ffffff" opacity="0.75"/>
<rect x="1174.9" y="418.7" width="3.2" height="3.2" fill="#e88cec" opacity="0.75"/>
<rect x="1161.7" y="435.7" width="3.4" height="3.4" fill="#c9c4f4" opacity="0.75"/>
<rect x="1276.4" y="316.7" width="2.9" height="2.9" fill="#ffffff" opacity="0.75"/>
<rect x="1326.8" y="276.4" width="3.6" height="3.6" fill="#ffffff" opacity="0.75"/>
<rect x="1228.5" y="379.8" width="3.7" height="3.7" fill="#e88cec" opacity="0.75"/>
<rect x="1205.1" y="494.2" width="3.6" height="3.6" fill="#c9c4f4" opacity="0.75"/>
<rect x="1282.5" y="332.3" width="3.4" height="3.4" fill="#ffffff" opacity="0.75"/>
<rect x="1221.9" y="453.7" width="3.2" height="3.2" fill="#c9c4f4" opacity="0.75"/>
<rect x="1163.6" y="510.2" width="3.8" height="3.8" fill="#e88cec" opacity="0.75"/>
<rect x="1242.0" y="426.6" width="2.6" height="2.6" fill="#c9c4f4" opacity="0.75"/>
<rect x="1249.9" y="311.5" width="3.6" height="3.6" fill="#fbeefc" opacity="0.75"/>
<rect x="1169.5" y="450.7" width="3.7" height="3.7" fill="#fbeefc" opacity="0.75"/>
<rect x="1251.0" y="352.9" width="2.5" height="2.5" fill="#c9c4f4" opacity="0.75"/>
<rect x="1214.1" y="482.3" width="3.1" height="3.1" fill="#e88cec" opacity="0.75"/>
<rect x="1262.2" y="341.9" width="2.2" height="2.2" fill="#c9c4f4" opacity="0.75"/>
<rect x="1169.8" y="491.4" width="2.3" height="2.3" fill="#fbeefc" opacity="0.75"/>
<rect x="1201.0" y="425.5" width="3.2" height="3.2" fill="#e070e8" opacity="0.75"/>
<rect x="1136.8" y="553.2" width="3.0" height="3.0" fill="#e070e8" opacity="0.75"/>
<rect x="1206.0" y="474.6" width="3.0" height="3.0" fill="#ffffff" opacity="0.75"/>
<rect x="1127.0" y="508.2" width="3.6" height="3.6" fill="#ffffff" opacity="0.75"/>
<rect x="1199.1" y="420.0" width="3.3" height="3.3" fill="#ffffff" opacity="0.75"/>
<rect x="1138.4" y="485.6" width="2.7" height="2.7" fill="#c9c4f4" opacity="0.75"/>
<rect x="1262.2" y="349.2" width="3.0" height="3.0" fill="#ffffff" opacity="0.75"/>
<rect x="1287.8" y="292.7" width="3.2" height="3.2" fill="#e88cec" opacity="0.75"/>
<rect x="1311.0" y="315.0" width="3.1" height="3.1" fill="#ffffff" opacity="0.75"/>
<rect x="1221.5" y="455.2" width="3.6" height="3.6" fill="#ffffff" opacity="0.75"/>
<rect x="1182.9" y="510.5" width="2.7" height="2.7" fill="#e88cec" opacity="0.75"/>
<rect x="1201.5" y="407.4" width="2.3" height="2.3" fill="#ffffff" opacity="0.75"/>
<rect x="1335.6" y="247.8" width="2.7" height="2.7" fill="#d9a2f0" opacity="0.75"/>
<rect x="1215.9" y="381.3" width="2.5" height="2.5" fill="#e88cec" opacity="0.75"/>
<rect x="1189.1" y="430.4" width="3.2" height="3.2" fill="#c9c4f4" opacity="0.75"/>
<rect x="1148.1" y="536.5" width="3.2" height="3.2" fill="#fbeefc" opacity="0.75"/>
<rect x="1156.7" y="473.1" width="2.4" height="2.4" fill="#ffffff" opacity="0.75"/>
<rect x="1317.6" y="299.0" width="3.5" height="3.5" fill="#e070e8" opacity="0.75"/>
<rect x="1170.0" y="525.0" width="3.4" height="3.4" fill="#e070e8" opacity="0.75"/>
<rect x="1208.6" y="411.3" width="3.7" height="3.7" fill="#fbeefc" opacity="0.75"/>
<rect x="1206.4" y="484.8" width="3.4" height="3.4" fill="#e070e8" opacity="0.75"/>
<rect x="1251.7" y="384.5" width="3.2" height="3.2" fill="#e88cec" opacity="0.75"/>
<rect x="1316.7" y="270.8" width="3.0" height="3.0" fill="#e070e8" opacity="0.75"/>
<rect x="1169.5" y="520.2" width="3.4" height="3.4" fill="#fbeefc" opacity="0.75"/>
<rect x="1165.5" y="456.0" width="3.2" height="3.2" fill="#d9a2f0" opacity="0.75"/>
<rect x="1325.0" y="251.6" width="2.5" height="2.5" fill="#ffffff" opacity="0.75"/>
<rect x="1233.0" y="407.0" width="3.5" height="3.5" fill="#ffffff" opacity="0.75"/>
<rect x="1169.6" y="526.8" width="3.8" height="3.8" fill="#fbeefc" opacity="0.75"/>
<rect x="1265.8" y="381.9" width="2.5" height="2.5" fill="#e070e8" opacity="0.75"/>
<rect x="1283.7" y="358.0" width="2.4" height="2.4" fill="#c9c4f4" opacity="0.75"/>
<rect x="1257.6" y="328.3" width="2.3" height="2.3" fill="#d9a2f0" opacity="0.75"/>
<rect x="1243.4" y="430.2" width="3.4" height="3.4" fill="#ffffff" opacity="0.75"/>
<rect x="1239.8" y="425.6" width="3.1" height="3.1" fill="#d9a2f0" opacity="0.75"/>
<rect x="1304.7" y="317.3" width="3.4" height="3.4" fill="#fbeefc" opacity="0.75"/>
<rect x="1197.1" y="486.7" width="2.3" height="2.3" fill="#e070e8" opacity="0.75"/>
<rect x="1207.9" y="417.4" width="3.1" height="3.1" fill="#e88cec" opacity="0.75"/>
<rect x="1259.9" y="357.2" width="2.3" height="2.3" fill="#e88cec" opacity="0.75"/>
<rect x="1231.9" y="427.1" width="2.9" height="2.9" fill="#e070e8" opacity="0.75"/>
<rect x="1214.4" y="443.4" width="2.7" height="2.7" fill="#e88cec" opacity="0.75"/>
<rect x="1281.8" y="268.6" width="3.6" height="3.6" fill="#fbeefc" opacity="0.75"/>
<rect x="1182.3" y="455.5" width="2.2" height="2.2" fill="#e88cec" opacity="0.75"/>
<rect x="1260.6" y="329.9" width="3.5" height="3.5" fill="#d9a2f0" opacity="0.75"/>
<rect x="1229.3" y="429.8" width="2.6" height="2.6" fill="#c9c4f4" opacity="0.75"/>
<rect x="1151.7" y="523.8" width="2.6" height="2.6" fill="#ffffff" opacity="0.75"/>
<rect x="1283.0" y="362.9" width="3.5" height="3.5" fill="#e88cec" opacity="0.75"/>
<rect x="1152.6" y="522.1" width="2.4" height="2.4" fill="#e070e8" opacity="0.75"/>
<rect x="1304.3" y="271.8" width="2.6" height="2.6" fill="#ffffff" opacity="0.75"/>
<rect x="1246.0" y="340.5" width="3.3" height="3.3" fill="#fbeefc" opacity="0.75"/>
<rect x="1175.2" y="475.2" width="3.3" height="3.3" fill="#c9c4f4" opacity="0.75"/>
<rect x="1243.6" y="386.3" width="3.1" height="3.1" fill="#e88cec" opacity="0.75"/>
<rect x="1258.9" y="368.9" width="3.4" height="3.4" fill="#ffffff" opacity="0.75"/>
<rect x="1310.7" y="320.4" width="3.3" height="3.3" fill="#e070e8" opacity="0.75"/>
<rect x="1325.6" y="296.6" width="3.1" height="3.1" fill="#ffffff" opacity="0.75"/>
<rect x="1285.5" y="309.1" width="3.7" height="3.7" fill="#e070e8" opacity="0.75"/>
<rect x="1157.3" y="455.1" width="2.7" height="2.7" fill="#d9a2f0" opacity="0.75"/>
<rect x="1231.9" y="363.1" width="3.7" height="3.7" fill="#fbeefc" opacity="0.75"/>
<rect x="1274.9" y="283.1" width="3.7" height="3.7" fill="#e88cec" opacity="0.75"/>
<rect x="1274.6" y="279.5" width="3.3" height="3.3" fill="#ffffff" opacity="0.75"/>
<rect x="1284.7" y="313.9" width="3.3" height="3.3" fill="#c9c4f4" opacity="0.75"/>
<rect x="1275.7" y="351.2" width="3.8" height="3.8" fill="#d9a2f0" opacity="0.75"/>
<rect x="1332.4" y="272.4" width="2.5" height="2.5" fill="#e070e8" opacity="0.75"/>
<rect x="1338.5" y="249.1" width="3.1" height="3.1" fill="#d9a2f0" opacity="0.75"/>
<rect x="1154.2" y="463.9" width="3.1" height="3.1" fill="#e88cec" opacity="0.75"/>
<rect x="1198.5" y="464.2" width="3.0" height="3.0" fill="#ffffff" opacity="0.75"/>
<rect x="1327.3" y="268.9" width="2.7" height="2.7" fill="#e88cec" opacity="0.75"/>
<rect x="1172.0" y="520.9" width="3.7" height="3.7" fill="#fbeefc" opacity="0.75"/>
<rect x="1301.2" y="251.9" width="3.3" height="3.3" fill="#ffffff" opacity="0.75"/>
<rect x="1293.2" y="314.3" width="3.3" height="3.3" fill="#fbeefc" opacity="0.75"/>
<rect x="1258.5" y="343.8" width="3.2" height="3.2" fill="#d9a2f0" opacity="0.75"/>
<rect x="1263.1" y="335.0" width="2.8" height="2.8" fill="#fbeefc" opacity="0.75"/>
<rect x="1155.2" y="513.1" width="2.3" height="2.3" fill="#ffffff" opacity="0.75"/>
<rect x="1226.7" y="443.0" width="2.6" height="2.6" fill="#e070e8" opacity="0.75"/>
<rect x="1249.5" y="327.9" width="3.8" height="3.8" fill="#ffffff" opacity="0.75"/>
<rect x="1154.5" y="505.6" width="2.2" height="2.2" fill="#e070e8" opacity="0.75"/>
<rect x="1201.4" y="440.3" width="3.4" height="3.4" fill="#fbeefc" opacity="0.75"/>
<rect x="1330.9" y="249.9" width="3.5" height="3.5" fill="#c9c4f4" opacity="0.75"/>
<rect x="1279.2" y="304.3" width="2.8" height="2.8" fill="#e070e8" opacity="0.75"/>
<rect x="1208.6" y="440.3" width="2.9" height="2.9" fill="#d9a2f0" opacity="0.75"/>
<rect x="1127.5" y="507.9" width="2.1" height="2.1" fill="#e88cec" opacity="0.75"/>
<rect x="1189.4" y="472.0" width="3.4" height="3.4" fill="#e88cec" opacity="0.75"/>
<rect x="1152.1" y="478.3" width="3.7" height="3.7" fill="#ffffff" opacity="0.75"/>
<rect x="1331.8" y="252.0" width="3.6" height="3.6" fill="#e88cec" opacity="0.75"/>
<rect x="1157.2" y="473.3" width="2.4" height="2.4" fill="#ffffff" opacity="0.75"/>
<rect x="1274.1" y="330.2" width="3.2" height="3.2" fill="#c9c4f4" opacity="0.75"/>
<rect x="1278.0" y="308.6" width="2.3" height="2.3" fill="#e070e8" opacity="0.75"/>
<rect x="1303.0" y="267.7" width="3.7" height="3.7" fill="#c9c4f4" opacity="0.75"/>
<rect x="1344.8" y="269.3" width="2.8" height="2.8" fill="#c9c4f4" opacity="0.75"/>
<rect x="1201.5" y="497.3" width="3.1" height="3.1" fill="#ffffff" opacity="0.75"/>
<rect x="1121.1" y="539.2" width="3.5" height="3.5" fill="#d9a2f0" opacity="0.75"/>
<rect x="1235.9" y="402.7" width="2.3" height="2.3" fill="#d9a2f0" opacity="0.75"/>
<rect x="1174.7" y="471.4" width="3.7" height="3.7" fill="#d9a2f0" opacity="0.75"/>
<rect x="1261.0" y="318.2" width="3.1" height="3.1" fill="#c9c4f4" opacity="0.75"/>
<rect x="1262.3" y="335.2" width="2.4" height="2.4" fill="#ffffff" opacity="0.75"/>
<rect x="1268.6" y="317.3" width="3.5" height="3.5" fill="#ffffff" opacity="0.75"/>
<rect x="1293.1" y="342.2" width="3.0" height="3.0" fill="#c9c4f4" opacity="0.75"/>
<rect x="1236.7" y="438.5" width="2.5" height="2.5" fill="#fbeefc" opacity="0.75"/>
<rect x="1237.8" y="425.0" width="2.9" height="2.9" fill="#c9c4f4" opacity="0.75"/>
<rect x="1243.0" y="434.4" width="3.5" height="3.5" fill="#ffffff" opacity="0.75"/>
<rect x="1194.0" y="492.5" width="2.0" height="2.0" fill="#d9a2f0" opacity="0.75"/>
<rect x="1202.7" y="458.0" width="3.7" height="3.7" fill="#d9a2f0" opacity="0.75"/>
<rect x="1197.2" y="401.6" width="3.0" height="3.0" fill="#e070e8" opacity="0.75"/>
<rect x="1221.0" y="441.3" width="3.5" height="3.5" fill="#ffffff" opacity="0.75"/>
<rect x="1183.8" y="475.1" width="3.1" height="3.1" fill="#c9c4f4" opacity="0.75"/>
<rect x="1306.5" y="285.9" width="2.4" height="2.4" fill="#d9a2f0" opacity="0.75"/>
<rect x="1329.2" y="246.9" width="3.3" height="3.3" fill="#ffffff" opacity="0.75"/>
<rect x="1263.4" y="294.5" width="3.6" height="3.6" fill="#fbeefc" opacity="0.75"/>
<rect x="1157.8" y="529.4" width="2.6" height="2.6" fill="#e88cec" opacity="0.75"/>
<rect x="1252.7" y="306.7" width="2.8" height="2.8" fill="#e070e8" opacity="0.75"/>
<rect x="1314.7" y="300.6" width="3.3" height="3.3" fill="#e88cec" opacity="0.75"/>
<rect x="1276.7" y="304.5" width="2.2" height="2.2" fill="#ffffff" opacity="0.75"/>
<rect x="1167.7" y="505.8" width="2.6" height="2.6" fill="#ffffff" opacity="0.75"/>
<rect x="1129.0" y="492.6" width="2.4" height="2.4" fill="#e88cec" opacity="0.75"/>
<rect x="1225.8" y="450.4" width="3.8" height="3.8" fill="#ffffff" opacity="0.75"/>
<rect x="1190.1" y="465.8" width="2.6" height="2.6" fill="#ffffff" opacity="0.75"/>
<rect x="1124.4" y="523.1" width="2.3" height="2.3" fill="#ffffff" opacity="0.75"/>
<rect x="1263.4" y="369.0" width="2.9" height="2.9" fill="#e070e8" opacity="0.75"/>
<rect x="1172.6" y="505.7" width="2.6" height="2.6" fill="#c9c4f4" opacity="0.75"/>
<rect x="1287.4" y="317.4" width="3.6" height="3.6" fill="#e070e8" opacity="0.75"/>
<rect x="1242.5" y="370.8" width="3.5" height="3.5" fill="#ffffff" opacity="0.75"/>
<rect x="1139.0" y="490.1" width="3.1" height="3.1" fill="#d9a2f0" opacity="0.75"/>
<rect x="1136.8" y="474.5" width="2.0" height="2.0" fill="#fbeefc" opacity="0.75"/>
<rect x="1157.6" y="435.3" width="3.4" height="3.4" fill="#c9c4f4" opacity="0.75"/>
<rect x="1256.0" y="356.7" width="2.6" height="2.6" fill="#ffffff" opacity="0.75"/>
<rect x="1222.5" y="363.8" width="2.5" height="2.5" fill="#ffffff" opacity="0.75"/>
<rect x="1278.3" y="287.9" width="2.4" height="2.4" fill="#c9c4f4" opacity="0.75"/>
<rect x="1258.2" y="299.6" width="2.2" height="2.2" fill="#ffffff" opacity="0.75"/>
<rect x="1249.0" y="380.1" width="2.7" height="2.7" fill="#e070e8" opacity="0.75"/>
<rect x="1297.3" y="339.4" width="3.6" height="3.6" fill="#ffffff" opacity="0.75"/>
<rect x="1335.0" y="252.2" width="3.7" height="3.7" fill="#e88cec" opacity="0.75"/>
<rect x="1338.6" y="280.9" width="3.5" height="3.5" fill="#d9a2f0" opacity="0.75"/>
<rect x="1144.1" y="528.1" width="2.0" height="2.0" fill="#e070e8" opacity="0.75"/>
<rect x="1278.2" y="279.9" width="2.2" height="2.2" fill="#d9a2f0" opacity="0.75"/>
<rect x="1344.1" y="249.4" width="2.9" height="2.9" fill="#e88cec" opacity="0.75"/>
<rect x="1284.5" y="311.0" width="2.2" height="2.2" fill="#fbeefc" opacity="0.75"/>
<rect x="1223.4" y="376.0" width="2.7" height="2.7" fill="#e88cec" opacity="0.75"/>
<rect x="1186.4" y="421.5" width="3.0" height="3.0" fill="#ffffff" opacity="0.75"/>
<rect x="1150.7" y="540.2" width="3.3" height="3.3" fill="#c9c4f4" opacity="0.75"/>
<rect x="1290.5" y="265.2" width="3.1" height="3.1" fill="#e070e8" opacity="0.75"/>
<rect x="1202.2" y="418.1" width="2.1" height="2.1" fill="#d9a2f0" opacity="0.75"/>
<rect x="1145.1" y="518.2" width="2.8" height="2.8" fill="#e070e8" opacity="0.75"/>
<rect x="1244.9" y="394.2" width="3.2" height="3.2" fill="#e070e8" opacity="0.75"/>
<rect x="1204.8" y="395.8" width="3.3" height="3.3" fill="#d9a2f0" opacity="0.75"/>
<rect x="1210.5" y="411.7" width="2.4" height="2.4" fill="#e070e8" opacity="0.75"/>
<rect x="1241.3" y="347.5" width="3.0" height="3.0" fill="#d9a2f0" opacity="0.75"/>
<rect x="1202.4" y="436.6" width="2.3" height="2.3" fill="#fbeefc" opacity="0.75"/>
<rect x="1262.3" y="368.7" width="2.3" height="2.3" fill="#ffffff" opacity="0.75"/>
<rect x="1234.0" y="356.0" width="2.2" height="2.2" fill="#c9c4f4" opacity="0.75"/>
<rect x="1199.5" y="430.5" width="2.6" height="2.6" fill="#fbeefc" opacity="0.75"/>
<rect x="1190.8" y="470.8" width="3.4" height="3.4" fill="#ffffff" opacity="0.75"/>
<rect x="1262.2" y="293.5" width="3.2" height="3.2" fill="#ffffff" opacity="0.75"/>
<rect x="1222.2" y="414.1" width="2.9" height="2.9" fill="#ffffff" opacity="0.75"/>
<rect x="1221.0" y="468.8" width="3.2" height="3.2" fill="#e88cec" opacity="0.75"/>
<rect x="1178.2" y="465.3" width="3.4" height="3.4" fill="#e88cec" opacity="0.75"/>
<rect x="1313.7" y="272.9" width="2.3" height="2.3" fill="#e88cec" opacity="0.75"/>
<rect x="1160.3" y="472.1" width="3.3" height="3.3" fill="#ffffff" opacity="0.75"/>
<rect x="1255.8" y="376.8" width="2.1" height="2.1" fill="#ffffff" opacity="0.75"/>
<rect x="1155.7" y="476.0" width="2.8" height="2.8" fill="#c9c4f4" opacity="0.75"/>
<rect x="1189.6" y="455.4" width="3.1" height="3.1" fill="#d9a2f0" opacity="0.75"/>
<rect x="1183.4" y="435.5" width="2.7" height="2.7" fill="#c9c4f4" opacity="0.75"/>
<rect x="1226.3" y="426.7" width="2.0" height="2.0" fill="#e88cec" opacity="0.75"/>
<rect x="1285.0" y="307.0" width="2.8" height="2.8" fill="#e88cec" opacity="0.75"/>
<rect x="1153.4" y="458.2" width="2.9" height="2.9" fill="#d9a2f0" opacity="0.75"/>
<rect x="1225.3" y="446.5" width="2.7" height="2.7" fill="#d9a2f0" opacity="0.75"/>
<rect x="1277.1" y="277.6" width="2.1" height="2.1" fill="#d9a2f0" opacity="0.75"/>
<rect x="1131.7" y="492.2" width="3.2" height="3.2" fill="#ffffff" opacity="0.75"/>
<rect x="1172.8" y="516.6" width="2.4" height="2.4" fill="#d9a2f0" opacity="0.75"/>
<rect x="1191.2" y="501.6" width="2.6" height="2.6" fill="#ffffff" opacity="0.75"/>
<rect x="1221.1" y="460.1" width="3.3" height="3.3" fill="#e88cec" opacity="0.75"/>
<rect x="1308.8" y="286.8" width="3.7" height="3.7" fill="#e070e8" opacity="0.75"/>
<rect x="1197.6" y="414.0" width="2.6" height="2.6" fill="#d9a2f0" opacity="0.75"/>
<rect x="1322.1" y="239.8" width="3.4" height="3.4" fill="#ffffff" opacity="0.75"/>
<rect x="1146.3" y="514.5" width="2.4" height="2.4" fill="#fbeefc" opacity="0.75"/>
<rect x="1252.2" y="384.2" width="2.6" height="2.6" fill="#c9c4f4" opacity="0.75"/>
<rect x="1248.4" y="358.9" width="2.6" height="2.6" fill="#d9a2f0" opacity="0.75"/>
<rect x="1287.0" y="335.3" width="2.9" height="2.9" fill="#ffffff" opacity="0.75"/>
<rect x="1277.1" y="369.6" width="2.0" height="2.0" fill="#c9c4f4" opacity="0.75"/>
<rect x="1137.3" y="474.2" width="3.2" height="3.2" fill="#d9a2f0" opacity="0.75"/>
<rect x="1188.9" y="460.6" width="2.7" height="2.7" fill="#fbeefc" opacity="0.75"/>
<rect x="1186.4" y="499.7" width="3.6" height="3.6" fill="#e88cec" opacity="0.75"/>
<rect x="1275.7" y="287.7" width="2.5" height="2.5" fill="#ffffff" opacity="0.75"/>
<rect x="1226.2" y="355.4" width="3.5" height="3.5" fill="#e88cec" opacity="0.75"/>
<rect x="1272.0" y="277.3" width="2.6" height="2.6" fill="#ffffff" opacity="0.75"/>
<rect x="1300.0" y="317.3" width="3.7" height="3.7" fill="#e070e8" opacity="0.75"/>
<rect x="1259.9" y="294.7" width="3.6" height="3.6" fill="#e88cec" opacity="0.75"/>
<rect x="1204.7" y="454.2" width="2.1" height="2.1" fill="#d9a2f0" opacity="0.75"/>
<rect x="1158.3" y="488.0" width="2.6" height="2.6" fill="#e070e8" opacity="0.75"/>
<rect x="1237.7" y="406.9" width="3.4" height="3.4" fill="#ffffff" opacity="0.75"/>
<rect x="1317.2" y="313.9" width="3.2" height="3.2" fill="#c9c4f4" opacity="0.75"/>
<rect x="1198.7" y="497.9" width="3.4" height="3.4" fill="#ffffff" opacity="0.75"/>
<rect x="1201.5" y="455.7" width="3.3" height="3.3" fill="#ffffff" opacity="0.75"/>
<rect x="1172.7" y="448.6" width="2.4" height="2.4" fill="#e070e8" opacity="0.75"/>
<rect x="1291.2" y="327.7" width="3.1" height="3.1" fill="#fbeefc" opacity="0.75"/>
<rect x="1316.6" y="299.4" width="3.5" height="3.5" fill="#d9a2f0" opacity="0.75"/>
<rect x="1151.5" y="531.3" width="3.3" height="3.3" fill="#d9a2f0" opacity="0.75"/>
<rect x="1234.6" y="362.6" width="3.2" height="3.2" fill="#c9c4f4" opacity="0.75"/>
<rect x="1131.9" y="550.0" width="3.4" height="3.4" fill="#e070e8" opacity="0.75"/>
<rect x="1197.2" y="461.3" width="2.3" height="2.3" fill="#e88cec" opacity="0.75"/>
<rect x="1141.9" y="474.5" width="3.4" height="3.4" fill="#fbeefc" opacity="0.75"/>
<rect x="1212.6" y="414.7" width="3.0" height="3.0" fill="#c9c4f4" opacity="0.75"/>
<rect x="1296.1" y="264.9" width="2.3" height="2.3" fill="#ffffff" opacity="0.75"/>
<rect x="1236.3" y="426.8" width="3.4" height="3.4" fill="#e88cec" opacity="0.75"/>
<rect x="1125.6" y="517.5" width="2.4" height="2.4" fill="#ffffff" opacity="0.75"/>
<rect x="1262.1" y="314.0" width="2.4" height="2.4" fill="#ffffff" opacity="0.75"/>
<rect x="1327.4" y="296.9" width="2.5" height="2.5" fill="#e070e8" opacity="0.75"/>
<rect x="1239.8" y="391.7" width="3.8" height="3.8" fill="#ffffff" opacity="0.75"/>
<rect x="1318.6" y="308.9" width="3.0" height="3.0" fill="#c9c4f4" opacity="0.75"/>
<rect x="1292.6" y="341.2" width="2.4" height="2.4" fill="#d9a2f0" opacity="0.75"/>
<rect x="1125.9" y="509.0" width="3.5" height="3.5" fill="#d9a2f0" opacity="0.75"/>
<rect x="1263.4" y="304.0" width="3.4" height="3.4" fill="#ffffff" opacity="0.75"/>
<rect x="1153.3" y="494.2" width="2.2" height="2.2" fill="#e070e8" opacity="0.75"/>
<rect x="1184.3" y="448.2" width="2.5" height="2.5" fill="#e88cec" opacity="0.75"/>
<rect x="1242.4" y="332.3" width="3.5" height="3.5" fill="#ffffff" opacity="0.75"/>
<rect x="1125.8" y="547.2" width="2.4" height="2.4" fill="#e88cec" opacity="0.75"/>
<rect x="1197.4" y="477.8" width="3.4" height="3.4" fill="#ffffff" opacity="0.75"/>
<rect x="1253.8" y="395.7" width="2.5" height="2.5" fill="#fbeefc" opacity="0.75"/>
<rect x="1126.0" y="552.8" width="3.5" height="3.5" fill="#ffffff" opacity="0.75"/>
<rect x="1137.5" y="550.9" width="2.6" height="2.6" fill="#ffffff" opacity="0.75"/>
<rect x="1315.8" y="311.0" width="2.3" height="2.3" fill="#fbeefc" opacity="0.75"/>
<rect x="1250.9" y="371.9" width="2.6" height="2.6" fill="#e070e8" opacity="0.75"/>
<rect x="1144.3" y="486.7" width="2.1" height="2.1" fill="#e070e8" opacity="0.75"/>
<rect x="1170.7" y="482.9" width="3.0" height="3.0" fill="#ffffff" opacity="0.75"/>
<rect x="1218.7" y="392.2" width="2.3" height="2.3" fill="#d9a2f0" opacity="0.75"/>
<rect x="1178.0" y="477.0" width="2.6" height="2.6" fill="#fbeefc" opacity="0.75"/>
<rect x="1291.9" y="340.2" width="2.1" height="2.1" fill="#ffffff" opacity="0.75"/>
<rect x="1163.1" y="515.7" width="2.2" height="2.2" fill="#ffffff" opacity="0.75"/>
<rect x="1231.7" y="402.7" width="3.6" height="3.6" fill="#e070e8" opacity="0.75"/>
<rect x="1256.4" y="365.1" width="2.1" height="2.1" fill="#e070e8" opacity="0.75"/>
<rect x="1185.4" y="523.7" width="3.4" height="3.4" fill="#c9c4f4" opacity="0.75"/>
<rect x="1261.7" y="355.8" width="3.4" height="3.4" fill="#d9a2f0" opacity="0.75"/>
<rect x="1137.0" y="467.7" width="2.5" height="2.5" fill="#c9c4f4" opacity="0.75"/>
<rect x="1350.2" y="244.0" width="3.5" height="3.5" fill="#e88cec" opacity="0.75"/>
<rect x="1268.2" y="321.9" width="3.6" height="3.6" fill="#d9a2f0" opacity="0.75"/>
<rect x="1323.5" y="256.4" width="3.7" height="3.7" fill="#fbeefc" opacity="0.75"/>
<rect x="1277.5" y="325.0" width="2.8" height="2.8" fill="#c9c4f4" opacity="0.75"/>
<rect x="1147.7" y="536.7" width="3.3" height="3.3" fill="#fbeefc" opacity="0.75"/>
<rect x="1205.5" y="489.7" width="2.2" height="2.2" fill="#fbeefc" opacity="0.75"/>
<rect x="1256.5" y="352.1" width="3.4" height="3.4" fill="#ffffff" opacity="0.75"/>
<rect x="1213.0" y="465.5" width="2.1" height="2.1" fill="#ffffff" opacity="0.75"/>
<rect x="1168.3" y="460.2" width="3.2" height="3.2" fill="#ffffff" opacity="0.75"/>
<rect x="1324.4" y="265.0" width="2.7" height="2.7" fill="#ffffff" opacity="0.75"/>
<rect x="1196.1" y="470.3" width="2.8" height="2.8" fill="#d9a2f0" opacity="0.75"/>
<rect x="1180.3" y="515.3" width="2.0" height="2.0" fill="#ffffff" opacity="0.75"/>
<rect x="1195.1" y="438.8" width="3.3" height="3.3" fill="#c9c4f4" opacity="0.75"/>
<rect x="1302.7" y="303.2" width="2.2" height="2.2" fill="#c9c4f4" opacity="0.75"/>
<rect x="1268.8" y="333.1" width="3.2" height="3.2" fill="#e070e8" opacity="0.75"/>
<rect x="1124.5" y="525.1" width="3.6" height="3.6" fill="#ffffff" opacity="0.75"/>
<rect x="1262.6" y="340.2" width="2.1" height="2.1" fill="#ffffff" opacity="0.75"/>
<rect x="1290.5" y="269.1" width="3.6" height="3.6" fill="#ffffff" opacity="0.75"/>
<rect x="1197.4" y="505.6" width="2.9" height="2.9" fill="#ffffff" opacity="0.75"/>
<rect x="1299.8" y="280.2" width="3.1" height="3.1" fill="#fbeefc" opacity="0.75"/>
<rect x="1305.7" y="285.0" width="2.4" height="2.4" fill="#d9a2f0" opacity="0.75"/>
<rect x="1274.0" y="363.8" width="3.4" height="3.4" fill="#e070e8" opacity="0.75"/>
<rect x="1208.6" y="483.2" width="3.7" height="3.7" fill="#c9c4f4" opacity="0.75"/>
<rect x="1284.7" y="295.1" width="2.6" height="2.6" fill="#ffffff" opacity="0.75"/>
<rect x="1315.4" y="290.9" width="3.7" height="3.7" fill="#c9c4f4" opacity="0.75"/>
<rect x="1162.4" y="502.3" width="2.8" height="2.8" fill="#d9a2f0" opacity="0.75"/>
<rect x="1328.4" y="250.1" width="3.2" height="3.2" fill="#d9a2f0" opacity="0.75"/>
<rect x="1312.2" y="272.6" width="2.2" height="2.2" fill="#ffffff" opacity="0.75"/>
<rect x="1186.1" y="440.4" width="3.5" height="3.5" fill="#d9a2f0" opacity="0.75"/>
<rect x="1124.8" y="502.6" width="2.5" height="2.5" fill="#ffffff" opacity="0.75"/>
<rect x="1286.1" y="342.8" width="3.5" height="3.5" fill="#ffffff" opacity="0.75"/>
<rect x="1232.7" y="413.7" width="2.6" height="2.6" fill="#c9c4f4" opacity="0.75"/>
<rect x="1207.6" y="477.2" width="2.3" height="2.3" fill="#ffffff" opacity="0.75"/>
<rect x="1229.2" y="410.2" width="2.0" height="2.0" fill="#ffffff" opacity="0.75"/>
<rect x="1271.0" y="314.8" width="3.1" height="3.1" fill="#e070e8" opacity="0.75"/>
<rect x="1192.0" y="432.6" width="3.0" height="3.0" fill="#fbeefc" opacity="0.75"/>
<rect x="1290.5" y="295.0" width="2.4" height="2.4" fill="#c9c4f4" opacity="0.75"/>
<rect x="1135.4" y="527.8" width="2.8" height="2.8" fill="#ffffff" opacity="0.75"/>
<rect x="1321.6" y="252.3" width="2.3" height="2.3" fill="#e070e8" opacity="0.75"/>
<rect x="1252.1" y="354.9" width="2.5" height="2.5" fill="#c9c4f4" opacity="0.75"/>
<rect x="1281.9" y="286.6" width="2.8" height="2.8" fill="#fbeefc" opacity="0.75"/>
<rect x="1326.9" y="267.1" width="3.4" height="3.4" fill="#d9a2f0" opacity="0.75"/>
<rect x="1261.2" y="307.7" width="2.6" height="2.6" fill="#e070e8" opacity="0.75"/>
<rect x="1267.9" y="293.9" width="2.5" height="2.5" fill="#fbeefc" opacity="0.75"/>
<rect x="1257.8" y="374.1" width="2.1" height="2.1" fill="#c9c4f4" opacity="0.75"/>
<rect x="1197.1" y="490.8" width="2.1" height="2.1" fill="#d9a2f0" opacity="0.75"/>
<rect x="1248.1" y="332.8" width="2.6" height="2.6" fill="#e88cec" opacity="0.75"/>
<rect x="1141.6" y="543.4" width="2.4" height="2.4" fill="#ffffff" opacity="0.75"/>
<rect x="1222.5" y="370.9" width="3.5" height="3.5" fill="#e88cec" opacity="0.75"/>
<rect x="1263.9" y="379.6" width="2.6" height="2.6" fill="#fbeefc" opacity="0.75"/>
<rect x="1222.8" y="458.1" width="2.2" height="2.2" fill="#e88cec" opacity="0.75"/>
<rect x="1134.7" y="550.2" width="3.6" height="3.6" fill="#ffffff" opacity="0.75"/>
<rect x="1125.4" y="544.5" width="3.8" height="3.8" fill="#ffffff" opacity="0.75"/>
<rect x="1207.7" y="430.6" width="2.5" height="2.5" fill="#c9c4f4" opacity="0.75"/>
<rect x="1170.7" y="485.7" width="2.9" height="2.9" fill="#ffffff" opacity="0.75"/>
<rect x="1163.4" y="464.9" width="2.9" height="2.9" fill="#e070e8" opacity="0.75"/>
<rect x="1189.2" y="458.6" width="3.0" height="3.0" fill="#ffffff" opacity="0.75"/>
<rect x="1304.5" y="327.9" width="2.9" height="2.9" fill="#e88cec" opacity="0.75"/>
<rect x="1207.2" y="405.3" width="3.5" height="3.5" fill="#c9c4f4" opacity="0.75"/>
<rect x="1154.9" y="438.9" width="2.7" height="2.7" fill="#d9a2f0" opacity="0.75"/>
<rect x="1305.0" y="288.4" width="2.8" height="2.8" fill="#c9c4f4" opacity="0.75"/>
<rect x="1351.9" y="244.8" width="3.3" height="3.3" fill="#d9a2f0" opacity="0.75"/>
<path d="M1257.5,358.1 L1253.2,363.8 L1248.3,368.3 L1241.5,373.7 L1233.4,377.5 L1224.8,382.8 L1218.6,388.6 L1214.9,395.7 L1209.3,401.6 L1202.8,408.5 L1196.4,414.6 L1191.8,420.9 L1187.1,429.4 L1181.3,437.9 L1177.8,446.1 L1172.8,453.7 L1168.6,462.8 L1163.3,468.4 L1157.4,475.7 L1158.6,482.4 L1159.3,490.6 L1166.2,494.0 L1174.1,498.0 L1181.4,495.5 L1187.1,492.4 L1192.2,487.0 L1198.2,479.5 L1202.9,474.2 L1209.3,468.3 L1212.2,460.2 L1214.9,451.7 L1220.5,445.0 L1226.0,440.5 L1229.8,433.7 L1233.4,425.7 L1240.0,419.5 L1244.6,412.7 L1248.1,402.5 L1252.0,394.2 L1252.6,385.1 L1255.7,377.5 L1256.7,370.3 L1259.4,364.6 L1257.4,360.7 Z" fill="#a7c2ef" stroke="#6487f0" stroke-width="2.6" stroke-linejoin="round"/>
<path d="M1259.0,359.1 L1255.6,364.2 L1250.3,369.7 L1244.0,375.3 L1237.8,380.5 L1230.6,386.8 L1224.9,393.0 L1221.0,399.4 L1215.7,406.0 L1210.7,413.6 L1203.8,419.7 L1198.8,426.7 L1194.3,434.4 L1188.9,443.0 L1184.4,450.6 L1180.4,459.6 L1174.6,466.9 L1168.6,472.8 L1164.0,480.3 L1163.6,486.3 L1162.6,492.9 L1168.3,494.1 L1172.0,496.5 L1177.1,492.1 L1182.5,489.3 L1188.3,483.2 L1193.1,475.9 L1197.8,469.4 L1203.2,464.1 L1206.8,456.9 L1210.4,448.6 L1215.8,442.1 L1220.6,436.8 L1225.2,430.5 L1228.8,422.5 L1234.9,415.2 L1239.3,409.1 L1242.9,400.7 L1248.2,391.6 L1251.6,384.5 L1254.0,376.4 L1256.0,370.1 L1259.1,364.4 L1259.1,361.6 Z" fill="#9fd3d6" opacity="0.85"/>
<rect x="1232.5" y="415.0" width="3.4" height="3.4" fill="#c2d4f6" opacity="0.7"/>
<rect x="1160.5" y="484.8" width="2.8" height="2.8" fill="#ffffff" opacity="0.7"/>
<rect x="1208.9" y="460.0" width="3.0" height="3.0" fill="#ffffff" opacity="0.7"/>
<rect x="1204.4" y="462.0" width="3.1" height="3.1" fill="#c2d4f6" opacity="0.7"/>
<rect x="1200.5" y="445.3" width="3.3" height="3.3" fill="#c2d4f6" opacity="0.7"/>
<rect x="1208.6" y="455.2" width="2.4" height="2.4" fill="#c2d4f6" opacity="0.7"/>
<rect x="1230.2" y="401.6" width="2.3" height="2.3" fill="#ffffff" opacity="0.7"/>
<rect x="1195.2" y="443.9" width="2.7" height="2.7" fill="#93b4f0" opacity="0.7"/>
<rect x="1243.5" y="375.3" width="2.6" height="2.6" fill="#ffffff" opacity="0.7"/>
<rect x="1188.4" y="442.6" width="3.2" height="3.2" fill="#c2d4f6" opacity="0.7"/>
<rect x="1236.5" y="394.8" width="2.2" height="2.2" fill="#ffffff" opacity="0.7"/>
<rect x="1194.3" y="452.6" width="3.2" height="3.2" fill="#b9e6dc" opacity="0.7"/>
<rect x="1230.1" y="432.0" width="2.1" height="2.1" fill="#ffffff" opacity="0.7"/>
<rect x="1174.4" y="481.3" width="2.7" height="2.7" fill="#b9e6dc" opacity="0.7"/>
<rect x="1189.9" y="482.3" width="3.1" height="3.1" fill="#c2d4f6" opacity="0.7"/>
<rect x="1175.9" y="476.4" width="2.9" height="2.9" fill="#ffffff" opacity="0.7"/>
<rect x="1203.8" y="446.1" width="2.4" height="2.4" fill="#c2d4f6" opacity="0.7"/>
<rect x="1229.3" y="424.7" width="2.6" height="2.6" fill="#b9e6dc" opacity="0.7"/>
<rect x="1210.7" y="406.8" width="3.2" height="3.2" fill="#ffffff" opacity="0.7"/>
<rect x="1159.6" y="482.2" width="2.2" height="2.2" fill="#93b4f0" opacity="0.7"/>
<rect x="1194.8" y="440.7" width="3.3" height="3.3" fill="#b9e6dc" opacity="0.7"/>
<rect x="1194.9" y="444.0" width="2.5" height="2.5" fill="#93b4f0" opacity="0.7"/>
<rect x="1213.1" y="439.5" width="2.7" height="2.7" fill="#ffffff" opacity="0.7"/>
<rect x="1252.3" y="365.2" width="3.1" height="3.1" fill="#b9e6dc" opacity="0.7"/>
<rect x="1162.0" y="480.1" width="2.3" height="2.3" fill="#c2d4f6" opacity="0.7"/>
<rect x="1201.6" y="463.7" width="2.8" height="2.8" fill="#c2d4f6" opacity="0.7"/>
<rect x="1255.3" y="362.3" width="2.9" height="2.9" fill="#93b4f0" opacity="0.7"/>
<line x1="1213.05" y1="425.71" x2="1194.51" y2="452.58" stroke="#58e07c" stroke-width="5" stroke-linecap="butt"/>
<ellipse cx="1213.0" cy="425.7" rx="10.5" ry="5" fill="#4fe672" transform="rotate(-35 1213.0 425.7)"/>
<ellipse cx="1194.5" cy="452.6" rx="11" ry="5.5" fill="#27e04c" transform="rotate(-35 1194.5 452.6)"/>
<ellipse cx="1291.8" cy="299.7" rx="11.5" ry="15.5" fill="#a9c6ec" stroke="#5f8cf0" stroke-width="3" transform="rotate(24 1291.8 299.7)"/>
<ellipse cx="1291.8" cy="299.7" rx="4.5" ry="7.5" fill="#a6d8d0" transform="rotate(24 1291.8 299.7)"/>
<ellipse cx="1324.2" cy="271.9" rx="5" ry="6.5" fill="none" stroke="#c98cf2" stroke-width="1.8"/>
</g>
<path d="M1170.5,289.0 L1261.0,160.6 L1407.2,142.5 L1441.6,262.5 L1351.8,396.7" fill="none" stroke="#2e2e2e" stroke-width="2.6" stroke-linejoin="miter"/>
<path d="M1170.5,289.0 L960.9,581.6 L1160.8,699.0 L1351.8,396.7" fill="none" stroke="#2e2e2e" stroke-width="2.8" stroke-linejoin="miter"/>
<line x1="1170.50" y1="289.00" x2="1351.80" y2="396.70" stroke="#1a1a1a" stroke-width="4.2" stroke-linecap="butt"/>
<text transform="translate(55.43,1266.30) scale(1.0006,1)" font-family='"Liberation Serif", serif' font-weight="bold" font-size="78.02" fill="#000" >B</text>
<text transform="translate(350.02,1313.70) scale(0.9680,1)" font-family='"Liberation Sans", sans-serif' font-weight="bold" font-size="58.76" fill="#18315f" >CD31</text>
<text transform="translate(497.13,1290.70) scale(0.9468,1)" font-family='"Liberation Sans", sans-serif' font-weight="bold" font-size="40.28" fill="#18315f" >high</text>
<text transform="translate(578.02,1313.70) scale(0.9695,1)" font-family='"Liberation Sans", sans-serif' font-weight="bold" font-size="58.76" fill="#18315f" >CD34</text>
<text transform="translate(725.63,1290.70) scale(0.9468,1)" font-family='"Liberation Sans", sans-serif' font-weight="bold" font-size="40.28" fill="#18315f" >high</text>
<line x1="212.60" y1="1559.60" x2="212.60" y2="2138.30" stroke="#000" stroke-width="4.8" stroke-linecap="butt"/>
<line x1="192.60" y1="2135.90" x2="912.00" y2="2135.90" stroke="#000" stroke-width="4.6" stroke-linecap="butt"/>
<line x1="192.60" y1="2135.90" x2="212.60" y2="2135.90" stroke="#000" stroke-width="4.8" stroke-linecap="butt"/>
<text transform="translate(163.17,2147.75) scale(1.0128,1)" font-family='"Liberation Sans", sans-serif' font-weight="bold" font-size="35.34" fill="#111" >0</text>
<line x1="192.60" y1="2021.12" x2="212.60" y2="2021.12" stroke="#000" stroke-width="4.8" stroke-linecap="butt"/>
<text transform="translate(141.80,2032.97) scale(1.0527,1)" font-family='"Liberation Sans", sans-serif' font-weight="bold" font-size="35.34" fill="#111" >20</text>
<line x1="192.60" y1="1906.34" x2="212.60" y2="1906.34" stroke="#000" stroke-width="4.8" stroke-linecap="butt"/>
<text transform="translate(142.55,1918.19) scale(1.0327,1)" font-family='"Liberation Sans", sans-serif' font-weight="bold" font-size="35.34" fill="#111" >40</text>
<line x1="192.60" y1="1791.56" x2="212.60" y2="1791.56" stroke="#000" stroke-width="4.8" stroke-linecap="butt"/>
<text transform="translate(141.70,1803.41) scale(1.0553,1)" font-family='"Liberation Sans", sans-serif' font-weight="bold" font-size="35.34" fill="#111" >60</text>
<line x1="192.60" y1="1676.78" x2="212.60" y2="1676.78" stroke="#000" stroke-width="4.8" stroke-linecap="butt"/>
<text transform="translate(141.89,1688.63) scale(1.0502,1)" font-family='"Liberation Sans", sans-serif' font-weight="bold" font-size="35.34" fill="#111" >80</text>
<line x1="192.60" y1="1562.00" x2="212.60" y2="1562.00" stroke="#000" stroke-width="4.8" stroke-linecap="butt"/>
<text transform="translate(120.76,1573.85) scale(1.0579,1)" font-family='"Liberation Sans", sans-serif' font-weight="bold" font-size="35.34" fill="#111" >100</text>
<line x1="351.50" y1="2135.90" x2="351.50" y2="2154.90" stroke="#000" stroke-width="4.6" stroke-linecap="butt"/>
<line x1="560.70" y1="2135.90" x2="560.70" y2="2154.90" stroke="#000" stroke-width="4.6" stroke-linecap="butt"/>
<line x1="769.60" y1="2135.90" x2="769.60" y2="2154.90" stroke="#000" stroke-width="4.6" stroke-linecap="butt"/>
<text transform="translate(83.85,2105.98) rotate(-90) scale(0.9908,1)" font-family='"Liberation Sans", sans-serif' font-weight="bold" font-size="59.66" fill="#000">% of CD31+CD34+</text>
<text transform="translate(324.87,2195.00) scale(0.9855,1)" font-family='"Liberation Sans", sans-serif' font-weight="bold" font-size="37.96" fill="#111" >LA</text>
<text transform="translate(517.34,2195.00) scale(0.9990,1)" font-family='"Liberation Sans", sans-serif' font-weight="bold" font-size="37.96" fill="#111" >MLA</text>
<text transform="translate(735.31,2195.00) scale(0.9556,1)" font-family='"Liberation Sans", sans-serif' font-weight="bold" font-size="37.96" fill="#111" >SVF</text>
<line x1="352.90" y1="1636.10" x2="769.90" y2="1636.10" stroke="#000" stroke-width="5.0" stroke-linecap="butt"/>
<line x1="352.90" y1="1739.70" x2="561.40" y2="1739.70" stroke="#000" stroke-width="5.0" stroke-linecap="butt"/>
<text x="532.83 565.93" y="1624.60" font-family='"DejaVu Sans", sans-serif' font-weight="bold" font-size="43.52" fill="#000" stroke="#000" stroke-width="0.6">**</text>
<text x="428.23 460.03" y="1730.10" font-family='"DejaVu Sans", sans-serif' font-weight="bold" font-size="43.52" fill="#000" stroke="#000" stroke-width="0.6">**</text>
<path d="M312.0,1915.2 L323.2,1935.8 L300.8,1935.8 Z" fill="#1fb01f"/>
<path d="M352.5,1924.5 L363.8,1945.0 L341.2,1945.0 Z" fill="#1fb01f"/>
<path d="M392.2,1923.2 L403.4,1943.7 L380.9,1943.7 Z" fill="#1fb01f"/>
<path d="M292.4,1945.7 L303.6,1966.2 L281.1,1966.2 Z" fill="#1fb01f"/>
<path d="M332.1,1955.8 L343.4,1976.2 L320.9,1976.2 Z" fill="#1fb01f"/>
<path d="M371.8,1953.5 L383.1,1974.0 L360.6,1974.0 Z" fill="#1fb01f"/>
<path d="M412.1,1979.5 L423.4,2000.0 L400.9,2000.0 Z" fill="#1fb01f"/>
<path d="M371.8,1984.0 L383.1,2004.5 L360.6,2004.5 Z" fill="#1fb01f"/>
<path d="M292.4,1996.0 L303.6,2016.5 L281.1,2016.5 Z" fill="#1fb01f"/>
<path d="M332.1,1991.2 L343.4,2011.7 L320.9,2011.7 Z" fill="#1fb01f"/>
<path d="M371.8,2006.5 L383.1,2027.0 L360.6,2027.0 Z" fill="#1fb01f"/>
<path d="M412.1,2013.2 L423.4,2033.7 L400.9,2033.7 Z" fill="#1fb01f"/>
<path d="M292.4,2029.0 L303.6,2049.6 L281.1,2049.6 Z" fill="#1fb01f"/>
<path d="M371.8,2031.7 L383.1,2052.2 L360.6,2052.2 Z" fill="#1fb01f"/>
<path d="M371.8,2055.6 L383.1,2076.1 L360.6,2076.1 Z" fill="#1fb01f"/>
<path d="M332.1,2070.1 L343.4,2090.6 L320.9,2090.6 Z" fill="#1fb01f"/>
<rect x="550.1" y="1794.0" width="22.0" height="22.0" fill="#f2464b"/>
<rect x="550.1" y="1840.3" width="22.0" height="22.0" fill="#f2464b"/>
<rect x="579.8" y="1878.7" width="22.0" height="22.0" fill="#f2464b"/>
<rect x="490.5" y="1898.6" width="22.0" height="22.0" fill="#f2464b"/>
<rect x="520.2" y="1895.1" width="22.0" height="22.0" fill="#f2464b"/>
<rect x="609.7" y="1903.1" width="22.0" height="22.0" fill="#f2464b"/>
<rect x="579.8" y="1913.7" width="22.0" height="22.0" fill="#f2464b"/>
<rect x="550.1" y="1929.8" width="22.0" height="22.0" fill="#f2464b"/>
<rect x="490.5" y="1968.7" width="22.0" height="22.0" fill="#f2464b"/>
<rect x="550.1" y="1975.3" width="22.0" height="22.0" fill="#f2464b"/>
<rect x="520.2" y="1984.6" width="22.0" height="22.0" fill="#f2464b"/>
<rect x="579.8" y="1983.8" width="22.0" height="22.0" fill="#f2464b"/>
<rect x="609.7" y="1982.5" width="22.0" height="22.0" fill="#f2464b"/>
<rect x="550.1" y="2012.4" width="22.0" height="22.0" fill="#f2464b"/>
<rect x="550.1" y="2055.5" width="22.0" height="22.0" fill="#f2464b"/>
<rect x="550.1" y="2105.1" width="22.0" height="22.0" fill="#f2464b"/>
<circle cx="771.1" cy="1797.6" r="11.2" fill="#000"/>
<circle cx="771.1" cy="1846.6" r="11.2" fill="#000"/>
<circle cx="790.9" cy="1907.7" r="11.2" fill="#000"/>
<circle cx="711.5" cy="1920.2" r="11.2" fill="#000"/>
<circle cx="830.6" cy="1921.5" r="11.2" fill="#000"/>
<circle cx="790.9" cy="1930.7" r="11.2" fill="#000"/>
<circle cx="751.2" cy="1937.9" r="11.2" fill="#000"/>
<circle cx="790.9" cy="1951.1" r="11.2" fill="#000"/>
<circle cx="751.2" cy="1973.9" r="11.2" fill="#000"/>
<circle cx="711.5" cy="1981.0" r="11.2" fill="#000"/>
<circle cx="790.9" cy="1981.8" r="11.2" fill="#000"/>
<circle cx="830.6" cy="1989.0" r="11.2" fill="#000"/>
<circle cx="711.5" cy="2000.9" r="11.2" fill="#000"/>
<circle cx="790.9" cy="2001.4" r="11.2" fill="#000"/>
<circle cx="790.9" cy="2052.5" r="11.2" fill="#000"/>
<circle cx="751.2" cy="2059.9" r="11.2" fill="#000"/>
<line x1="282.40" y1="1995.10" x2="422.10" y2="1995.10" stroke="#000" stroke-width="5.0" stroke-linecap="butt"/>
<line x1="492.80" y1="1955.90" x2="630.50" y2="1955.90" stroke="#000" stroke-width="5.0" stroke-linecap="butt"/>
<line x1="701.40" y1="1953.30" x2="840.70" y2="1953.30" stroke="#000" stroke-width="5.0" stroke-linecap="butt"/>
<text transform="translate(1160.83,1266.60) scale(1.0965,1)" font-family='"Liberation Serif", serif' font-weight="bold" font-size="79.70" fill="#000" >C</text>
<text transform="translate(1455.19,1313.90) scale(0.9769,1)" font-family='"Liberation Sans", sans-serif' font-weight="bold" font-size="59.05" fill="#18315f" >CD31</text>
<text transform="translate(1601.33,1294.44) scale(1.0243,1)" font-family='"Liberation Sans", sans-serif' font-weight="bold" font-size="42.96" fill="#18315f" >+</text>
<text transform="translate(1624.41,1313.90) scale(0.9681,1)" font-family='"Liberation Sans", sans-serif' font-weight="bold" font-size="59.05" fill="#18315f" >CD34</text>
<text transform="translate(1770.53,1294.44) scale(1.0243,1)" font-family='"Liberation Sans", sans-serif' font-weight="bold" font-size="42.96" fill="#18315f" >+</text>
<line x1="1286.80" y1="1575.30" x2="1286.80" y2="2138.30" stroke="#000" stroke-width="4.8" stroke-linecap="butt"/>
<line x1="1264.70" y1="2135.90" x2="1988.00" y2="2135.90" stroke="#000" stroke-width="4.6" stroke-linecap="butt"/>
<line x1="1264.70" y1="2135.90" x2="1286.80" y2="2135.90" stroke="#000" stroke-width="4.8" stroke-linecap="butt"/>
<text transform="translate(1237.60,2147.99) scale(1.0184,1)" font-family='"Liberation Sans", sans-serif' font-weight="bold" font-size="36.04" fill="#111" >0</text>
<line x1="1264.70" y1="2024.26" x2="1286.80" y2="2024.26" stroke="#000" stroke-width="2.6" stroke-linecap="butt"/>
<text transform="translate(1215.68,2036.35) scale(1.0585,1)" font-family='"Liberation Sans", sans-serif' font-weight="bold" font-size="36.04" fill="#111" >20</text>
<line x1="1264.70" y1="1912.62" x2="1286.80" y2="1912.62" stroke="#000" stroke-width="4.8" stroke-linecap="butt"/>
<text transform="translate(1216.45,1924.71) scale(1.0385,1)" font-family='"Liberation Sans", sans-serif' font-weight="bold" font-size="36.04" fill="#111" >40</text>
<line x1="1264.70" y1="1800.98" x2="1286.80" y2="1800.98" stroke="#000" stroke-width="4.8" stroke-linecap="butt"/>
<text transform="translate(1215.58,1813.07) scale(1.0611,1)" font-family='"Liberation Sans", sans-serif' font-weight="bold" font-size="36.04" fill="#111" >60</text>
<line x1="1264.70" y1="1689.34" x2="1286.80" y2="1689.34" stroke="#000" stroke-width="4.8" stroke-linecap="butt"/>
<text transform="translate(1215.78,1701.43) scale(1.0560,1)" font-family='"Liberation Sans", sans-serif' font-weight="bold" font-size="36.04" fill="#111" >80</text>
<line x1="1264.70" y1="1577.70" x2="1286.80" y2="1577.70" stroke="#000" stroke-width="4.8" stroke-linecap="butt"/>
<text transform="translate(1194.10,1589.79) scale(1.0637,1)" font-family='"Liberation Sans", sans-serif' font-weight="bold" font-size="36.04" fill="#111" >100</text>
<line x1="1425.50" y1="2135.90" x2="1425.50" y2="2153.90" stroke="#000" stroke-width="4.6" stroke-linecap="butt"/>
<line x1="1636.00" y1="2135.90" x2="1636.00" y2="2153.90" stroke="#000" stroke-width="4.6" stroke-linecap="butt"/>
<line x1="1845.20" y1="2135.90" x2="1845.20" y2="2153.90" stroke="#000" stroke-width="4.6" stroke-linecap="butt"/>
<text transform="translate(1160.92,2103.14) rotate(-90) scale(0.9174,1)" font-family='"Liberation Sans", sans-serif' font-weight="bold" font-size="62.64" fill="#000">% of CD31+CD34+</text>
<text transform="translate(1399.65,2191.90) scale(0.9790,1)" font-family='"Liberation Sans", sans-serif' font-weight="bold" font-size="38.55" fill="#222" >LA</text>
<text transform="translate(1592.24,2191.90) scale(0.9827,1)" font-family='"Liberation Sans", sans-serif' font-weight="bold" font-size="38.55" fill="#222" >MLA</text>
<text transform="translate(1810.94,2191.90) scale(0.9191,1)" font-family='"Liberation Sans", sans-serif' font-weight="bold" font-size="38.55" fill="#222" >SVF</text>
<line x1="1426.20" y1="1454.00" x2="1845.10" y2="1454.00" stroke="#000" stroke-width="5.0" stroke-linecap="butt"/>
<line x1="1426.20" y1="1553.20" x2="1635.70" y2="1553.20" stroke="#000" stroke-width="5.0" stroke-linecap="butt"/>
<text x="1608.43 1641.53" y="1444.70" font-family='"DejaVu Sans", sans-serif' font-weight="bold" font-size="43.52" fill="#000" stroke="#000" stroke-width="0.6">**</text>
<text x="1504.23 1537.23" y="1545.00" font-family='"DejaVu Sans", sans-serif' font-weight="bold" font-size="43.52" fill="#000" stroke="#000" stroke-width="0.6">**</text>
<path d="M1446.5,1627.2 L1457.8,1647.7 L1435.2,1647.7 Z" fill="#1fb01f"/>
<path d="M1406.8,1642.5 L1418.0,1663.0 L1395.5,1663.0 Z" fill="#1fb01f"/>
<path d="M1406.8,1670.3 L1418.0,1690.8 L1395.5,1690.8 Z" fill="#1fb01f"/>
<path d="M1446.5,1665.5 L1457.8,1686.0 L1435.2,1686.0 Z" fill="#1fb01f"/>
<path d="M1486.2,1690.2 L1497.5,1710.8 L1475.0,1710.8 Z" fill="#1fb01f"/>
<path d="M1446.5,1696.2 L1457.8,1716.8 L1435.2,1716.8 Z" fill="#1fb01f"/>
<path d="M1406.8,1701.5 L1418.0,1722.0 L1395.5,1722.0 Z" fill="#1fb01f"/>
<path d="M1367.1,1704.8 L1378.3,1725.2 L1355.8,1725.2 Z" fill="#1fb01f"/>
<path d="M1486.2,1709.5 L1497.5,1730.0 L1475.0,1730.0 Z" fill="#1fb01f"/>
<path d="M1446.5,1718.0 L1457.8,1738.5 L1435.2,1738.5 Z" fill="#1fb01f"/>
<path d="M1486.2,1737.8 L1497.5,1758.3 L1475.0,1758.3 Z" fill="#1fb01f"/>
<path d="M1406.8,1743.2 L1418.0,1763.7 L1395.5,1763.7 Z" fill="#1fb01f"/>
<path d="M1446.5,1747.7 L1457.8,1768.2 L1435.2,1768.2 Z" fill="#1fb01f"/>
<path d="M1426.6,1768.8 L1437.8,1789.3 L1415.3,1789.3 Z" fill="#1fb01f"/>
<path d="M1466.3,1771.8 L1477.5,1792.2 L1455.0,1792.2 Z" fill="#1fb01f"/>
<path d="M1386.9,1778.3 L1398.2,1798.8 L1375.7,1798.8 Z" fill="#1fb01f"/>
<rect x="1625.6" y="1598.9" width="22.0" height="22.0" fill="#f2464b"/>
<rect x="1625.6" y="1637.8" width="22.0" height="22.0" fill="#f2464b"/>
<rect x="1565.7" y="1689.5" width="22.0" height="22.0" fill="#f2464b"/>
<rect x="1565.7" y="1720.4" width="22.0" height="22.0" fill="#f2464b"/>
<rect x="1595.6" y="1716.5" width="22.0" height="22.0" fill="#f2464b"/>
<rect x="1625.6" y="1714.6" width="22.0" height="22.0" fill="#f2464b"/>
<rect x="1655.2" y="1707.2" width="22.0" height="22.0" fill="#f2464b"/>
<rect x="1685.1" y="1707.2" width="22.0" height="22.0" fill="#f2464b"/>
<rect x="1565.7" y="1775.0" width="22.0" height="22.0" fill="#f2464b"/>
<rect x="1625.6" y="1764.9" width="22.0" height="22.0" fill="#f2464b"/>
<rect x="1595.6" y="1791.9" width="22.0" height="22.0" fill="#f2464b"/>
<rect x="1625.6" y="1786.6" width="22.0" height="22.0" fill="#f2464b"/>
<rect x="1655.2" y="1792.7" width="22.0" height="22.0" fill="#f2464b"/>
<rect x="1625.6" y="1808.6" width="22.0" height="22.0" fill="#f2464b"/>
<rect x="1625.6" y="1847.0" width="22.0" height="22.0" fill="#f2464b"/>
<rect x="1625.6" y="1892.5" width="22.0" height="22.0" fill="#f2464b"/>
<circle cx="1845.9" cy="1655.6" r="11.2" fill="#000"/>
<circle cx="1845.9" cy="1694.0" r="11.2" fill="#000"/>
<circle cx="1786.3" cy="1712.7" r="11.2" fill="#000"/>
<circle cx="1826.0" cy="1711.9" r="11.2" fill="#000"/>
<circle cx="1865.8" cy="1731.2" r="11.2" fill="#000"/>
<circle cx="1906.8" cy="1724.4" r="11.2" fill="#000"/>
<circle cx="1786.3" cy="1740.2" r="11.2" fill="#000"/>
<circle cx="1826.0" cy="1738.4" r="11.2" fill="#000"/>
<circle cx="1786.3" cy="1764.9" r="11.2" fill="#000"/>
<circle cx="1826.0" cy="1774.1" r="11.2" fill="#000"/>
<circle cx="1906.8" cy="1779.4" r="11.2" fill="#000"/>
<circle cx="1865.8" cy="1789.5" r="11.2" fill="#000"/>
<circle cx="1786.3" cy="1790.0" r="11.2" fill="#000"/>
<circle cx="1826.0" cy="1803.8" r="11.2" fill="#000"/>
<circle cx="1845.9" cy="1864.1" r="11.2" fill="#000"/>
<circle cx="1845.9" cy="1910.5" r="11.2" fill="#000"/>
<line x1="1356.50" y1="1720.30" x2="1496.20" y2="1720.30" stroke="#000" stroke-width="5.0" stroke-linecap="butt"/>
<line x1="1567.50" y1="1757.90" x2="1705.90" y2="1757.90" stroke="#000" stroke-width="5.0" stroke-linecap="butt"/>
<line x1="1777.10" y1="1761.40" x2="1916.10" y2="1761.40" stroke="#000" stroke-width="5.0" stroke-linecap="butt"/>
<text transform="translate(48.80,2372.31) scale(1.0436,1)" font-family='"Liberation Serif", serif' font-weight="bold" font-size="76.81" fill="#000" >D</text>
<text transform="translate(427.90,2450.20) scale(0.9831,1)" font-family='"Liberation Sans", sans-serif' font-weight="bold" font-size="58.47" fill="#18315f" >CD31</text>
<text transform="translate(576.05,2426.30) scale(0.9636,1)" font-family='"Liberation Sans", sans-serif' font-weight="bold" font-size="39.31" fill="#18315f" >high</text>
<text transform="translate(655.90,2450.20) scale(0.9846,1)" font-family='"Liberation Sans", sans-serif' font-weight="bold" font-size="58.47" fill="#18315f" >CD34</text>
<text transform="translate(804.55,2426.30) scale(0.9636,1)" font-family='"Liberation Sans", sans-serif' font-weight="bold" font-size="39.31" fill="#18315f" >high</text>
<line x1="288.65" y1="2876.00" x2="288.65" y2="2901.80" stroke="#4a4a4a" stroke-width="3.0" stroke-linecap="butt"/>
<line x1="273.15" y1="2876.00" x2="304.15" y2="2876.00" stroke="#4a4a4a" stroke-width="3.0" stroke-linecap="butt"/>
<rect x="261.90" y="2904.80" width="53.50" height="156.80" fill="#ff8000" stroke="#1a0a00" stroke-width="6.0"/>
<line x1="379.70" y1="2942.70" x2="379.70" y2="2968.50" stroke="#4a4a4a" stroke-width="3.0" stroke-linecap="butt"/>
<line x1="364.20" y1="2942.70" x2="395.20" y2="2942.70" stroke="#4a4a4a" stroke-width="3.0" stroke-linecap="butt"/>
<rect x="353.60" y="2971.50" width="52.20" height="90.10" fill="#a905e0" stroke="#1a0a00" stroke-width="6.0"/>
<line x1="559.80" y1="2799.50" x2="559.80" y2="2847.80" stroke="#4a4a4a" stroke-width="3.0" stroke-linecap="butt"/>
<line x1="544.30" y1="2799.50" x2="575.30" y2="2799.50" stroke="#4a4a4a" stroke-width="3.0" stroke-linecap="butt"/>
<rect x="534.00" y="2850.80" width="51.60" height="210.80" fill="#ff8000" stroke="#1a0a00" stroke-width="6.0"/>
<line x1="648.05" y1="2902.50" x2="648.05" y2="2952.20" stroke="#4a4a4a" stroke-width="3.0" stroke-linecap="butt"/>
<line x1="632.55" y1="2902.50" x2="663.55" y2="2902.50" stroke="#4a4a4a" stroke-width="3.0" stroke-linecap="butt"/>
<rect x="621.70" y="2955.20" width="52.70" height="106.40" fill="#a905e0" stroke="#1a0a00" stroke-width="6.0"/>
<line x1="828.75" y1="2801.60" x2="828.75" y2="2853.20" stroke="#4a4a4a" stroke-width="3.0" stroke-linecap="butt"/>
<line x1="813.25" y1="2801.60" x2="844.25" y2="2801.60" stroke="#4a4a4a" stroke-width="3.0" stroke-linecap="butt"/>
<rect x="802.50" y="2856.20" width="52.50" height="205.40" fill="#ff8000" stroke="#1a0a00" stroke-width="6.0"/>
<line x1="917.95" y1="2906.50" x2="917.95" y2="2941.90" stroke="#4a4a4a" stroke-width="3.0" stroke-linecap="butt"/>
<line x1="902.45" y1="2906.50" x2="933.45" y2="2906.50" stroke="#4a4a4a" stroke-width="3.0" stroke-linecap="butt"/>
<rect x="890.50" y="2944.90" width="54.90" height="116.70" fill="#a905e0" stroke="#1a0a00" stroke-width="6.0"/>
<line x1="228.90" y1="2541.50" x2="228.90" y2="3063.90" stroke="#000" stroke-width="4.8" stroke-linecap="butt"/>
<line x1="208.80" y1="3061.50" x2="981.30" y2="3061.50" stroke="#000" stroke-width="4.6" stroke-linecap="butt"/>
<line x1="208.80" y1="3061.50" x2="228.90" y2="3061.50" stroke="#000" stroke-width="4.8" stroke-linecap="butt"/>
<text transform="translate(178.93,3073.59) scale(0.9845,1)" font-family='"Liberation Sans", sans-serif' font-weight="bold" font-size="36.04" fill="#111" >0</text>
<line x1="208.80" y1="2957.98" x2="228.90" y2="2957.98" stroke="#000" stroke-width="4.8" stroke-linecap="butt"/>
<text transform="translate(157.74,2970.07) scale(1.0232,1)" font-family='"Liberation Sans", sans-serif' font-weight="bold" font-size="36.04" fill="#111" >20</text>
<line x1="208.80" y1="2854.46" x2="228.90" y2="2854.46" stroke="#000" stroke-width="4.8" stroke-linecap="butt"/>
<text transform="translate(158.49,2866.55) scale(1.0038,1)" font-family='"Liberation Sans", sans-serif' font-weight="bold" font-size="36.04" fill="#111" >40</text>
<line x1="208.80" y1="2750.94" x2="228.90" y2="2750.94" stroke="#000" stroke-width="4.8" stroke-linecap="butt"/>
<text transform="translate(157.64,2763.03) scale(1.0257,1)" font-family='"Liberation Sans", sans-serif' font-weight="bold" font-size="36.04" fill="#111" >60</text>
<line x1="208.80" y1="2647.42" x2="228.90" y2="2647.42" stroke="#000" stroke-width="4.8" stroke-linecap="butt"/>
<text transform="translate(157.83,2659.51) scale(1.0208,1)" font-family='"Liberation Sans", sans-serif' font-weight="bold" font-size="36.04" fill="#111" >80</text>
<line x1="208.80" y1="2543.90" x2="228.90" y2="2543.90" stroke="#000" stroke-width="4.8" stroke-linecap="butt"/>
<text transform="translate(136.88,2555.99) scale(1.0283,1)" font-family='"Liberation Sans", sans-serif' font-weight="bold" font-size="36.04" fill="#111" >100</text>
<text transform="translate(105.06,3073.17) rotate(-90) scale(1.0551,1)" font-family='"Liberation Sans", sans-serif' font-weight="bold" font-size="59.53" fill="#000">% of CD31+CD34+</text>
<text transform="translate(306.99,3113.20) scale(0.8905,1)" font-family='"Liberation Sans", sans-serif' font-weight="normal" font-size="46.40" fill="#1c1c1c" >LA</text>
<text transform="translate(578.74,3113.20) scale(0.8774,1)" font-family='"Liberation Sans", sans-serif' font-weight="normal" font-size="46.40" fill="#1c1c1c" >MLA</text>
<text transform="translate(848.25,3113.20) scale(0.8841,1)" font-family='"Liberation Sans", sans-serif' font-weight="normal" font-size="46.40" fill="#1c1c1c" >SVF</text>
<line x1="286.10" y1="2738.40" x2="382.50" y2="2738.40" stroke="#000" stroke-width="5.6" stroke-linecap="butt"/>
<line x1="288.90" y1="2738.40" x2="288.90" y2="2845.00" stroke="#222" stroke-width="3.0" stroke-linecap="butt"/>
<line x1="379.70" y1="2738.40" x2="379.70" y2="2912.70" stroke="#000" stroke-width="5.6" stroke-linecap="butt"/>
<line x1="556.20" y1="2738.40" x2="651.70" y2="2738.40" stroke="#000" stroke-width="5.6" stroke-linecap="butt"/>
<line x1="559.00" y1="2738.40" x2="559.00" y2="2766.80" stroke="#000" stroke-width="5.6" stroke-linecap="butt"/>
<line x1="648.90" y1="2738.40" x2="648.90" y2="2870.40" stroke="#000" stroke-width="5.6" stroke-linecap="butt"/>
<line x1="825.40" y1="2738.40" x2="921.00" y2="2738.40" stroke="#000" stroke-width="5.6" stroke-linecap="butt"/>
<line x1="828.20" y1="2738.40" x2="828.20" y2="2769.50" stroke="#000" stroke-width="5.6" stroke-linecap="butt"/>
<line x1="918.20" y1="2738.40" x2="918.20" y2="2876.00" stroke="#000" stroke-width="5.6" stroke-linecap="butt"/>
<text x="307.59 339.59" y="2726.75" font-family='"DejaVu Sans", sans-serif' font-weight="bold" font-size="45.60" fill="#000" stroke="#000" stroke-width="0.8">**</text>
<text x="546.89 578.69 609.79 641.39" y="2726.75" font-family='"DejaVu Sans", sans-serif' font-weight="bold" font-size="45.60" fill="#000" stroke="#000" stroke-width="0.8">****</text>
<text x="830.89 863.09 895.19" y="2726.75" font-family='"DejaVu Sans", sans-serif' font-weight="bold" font-size="45.60" fill="#000" stroke="#000" stroke-width="0.8">***</text>
<text transform="translate(1167.08,2370.00) scale(0.9172,1)" font-family='"Liberation Serif", serif' font-weight="bold" font-size="75.73" fill="#000" >E</text>
<text transform="translate(1463.21,2451.00) scale(0.9725,1)" font-family='"Liberation Sans", sans-serif' font-weight="bold" font-size="58.91" fill="#18315f" >CD31</text>
<text transform="translate(1607.89,2433.08) scale(1.0334,1)" font-family='"Liberation Sans", sans-serif' font-weight="bold" font-size="43.55" fill="#18315f" >+</text>
<text transform="translate(1631.53,2451.00) scale(0.9637,1)" font-family='"Liberation Sans", sans-serif' font-weight="bold" font-size="58.91" fill="#18315f" >CD34</text>
<text transform="translate(1776.19,2433.08) scale(1.0334,1)" font-family='"Liberation Sans", sans-serif' font-weight="bold" font-size="43.55" fill="#18315f" >+</text>
<line x1="1358.40" y1="2713.70" x2="1358.40" y2="2742.40" stroke="#4a4a4a" stroke-width="3.0" stroke-linecap="butt"/>
<line x1="1342.90" y1="2713.70" x2="1373.90" y2="2713.70" stroke="#4a4a4a" stroke-width="3.0" stroke-linecap="butt"/>
<rect x="1332.50" y="2745.40" width="51.80" height="313.20" fill="#ff8000" stroke="#1a0a00" stroke-width="6.0"/>
<line x1="1444.80" y1="2646.00" x2="1444.80" y2="2673.70" stroke="#4a4a4a" stroke-width="3.0" stroke-linecap="butt"/>
<line x1="1429.30" y1="2646.00" x2="1460.30" y2="2646.00" stroke="#4a4a4a" stroke-width="3.0" stroke-linecap="butt"/>
<rect x="1418.20" y="2676.70" width="53.20" height="381.90" fill="#a905e0" stroke="#1a0a00" stroke-width="6.0"/>
<line x1="1618.60" y1="2739.40" x2="1618.60" y2="2780.20" stroke="#4a4a4a" stroke-width="3.0" stroke-linecap="butt"/>
<line x1="1603.10" y1="2739.40" x2="1634.10" y2="2739.40" stroke="#4a4a4a" stroke-width="3.0" stroke-linecap="butt"/>
<rect x="1593.40" y="2783.20" width="50.40" height="275.40" fill="#ff8000" stroke="#1a0a00" stroke-width="6.0"/>
<line x1="1705.55" y1="2642.00" x2="1705.55" y2="2695.50" stroke="#4a4a4a" stroke-width="3.0" stroke-linecap="butt"/>
<line x1="1690.05" y1="2642.00" x2="1721.05" y2="2642.00" stroke="#4a4a4a" stroke-width="3.0" stroke-linecap="butt"/>
<rect x="1679.10" y="2698.50" width="52.90" height="360.10" fill="#a905e0" stroke="#1a0a00" stroke-width="6.0"/>
<line x1="1878.25" y1="2733.20" x2="1878.25" y2="2774.50" stroke="#4a4a4a" stroke-width="3.0" stroke-linecap="butt"/>
<line x1="1862.75" y1="2733.20" x2="1893.75" y2="2733.20" stroke="#4a4a4a" stroke-width="3.0" stroke-linecap="butt"/>
<rect x="1851.90" y="2777.50" width="52.70" height="281.10" fill="#ff8000" stroke="#1a0a00" stroke-width="6.0"/>
<line x1="1965.30" y1="2665.40" x2="1965.30" y2="2709.70" stroke="#4a4a4a" stroke-width="3.0" stroke-linecap="butt"/>
<line x1="1949.80" y1="2665.40" x2="1980.80" y2="2665.40" stroke="#4a4a4a" stroke-width="3.0" stroke-linecap="butt"/>
<rect x="1939.60" y="2712.70" width="51.40" height="345.90" fill="#a905e0" stroke="#1a0a00" stroke-width="6.0"/>
<line x1="1300.30" y1="2571.40" x2="1300.30" y2="3060.40" stroke="#000" stroke-width="4.8" stroke-linecap="butt"/>
<line x1="1281.80" y1="3058.00" x2="2025.70" y2="3058.00" stroke="#000" stroke-width="4.6" stroke-linecap="butt"/>
<line x1="1281.80" y1="3058.00" x2="1300.30" y2="3058.00" stroke="#000" stroke-width="4.8" stroke-linecap="butt"/>
<text transform="translate(1253.53,3069.85) scale(1.0042,1)" font-family='"Liberation Sans", sans-serif' font-weight="bold" font-size="35.34" fill="#111" >0</text>
<line x1="1281.80" y1="2961.24" x2="1300.30" y2="2961.24" stroke="#000" stroke-width="4.8" stroke-linecap="butt"/>
<text transform="translate(1232.34,2973.09) scale(1.0437,1)" font-family='"Liberation Sans", sans-serif' font-weight="bold" font-size="35.34" fill="#111" >20</text>
<line x1="1281.80" y1="2864.48" x2="1300.30" y2="2864.48" stroke="#000" stroke-width="4.8" stroke-linecap="butt"/>
<text transform="translate(1233.09,2876.33) scale(1.0239,1)" font-family='"Liberation Sans", sans-serif' font-weight="bold" font-size="35.34" fill="#111" >40</text>
<line x1="1281.80" y1="2767.72" x2="1300.30" y2="2767.72" stroke="#000" stroke-width="4.8" stroke-linecap="butt"/>
<text transform="translate(1232.24,2779.57) scale(1.0462,1)" font-family='"Liberation Sans", sans-serif' font-weight="bold" font-size="35.34" fill="#111" >60</text>
<line x1="1281.80" y1="2670.96" x2="1300.30" y2="2670.96" stroke="#000" stroke-width="4.8" stroke-linecap="butt"/>
<text transform="translate(1232.43,2682.81) scale(1.0412,1)" font-family='"Liberation Sans", sans-serif' font-weight="bold" font-size="35.34" fill="#111" >80</text>
<line x1="1281.80" y1="2574.20" x2="1300.30" y2="2574.20" stroke="#000" stroke-width="4.8" stroke-linecap="butt"/>
<text transform="translate(1211.48,2586.05) scale(1.0488,1)" font-family='"Liberation Sans", sans-serif' font-weight="bold" font-size="35.34" fill="#111" >100</text>
<text transform="translate(1182.38,3066.56) rotate(-90) scale(1.0155,1)" font-family='"Liberation Sans", sans-serif' font-weight="bold" font-size="57.63" fill="#000">% of CD31+CD34+</text>
<text transform="translate(1373.03,3106.50) scale(0.8833,1)" font-family='"Liberation Sans", sans-serif' font-weight="normal" font-size="43.49" fill="#262626" >LA</text>
<text transform="translate(1630.11,3106.50) scale(0.8894,1)" font-family='"Liberation Sans", sans-serif' font-weight="normal" font-size="43.49" fill="#262626" >MLA</text>
<text transform="translate(1886.15,3106.50) scale(0.8938,1)" font-family='"Liberation Sans", sans-serif' font-weight="normal" font-size="43.49" fill="#262626" >SVF</text>
<line x1="1355.20" y1="2585.40" x2="1447.80" y2="2585.40" stroke="#000" stroke-width="5.6" stroke-linecap="butt"/>
<line x1="1358.00" y1="2585.40" x2="1358.00" y2="2683.50" stroke="#000" stroke-width="5.6" stroke-linecap="butt"/>
<line x1="1445.00" y1="2585.40" x2="1445.00" y2="2616.00" stroke="#000" stroke-width="5.6" stroke-linecap="butt"/>
<line x1="1615.40" y1="2586.00" x2="1708.60" y2="2586.00" stroke="#000" stroke-width="5.6" stroke-linecap="butt"/>
<line x1="1618.20" y1="2586.00" x2="1618.20" y2="2710.00" stroke="#222" stroke-width="3.0" stroke-linecap="butt"/>
<line x1="1705.80" y1="2586.00" x2="1705.80" y2="2614.30" stroke="#000" stroke-width="5.6" stroke-linecap="butt"/>
<line x1="1875.00" y1="2586.00" x2="1968.30" y2="2586.00" stroke="#000" stroke-width="5.6" stroke-linecap="butt"/>
<line x1="1877.80" y1="2586.00" x2="1877.80" y2="2705.60" stroke="#000" stroke-width="5.6" stroke-linecap="butt"/>
<line x1="1965.50" y1="2586.00" x2="1965.50" y2="2634.00" stroke="#222" stroke-width="3.0" stroke-linecap="butt"/>
<text x="1374.50 1405.60" y="2575.67" font-family='"DejaVu Sans", sans-serif' font-weight="bold" font-size="42.49" fill="#000" stroke="#000" stroke-width="0.5">**</text>
<text x="1619.60 1651.30 1682.30" y="2576.17" font-family='"DejaVu Sans", sans-serif' font-weight="bold" font-size="42.49" fill="#000" stroke="#000" stroke-width="0.5">***</text>
<text x="1896.40 1928.10" y="2576.17" font-family='"DejaVu Sans", sans-serif' font-weight="bold" font-size="42.49" fill="#000" stroke="#000" stroke-width="0.5">**</text>
<rect x="739.90" y="3278.30" width="107.80" height="33.40" fill="#ff9a32"/>
<text transform="translate(884.05,3314.80) scale(1.0376,1)" font-family='"Liberation Sans", sans-serif' font-weight="normal" font-size="48.44" fill="#1c1c1c" >Female</text>
<rect x="1151.90" y="3283.30" width="103.80" height="30.90" fill="#c90aff"/>
<text transform="translate(1295.79,3314.80) scale(1.1028,1)" font-family='"Liberation Sans", sans-serif' font-weight="normal" font-size="48.44" fill="#1c1c1c" >Male</text>
</g>
</svg>
</body></html>
